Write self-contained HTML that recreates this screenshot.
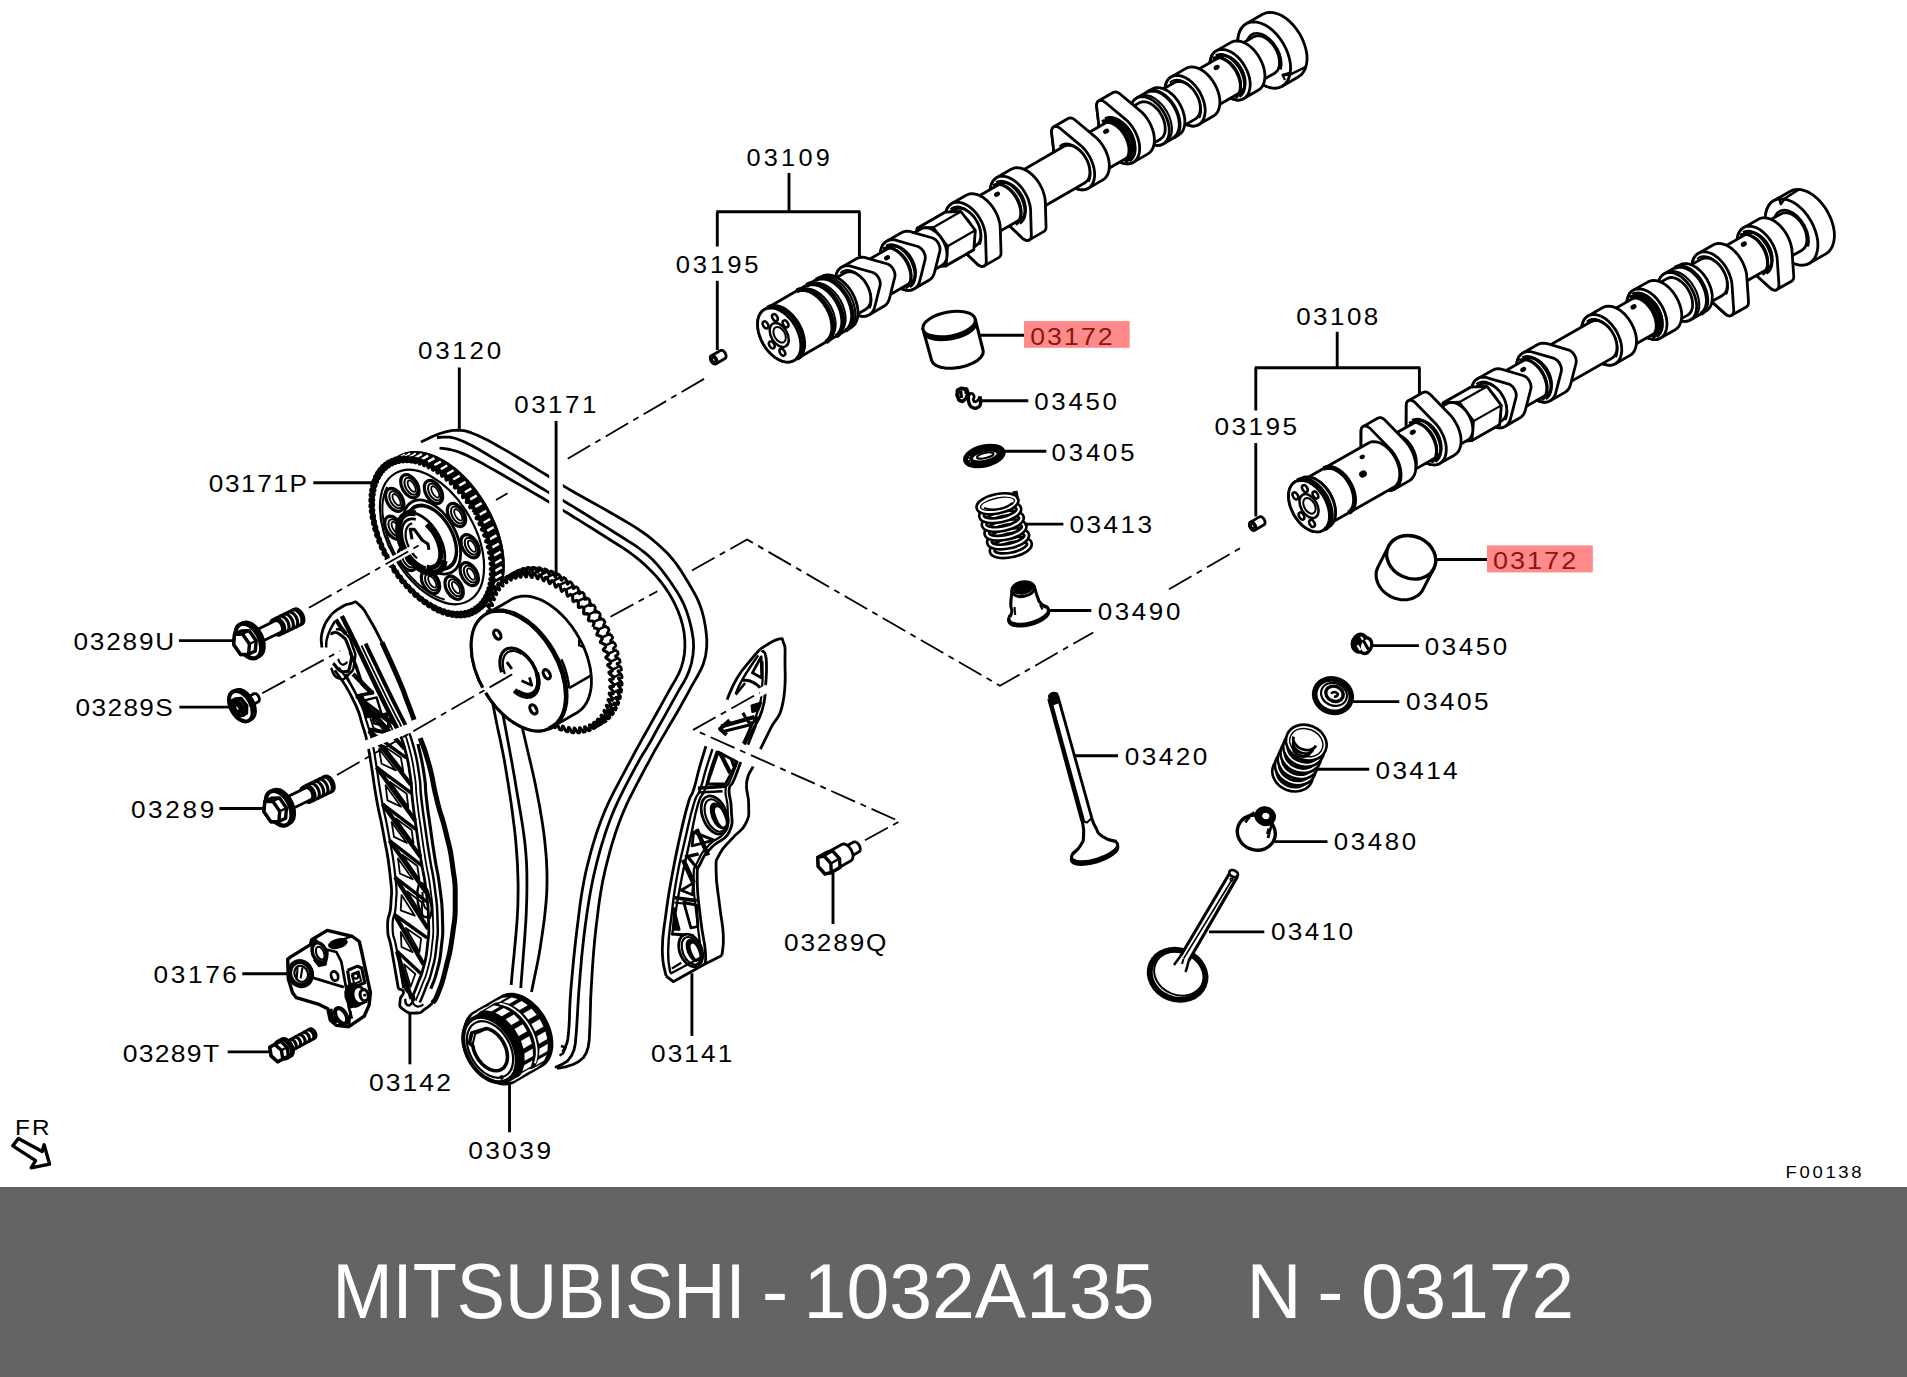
<!DOCTYPE html>
<html><head><meta charset="utf-8"><title>MITSUBISHI - 1032A135 N - 03172</title>
<style>
html,body{margin:0;padding:0;background:#fff;}
body{width:1907px;height:1377px;overflow:hidden;font-family:"Liberation Sans",Arial,sans-serif;}
svg{display:block;}
svg path,svg ellipse,svg circle{stroke-linejoin:round;stroke-linecap:butt;}
</style></head><body>
<svg width="1907" height="1377" viewBox="0 0 1907 1377">
<rect x="0" y="0" width="1907" height="1377" fill="#fff"/>
<rect x="0" y="1187" width="1907" height="190" fill="#646464"/>
<g font-family="'Liberation Sans', Arial, sans-serif" font-size="77.5" fill="#fff">
<text x="332.5" y="1318" textLength="413" lengthAdjust="spacingAndGlyphs">MITSUBISHI</text>
<text x="761.8" y="1318" textLength="26.5" lengthAdjust="spacingAndGlyphs">-</text>
<text x="803.6" y="1318" textLength="351" lengthAdjust="spacingAndGlyphs">1032A135</text>
<text x="1246.6" y="1318" textLength="55" lengthAdjust="spacingAndGlyphs">N</text>
<text x="1317.2" y="1318" textLength="26.2" lengthAdjust="spacingAndGlyphs">-</text>
<text x="1361" y="1318" textLength="213" lengthAdjust="spacingAndGlyphs">03172</text>
</g>
<g transform="translate(1309 506.1) rotate(-29.6)">
<path d="M532.7 0 L533 -5.6 L533.8 -11.1 L535.1 -16.3 L536.9 -21.2 L539.2 -25.5 L541.9 -29.1 L544.9 -32.1 L548.1 -34.2 L551.5 -35.6 L555 -36 L574 -36 L577.5 -35.6 L580.9 -34.2 L584.1 -32.1 L587.1 -29.1 L589.8 -25.5 L592.1 -21.2 L593.9 -16.3 L595.2 -11.1 L596 -5.6 L596.3 0 L596 5.6 L595.2 11.1 L593.9 16.3 L592.1 21.2 L589.8 25.5 L587.1 29.1 L584.1 32.1 L580.9 34.2 L577.5 35.6 L574 36 L555 36 L551.5 35.6 L548.1 34.2 L544.9 32.1 L541.9 29.1 L539.2 25.5 L536.9 21.2 L535.1 16.3 L533.8 11.1 L533 5.6Z" fill="#fff" stroke="#000" stroke-width="2.8" />
<path d="M577.3 0 L577 5.6 L576.2 11.1 L574.9 16.3 L573.1 21.2 L570.8 25.5 L568.1 29.1 L565.1 32.1 L561.9 34.2 L558.5 35.6 L555 36 L551.5 35.6 L548.1 34.2 L544.9 32.1 L541.9 29.1 L539.2 25.5 L536.9 21.2 L535.1 16.3 L533.8 11.1 L533 5.6 L532.7 0 L533 -5.6 L533.8 -11.1 L535.1 -16.3 L536.9 -21.2 L539.2 -25.5 L541.9 -29.1 L544.9 -32.1 L548.1 -34.2 L551.5 -35.6 L555 -36 L558.5 -35.6 L561.9 -34.2 L565.1 -32.1 L568.1 -29.1 L570.8 -25.5 L573.1 -21.2 L574.9 -16.3 L576.2 -11.1 L577 -5.6Z" fill="#fff" stroke="#000" stroke-width="2.8" />
<path d="M540.5 8.2 L539.7 2.3 L539.8 -3.7 L540.8 -9.5 L542.7 -14.7 L545.4 -19 L548.6 -22 L552.2 -23.7 L555.9 -23.9 L559.6 -22.6 L562.9 -19.8 L565.7 -15.8 L567.8 -10.8 L569 -5.1 L569.4 0.9 L568.8 6.9 L567.2 12.4 L564.9 17.1 L561.9 20.8" fill="none" stroke="#000" stroke-width="2.5" />
<path d="M560.8 -34.8 L559.5 -29.5 L566 -32.5 L582.4 -33.4" fill="none" stroke="#000" stroke-width="2.5" />
<path d="M559.5 -29.5 L561 -34" fill="none" stroke="#000" stroke-width="2.2" />
<path d="M519.5 0 L519.6 -3.3 L520.1 -6.5 L520.9 -9.5 L522 -12.3 L523.3 -14.8 L524.8 -17 L526.6 -18.7 L528.5 -20 L530.5 -20.7 L532.5 -21 L555 -21 L557 -20.7 L559 -20 L560.9 -18.7 L562.7 -17 L564.2 -14.8 L565.5 -12.3 L566.6 -9.5 L567.4 -6.5 L567.9 -3.3 L568 0 L567.9 3.3 L567.4 6.5 L566.6 9.5 L565.5 12.3 L564.2 14.8 L562.7 17 L560.9 18.7 L559 20 L557 20.7 L555 21 L532.5 21 L530.5 20.7 L528.5 20 L526.6 18.7 L524.8 17 L523.3 14.8 L522 12.3 L520.9 9.5 L520.1 6.5 L519.6 3.3Z" fill="#fff" stroke="#000" stroke-width="2.8" />
<path d="M545.5 0 L545.4 3.3 L544.9 6.5 L544.1 9.5 L543 12.3 L541.7 14.8 L540.2 17 L538.4 18.7 L536.5 20 L534.5 20.7 L532.5 21 L530.5 20.7 L528.5 20 L526.6 18.7 L524.8 17 L523.3 14.8 L522 12.3 L520.9 9.5 L520.1 6.5 L519.6 3.3 L519.5 0 L519.6 -3.3 L520.1 -6.5 L520.9 -9.5 L522 -12.3 L523.3 -14.8 L524.8 -17 L526.6 -18.7 L528.5 -20 L530.5 -20.7 L532.5 -21 L534.5 -20.7 L536.5 -20 L538.4 -18.7 L540.2 -17 L541.7 -14.8 L543 -12.3 L544.1 -9.5 L544.9 -6.5 L545.4 -3.3Z" fill="#fff" stroke="#000" stroke-width="2.8" />
<path d="M498.5 1.9 L498.5 -2.4 L499 -6.7 L499.8 -10.7 L501 -14.6 L502.6 -18 L504.5 -21.1 L506.7 -23.6 L509.1 -25.5 L511.7 -26.8 L514.3 -27.4 L531.3 -27.4 L534 -27.4 L536.6 -26.7 L539.2 -25.3 L541.5 -23.3 L543.7 -20.8 L545.6 -17.7 L547.1 -14.2 L548.3 -10.3 L549.1 -6.2 L549.5 -1.9 L549.5 2.4 L549 6.7 L548.2 10.7 L547 14.6 L545.4 18 L534.9 39.8 L534.2 40.8 L533.5 41.6 L532.8 42.2 L531.9 42.6 L531.1 42.8 L514.1 42.8 L513.2 42.8 L512.3 42.6 L511.5 42.2 L510.7 41.5 L510 40.7 L509.4 39.7 L508.9 38.5 L500.9 14.2 L499.7 10.3 L498.9 6.2Z" fill="#fff" stroke="#000" stroke-width="2.8" />
<path d="M517 -27.4 L519.6 -26.7 L522.2 -25.3 L524.5 -23.3 L526.7 -20.8 L528.6 -17.7 L530.1 -14.2 L531.3 -10.3 L532.1 -6.2 L532.5 -1.9 L532.5 2.4 L532 6.7 L531.2 10.7 L530 14.6 L528.4 18 L517.9 39.8 L517.2 40.8 L516.5 41.6 L515.8 42.2 L514.9 42.6 L514.1 42.8 L513.2 42.8 L512.3 42.6 L511.5 42.2 L510.7 41.5 L510 40.7 L509.4 39.7 L508.9 38.5 L500.9 14.2 L499.7 10.3 L498.9 6.2 L498.5 1.9 L498.5 -2.4 L499 -6.7 L499.8 -10.7 L501 -14.6 L502.6 -18 L504.5 -21.1 L506.7 -23.6 L509.1 -25.5 L511.7 -26.8 L514.3 -27.4Z" fill="#fff" stroke="#000" stroke-width="2.8" />
<path d="M467.8 0 L467.9 -3.2 L468.4 -6.3 L469.2 -9.3 L470.2 -12.1 L471.5 -14.5 L473 -16.6 L474.7 -18.3 L476.6 -19.5 L478.5 -20.2 L480.5 -20.5 L515.5 -20.5 L517.5 -20.2 L519.4 -19.5 L521.3 -18.3 L523 -16.6 L524.5 -14.5 L525.8 -12.1 L526.8 -9.3 L527.6 -6.3 L528.1 -3.2 L528.2 0 L528.1 3.2 L527.6 6.3 L526.8 9.3 L525.8 12.1 L524.5 14.5 L523 16.6 L521.3 18.3 L519.4 19.5 L517.5 20.2 L515.5 20.5 L480.5 20.5 L478.5 20.2 L476.6 19.5 L474.7 18.3 L473 16.6 L471.5 14.5 L470.2 12.1 L469.2 9.3 L468.4 6.3 L467.9 3.2Z" fill="#fff" stroke="#000" stroke-width="2.8" />
<path d="M493.2 0 L493.1 3.2 L492.6 6.3 L491.8 9.3 L490.8 12 L489.5 14.5 L488 16.6 L486.3 18.3 L484.4 19.5 L482.5 20.2 L480.5 20.5 L478.5 20.2 L476.6 19.5 L474.7 18.3 L473 16.6 L471.5 14.5 L470.2 12 L469.2 9.3 L468.4 6.3 L467.9 3.2 L467.8 0 L467.9 -3.2 L468.4 -6.3 L469.2 -9.3 L470.2 -12 L471.5 -14.5 L473 -16.6 L474.7 -18.3 L476.6 -19.5 L478.5 -20.2 L480.5 -20.5 L482.5 -20.2 L484.4 -19.5 L486.3 -18.3 L488 -16.6 L489.5 -14.5 L490.8 -12 L491.8 -9.3 L492.6 -6.3 L493.1 -3.2Z" fill="#fff" stroke="#000" stroke-width="2.8" />
<ellipse cx="507.5" cy="-13" rx="3.2" ry="2.4" fill="#000"/>
<path d="M482.5 -20.5 L484.3 -20.3 L486.1 -19.6 L487.9 -18.6 L489.5 -17.1 L490.9 -15.3 L492.2 -13.2 L493.3 -10.8 L494.2 -8.1 L494.8 -5.3 L495.1 -2.4 L495.2 0.6 L495 3.6 L494.6 6.4 L493.9 9.2 L492.9 11.8 L491.7 14.1 L490.4 16.1 L488.9 17.8" fill="none" stroke="#000" stroke-width="2.1" />
<path d="M508.5 -22.5 L510.9 -22.2 L513.3 -21.1 L515.5 -19.5 L517.5 -17.2 L519.2 -14.5 L520.6 -11.2 L521.6 -7.7 L522.2 -3.9 L522.5 0 L522.2 3.9 L521.6 7.7 L520.6 11.2 L519.2 14.5 L517.5 17.2 L515.5 19.5 L513.3 21.1 L510.9 22.2 L508.5 22.5" fill="none" stroke="#000" stroke-width="3.1" />
<path d="M512.5 -23.5 L515 -23.1 L517.5 -22.1 L519.8 -20.4 L521.9 -18 L523.7 -15.1 L525.1 -11.7 L526.2 -8 L526.8 -4.1 L527.1 0 L526.8 4.1 L526.2 8 L525.1 11.7 L523.7 15.1 L521.9 18 L519.8 20.4 L517.5 22.1 L515 23.1 L512.5 23.5" fill="none" stroke="#000" stroke-width="3.1" />
<path d="M517 -18.2 L518.5 -16.6 L519.8 -14.7 L520.9 -12.5 L521.9 -10.1 L522.6 -7.6 L523.2 -4.8 L523.5 -2 L523.5 0.8 L523.3 3.6 L522.9 6.4 L522.2 9.1 L521.4 11.5 L520.3 13.8 L519.1 15.8 L517.7 17.5 L516.1 18.9 L514.5 20 L512.8 20.7" fill="none" stroke="#000" stroke-width="1.8" />
<path d="M446.5 1.9 L446.5 -2.4 L447 -6.7 L447.8 -10.7 L449 -14.6 L450.6 -18 L452.5 -21.1 L454.7 -23.6 L457.1 -25.5 L459.7 -26.8 L462.3 -27.4 L479.3 -27.4 L482 -27.4 L484.6 -26.7 L487.2 -25.3 L489.5 -23.3 L491.7 -20.8 L493.6 -17.7 L495.1 -14.2 L496.3 -10.3 L497.1 -6.2 L497.5 -1.9 L497.5 2.4 L497 6.7 L496.2 10.7 L495 14.6 L493.4 18 L482.9 39.8 L482.2 40.8 L481.5 41.6 L480.8 42.2 L479.9 42.6 L479.1 42.8 L462.1 42.8 L461.2 42.8 L460.3 42.6 L459.5 42.2 L458.7 41.5 L458 40.7 L457.4 39.7 L456.9 38.5 L448.9 14.2 L447.7 10.3 L446.9 6.2Z" fill="#fff" stroke="#000" stroke-width="2.8" />
<path d="M465 -27.4 L467.6 -26.7 L470.2 -25.3 L472.5 -23.3 L474.7 -20.8 L476.6 -17.7 L478.1 -14.2 L479.3 -10.3 L480.1 -6.2 L480.5 -1.9 L480.5 2.4 L480 6.7 L479.2 10.7 L478 14.6 L476.4 18 L465.9 39.8 L465.2 40.8 L464.5 41.6 L463.8 42.2 L462.9 42.6 L462.1 42.8 L461.2 42.8 L460.3 42.6 L459.5 42.2 L458.7 41.5 L458 40.7 L457.4 39.7 L456.9 38.5 L448.9 14.2 L447.7 10.3 L446.9 6.2 L446.5 1.9 L446.5 -2.4 L447 -6.7 L447.8 -10.7 L449 -14.6 L450.6 -18 L452.5 -21.1 L454.7 -23.6 L457.1 -25.5 L459.7 -26.8 L462.3 -27.4Z" fill="#fff" stroke="#000" stroke-width="2.8" />
<path d="M459.5 -23.1 L461.9 -23.5 L464.3 -23.2 L466.6 -22.3 L468.8 -20.8 L470.8 -18.7 L472.6 -16.1 L474.1 -13.1 L475.3 -9.7 L476.1 -6.1 L476.5 -2.3 L476.5 1.6 L476.2 5.4 L475.4 9.1 L474.3 12.5 L472.9 15.6 L471.1 18.3 L469.2 20.5 L467 22.1" fill="none" stroke="#000" stroke-width="2.1" />
<path d="M428.6 0 L428.7 -3.3 L429.2 -6.5 L430 -9.5 L431.1 -12.3 L432.4 -14.8 L433.9 -17 L435.7 -18.7 L437.6 -20 L439.6 -20.7 L441.6 -21 L463.5 -21 L465.5 -20.7 L467.5 -20 L469.4 -18.7 L471.2 -17 L472.7 -14.8 L474 -12.3 L475.1 -9.5 L475.9 -6.5 L476.4 -3.3 L476.5 0 L476.4 3.3 L475.9 6.5 L475.1 9.5 L474 12.3 L472.7 14.8 L471.2 17 L469.4 18.7 L467.5 20 L465.5 20.7 L463.5 21 L441.6 21 L439.6 20.7 L437.6 20 L435.7 18.7 L433.9 17 L432.4 14.8 L431.1 12.3 L430 9.5 L429.2 6.5 L428.7 3.3Z" fill="#fff" stroke="#000" stroke-width="2.8" />
<path d="M454.6 0 L454.5 3.3 L454 6.5 L453.2 9.5 L452.1 12.3 L450.8 14.8 L449.3 17 L447.5 18.7 L445.6 20 L443.6 20.7 L441.6 21 L439.6 20.7 L437.6 20 L435.7 18.7 L433.9 17 L432.4 14.8 L431.1 12.3 L430 9.5 L429.2 6.5 L428.7 3.3 L428.6 0 L428.7 -3.3 L429.2 -6.5 L430 -9.5 L431.1 -12.3 L432.4 -14.8 L433.9 -17 L435.7 -18.7 L437.6 -20 L439.6 -20.7 L441.6 -21 L443.6 -20.7 L445.6 -20 L447.5 -18.7 L449.3 -17 L450.8 -14.8 L452.1 -12.3 L453.2 -9.5 L454 -6.5 L454.5 -3.3Z" fill="#fff" stroke="#000" stroke-width="2.8" />
<path d="M407.2 0 L407.4 -4.1 L408 -8.2 L409 -12 L410.3 -15.6 L412 -18.7 L413.9 -21.4 L416.1 -23.6 L418.5 -25.2 L421 -26.2 L423.6 -26.5 L441.6 -26.5 L444.2 -26.2 L446.7 -25.2 L449.1 -23.6 L451.3 -21.4 L453.2 -18.7 L454.9 -15.6 L456.2 -12 L457.2 -8.2 L457.8 -4.1 L458 0 L457.8 4.1 L457.2 8.2 L456.2 12 L454.9 15.6 L453.2 18.7 L451.3 21.4 L449.1 23.6 L446.7 25.2 L444.2 26.2 L441.6 26.5 L423.6 26.5 L421 26.2 L418.5 25.2 L416.1 23.6 L413.9 21.4 L412 18.7 L410.3 15.6 L409 12 L408 8.2 L407.4 4.1Z" fill="#fff" stroke="#000" stroke-width="2.8" />
<path d="M440 0 L439.8 4.1 L439.2 8.2 L438.2 12 L436.9 15.6 L435.2 18.7 L433.3 21.4 L431.1 23.6 L428.7 25.2 L426.2 26.2 L423.6 26.5 L421 26.2 L418.5 25.2 L416.1 23.6 L413.9 21.4 L412 18.7 L410.3 15.6 L409 12 L408 8.2 L407.4 4.1 L407.2 0 L407.4 -4.1 L408 -8.2 L409 -12 L410.3 -15.6 L412 -18.7 L413.9 -21.4 L416.1 -23.6 L418.5 -25.2 L421 -26.2 L423.6 -26.5 L426.2 -26.2 L428.7 -25.2 L431.1 -23.6 L433.3 -21.4 L435.2 -18.7 L436.9 -15.6 L438.2 -12 L439.2 -8.2 L439.8 -4.1Z" fill="#fff" stroke="#000" stroke-width="2.8" />
<path d="M426.6 -26.5 L429.5 -26.1 L432.2 -24.9 L434.8 -22.9 L437.2 -20.3 L439.2 -17 L440.8 -13.2 L442 -9.1 L442.8 -4.6 L443 0 L442.8 4.6 L442 9.1 L440.8 13.2 L439.2 17 L437.2 20.3 L434.8 22.9 L432.2 24.9 L429.5 26.1 L426.6 26.5" fill="none" stroke="#000" stroke-width="2.1" />
<path d="M435.6 -26.5 L438.5 -26.1 L441.2 -24.9 L443.8 -22.9 L446.2 -20.3 L448.2 -17 L449.8 -13.2 L451 -9.1 L451.8 -4.6 L452 0 L451.8 4.6 L451 9.1 L449.8 13.2 L448.2 17 L446.2 20.3 L443.8 22.9 L441.2 24.9 L438.5 26.1 L435.6 26.5" fill="none" stroke="#000" stroke-width="4.2" />
<path d="M392.6 0 L392.7 -3.3 L393.2 -6.5 L394 -9.5 L395.1 -12.3 L396.4 -14.8 L397.9 -17 L399.7 -18.7 L401.6 -20 L403.6 -20.7 L405.6 -21 L423.6 -21 L425.6 -20.7 L427.6 -20 L429.5 -18.7 L431.3 -17 L432.8 -14.8 L434.1 -12.3 L435.2 -9.5 L436 -6.5 L436.5 -3.3 L436.6 0 L436.5 3.3 L436 6.5 L435.2 9.5 L434.1 12.3 L432.8 14.8 L431.3 17 L429.5 18.7 L427.6 20 L425.6 20.7 L423.6 21 L405.6 21 L403.6 20.7 L401.6 20 L399.7 18.7 L397.9 17 L396.4 14.8 L395.1 12.3 L394 9.5 L393.2 6.5 L392.7 3.3Z" fill="#fff" stroke="#000" stroke-width="2.8" />
<path d="M418.6 0 L418.5 3.3 L418 6.5 L417.2 9.5 L416.1 12.3 L414.8 14.8 L413.3 17 L411.5 18.7 L409.6 20 L407.6 20.7 L405.6 21 L403.6 20.7 L401.6 20 L399.7 18.7 L397.9 17 L396.4 14.8 L395.1 12.3 L394 9.5 L393.2 6.5 L392.7 3.3 L392.6 0 L392.7 -3.3 L393.2 -6.5 L394 -9.5 L395.1 -12.3 L396.4 -14.8 L397.9 -17 L399.7 -18.7 L401.6 -20 L403.6 -20.7 L405.6 -21 L407.6 -20.7 L409.6 -20 L411.5 -18.7 L413.3 -17 L414.8 -14.8 L416.1 -12.3 L417.2 -9.5 L418 -6.5 L418.5 -3.3Z" fill="#fff" stroke="#000" stroke-width="2.8" />
<path d="M361.9 0 L362 -1.4 L362.2 -2.8 L362.5 -4.1 L363 -5.3 L363.6 -6.4 L364.2 -7.3 L378.6 -22.2 L380.9 -24.5 L383.3 -26.2 L385.9 -27.2 L388.6 -27.5 L405.6 -27.5 L408.3 -27.2 L410.9 -26.2 L413.3 -24.5 L415.6 -22.2 L417.7 -19.4 L419.4 -16.2 L420.8 -12.5 L421.8 -8.5 L422.4 -4.3 L422.6 -0 L422.4 4.3 L421.8 8.5 L420.8 12.5 L419.4 16.2 L417.7 19.4 L415.6 22.2 L413.3 24.5 L410.9 26.2 L408.3 27.2 L405.6 27.5 L388.6 27.5 L385.9 27.2 L383.3 26.2 L380.9 24.5 L378.6 22.2 L364.2 7.3 L363.6 6.4 L363 5.3 L362.5 4.1 L362.2 2.8 L362 1.4Z" fill="#fff" stroke="#000" stroke-width="2.8" />
<path d="M405.7 -0 L405.4 4.3 L404.8 8.5 L403.8 12.5 L402.4 16.2 L400.7 19.4 L398.6 22.2 L396.3 24.5 L393.9 26.2 L391.3 27.2 L388.6 27.5 L385.9 27.2 L383.3 26.2 L380.9 24.5 L378.6 22.2 L364.2 7.3 L363.6 6.4 L363 5.3 L362.5 4.1 L362.2 2.8 L362 1.4 L361.9 0 L362 -1.4 L362.2 -2.8 L362.5 -4.1 L363 -5.3 L363.6 -6.4 L364.2 -7.3 L378.6 -22.2 L380.9 -24.5 L383.3 -26.2 L385.9 -27.2 L388.6 -27.5 L391.3 -27.2 L393.9 -26.2 L396.3 -24.5 L398.6 -22.2 L400.7 -19.4 L402.4 -16.2 L403.8 -12.5 L404.8 -8.5 L405.4 -4.3Z" fill="#fff" stroke="#000" stroke-width="2.8" />
<path d="M340.9 0 L341 -3.2 L341.5 -6.3 L342.3 -9.3 L343.3 -12.1 L344.6 -14.5 L346.1 -16.6 L347.8 -18.3 L349.7 -19.5 L351.6 -20.2 L353.6 -20.5 L388.6 -20.5 L390.6 -20.2 L392.5 -19.5 L394.4 -18.3 L396.1 -16.6 L397.6 -14.5 L398.9 -12.1 L399.9 -9.3 L400.7 -6.3 L401.2 -3.2 L401.3 0 L401.2 3.2 L400.7 6.3 L399.9 9.3 L398.9 12.1 L397.6 14.5 L396.1 16.6 L394.4 18.3 L392.5 19.5 L390.6 20.2 L388.6 20.5 L353.6 20.5 L351.6 20.2 L349.7 19.5 L347.8 18.3 L346.1 16.6 L344.6 14.5 L343.3 12.1 L342.3 9.3 L341.5 6.3 L341 3.2Z" fill="#fff" stroke="#000" stroke-width="2.8" />
<path d="M366.3 0 L366.2 3.2 L365.7 6.3 L364.9 9.3 L363.9 12 L362.6 14.5 L361.1 16.6 L359.4 18.3 L357.5 19.5 L355.6 20.2 L353.6 20.5 L351.6 20.2 L349.7 19.5 L347.8 18.3 L346.1 16.6 L344.6 14.5 L343.3 12 L342.3 9.3 L341.5 6.3 L341 3.2 L340.9 0 L341 -3.2 L341.5 -6.3 L342.3 -9.3 L343.3 -12 L344.6 -14.5 L346.1 -16.6 L347.8 -18.3 L349.7 -19.5 L351.6 -20.2 L353.6 -20.5 L355.6 -20.2 L357.5 -19.5 L359.4 -18.3 L361.1 -16.6 L362.6 -14.5 L363.9 -12 L364.9 -9.3 L365.7 -6.3 L366.2 -3.2Z" fill="#fff" stroke="#000" stroke-width="2.8" />
<ellipse cx="380.6" cy="-13" rx="3.2" ry="2.4" fill="#000"/>
<path d="M355.6 -20.5 L357.4 -20.3 L359.2 -19.6 L361 -18.6 L362.6 -17.1 L364 -15.3 L365.3 -13.2 L366.4 -10.8 L367.3 -8.1 L367.9 -5.3 L368.2 -2.4 L368.3 0.6 L368.1 3.6 L367.7 6.4 L367 9.2 L366 11.8 L364.8 14.1 L363.5 16.1 L362 17.8" fill="none" stroke="#000" stroke-width="2.1" />
<path d="M381.6 -22.5 L384 -22.2 L386.4 -21.1 L388.6 -19.5 L390.6 -17.2 L392.3 -14.5 L393.7 -11.2 L394.7 -7.7 L395.3 -3.9 L395.6 0 L395.3 3.9 L394.7 7.7 L393.7 11.2 L392.3 14.5 L390.6 17.2 L388.6 19.5 L386.4 21.1 L384 22.2 L381.6 22.5" fill="none" stroke="#000" stroke-width="4.8" />
<path d="M385.6 -23.5 L388.1 -23.1 L390.6 -22.1 L392.9 -20.4 L395 -18 L396.8 -15.1 L398.2 -11.7 L399.3 -8 L399.9 -4.1 L400.2 0 L399.9 4.1 L399.3 8 L398.2 11.7 L396.8 15.1 L395 18 L392.9 20.4 L390.6 22.1 L388.1 23.1 L385.6 23.5" fill="none" stroke="#000" stroke-width="4.8" />
<path d="M390.1 -18.2 L391.6 -16.6 L392.9 -14.7 L394 -12.5 L395 -10.1 L395.7 -7.6 L396.3 -4.8 L396.6 -2 L396.6 0.8 L396.4 3.6 L396 6.4 L395.3 9.1 L394.5 11.5 L393.4 13.8 L392.2 15.8 L390.8 17.5 L389.2 18.9 L387.6 20 L385.9 20.7" fill="none" stroke="#000" stroke-width="1.8" />
<path d="M309.9 0 L310 -1.4 L310.2 -2.8 L310.5 -4.1 L311 -5.3 L311.6 -6.4 L312.2 -7.3 L326.6 -22.2 L328.9 -24.5 L331.3 -26.2 L333.9 -27.2 L336.6 -27.5 L353.6 -27.5 L356.3 -27.2 L358.9 -26.2 L361.3 -24.5 L363.6 -22.2 L365.7 -19.4 L367.4 -16.2 L368.8 -12.5 L369.8 -8.5 L370.4 -4.3 L370.6 -0 L370.4 4.3 L369.8 8.5 L368.8 12.5 L367.4 16.2 L365.7 19.4 L363.6 22.2 L361.3 24.5 L358.9 26.2 L356.3 27.2 L353.6 27.5 L336.6 27.5 L333.9 27.2 L331.3 26.2 L328.9 24.5 L326.6 22.2 L312.2 7.3 L311.6 6.4 L311 5.3 L310.5 4.1 L310.2 2.8 L310 1.4Z" fill="#fff" stroke="#000" stroke-width="2.8" />
<path d="M353.7 -0 L353.4 4.3 L352.8 8.5 L351.8 12.5 L350.4 16.2 L348.7 19.4 L346.6 22.2 L344.3 24.5 L341.9 26.2 L339.3 27.2 L336.6 27.5 L333.9 27.2 L331.3 26.2 L328.9 24.5 L326.6 22.2 L312.2 7.3 L311.6 6.4 L311 5.3 L310.5 4.1 L310.2 2.8 L310 1.4 L309.9 0 L310 -1.4 L310.2 -2.8 L310.5 -4.1 L311 -5.3 L311.6 -6.4 L312.2 -7.3 L326.6 -22.2 L328.9 -24.5 L331.3 -26.2 L333.9 -27.2 L336.6 -27.5 L339.3 -27.2 L341.9 -26.2 L344.3 -24.5 L346.6 -22.2 L348.7 -19.4 L350.4 -16.2 L351.8 -12.5 L352.8 -8.5 L353.4 -4.3Z" fill="#fff" stroke="#000" stroke-width="2.8" />
<path d="M332.6 -23.1 L335 -23.5 L337.4 -23.2 L339.7 -22.3 L341.9 -20.8 L343.9 -18.7 L345.7 -16.1 L347.2 -13.1 L348.4 -9.7 L349.2 -6.1 L349.6 -2.3 L349.6 1.6 L349.3 5.4 L348.5 9.1 L347.4 12.5 L346 15.6 L344.2 18.3 L342.3 20.5 L340.1 22.1" fill="none" stroke="#000" stroke-width="2.1" />
<path d="M265.7 0 L265.8 -3.3 L266.3 -6.5 L267.1 -9.5 L268.2 -12.3 L269.5 -14.8 L271 -17 L272.8 -18.7 L274.7 -20 L276.7 -20.7 L278.7 -21 L336.6 -21 L338.6 -20.7 L340.6 -20 L342.5 -18.7 L344.3 -17 L345.8 -14.8 L347.1 -12.3 L348.2 -9.5 L349 -6.5 L349.5 -3.3 L349.6 0 L349.5 3.3 L349 6.5 L348.2 9.5 L347.1 12.3 L345.8 14.8 L344.3 17 L342.5 18.7 L340.6 20 L338.6 20.7 L336.6 21 L278.7 21 L276.7 20.7 L274.7 20 L272.8 18.7 L271 17 L269.5 14.8 L268.2 12.3 L267.1 9.5 L266.3 6.5 L265.8 3.3Z" fill="#fff" stroke="#000" stroke-width="2.8" />
<path d="M291.7 0 L291.6 3.3 L291.1 6.5 L290.3 9.5 L289.2 12.3 L287.9 14.8 L286.4 17 L284.6 18.7 L282.7 20 L280.7 20.7 L278.7 21 L276.7 20.7 L274.7 20 L272.8 18.7 L271 17 L269.5 14.8 L268.2 12.3 L267.1 9.5 L266.3 6.5 L265.8 3.3 L265.7 0 L265.8 -3.3 L266.3 -6.5 L267.1 -9.5 L268.2 -12.3 L269.5 -14.8 L271 -17 L272.8 -18.7 L274.7 -20 L276.7 -20.7 L278.7 -21 L280.7 -20.7 L282.7 -20 L284.6 -18.7 L286.4 -17 L287.9 -14.8 L289.2 -12.3 L290.3 -9.5 L291.1 -6.5 L291.6 -3.3Z" fill="#fff" stroke="#000" stroke-width="2.8" />
<path d="M244.7 0 L244.9 -4.3 L245.5 -8.5 L246.5 -12.5 L247.9 -16.2 L249.6 -19.4 L251.7 -22.2 L254 -24.5 L256.4 -26.2 L259 -27.2 L261.7 -27.5 L278.7 -27.5 L281.4 -27.2 L284 -26.2 L286.4 -24.5 L288.7 -22.2 L303.1 -7.3 L303.7 -6.4 L304.3 -5.3 L304.8 -4.1 L305.1 -2.8 L305.3 -1.4 L305.4 0 L305.3 1.4 L305.1 2.8 L304.8 4.1 L304.3 5.3 L303.7 6.4 L303.1 7.3 L288.7 22.2 L286.4 24.5 L284 26.2 L281.4 27.2 L278.7 27.5 L261.7 27.5 L259 27.2 L256.4 26.2 L254 24.5 L251.7 22.2 L249.6 19.4 L247.9 16.2 L246.5 12.5 L245.5 8.5 L244.9 4.3Z" fill="#fff" stroke="#000" stroke-width="2.8" />
<path d="M244.6 0 L244.9 -4.3 L245.5 -8.5 L246.5 -12.5 L247.9 -16.2 L249.6 -19.4 L251.7 -22.2 L254 -24.5 L256.4 -26.2 L259 -27.2 L261.7 -27.5 L264.4 -27.2 L267 -26.2 L269.4 -24.5 L271.7 -22.2 L286.1 -7.3 L286.7 -6.4 L287.3 -5.3 L287.8 -4.1 L288.1 -2.8 L288.3 -1.4 L288.4 0 L288.3 1.4 L288.1 2.8 L287.8 4.1 L287.3 5.3 L286.7 6.4 L286.1 7.3 L271.7 22.2 L269.4 24.5 L267 26.2 L264.4 27.2 L261.7 27.5 L259 27.2 L256.4 26.2 L254 24.5 L251.7 22.2 L249.6 19.4 L247.9 16.2 L246.5 12.5 L245.5 8.5 L244.9 4.3Z" fill="#fff" stroke="#000" stroke-width="2.8" />
<path d="M214 0 L214.1 -3.2 L214.6 -6.3 L215.4 -9.3 L216.4 -12.1 L217.7 -14.5 L219.2 -16.6 L220.9 -18.3 L222.8 -19.5 L224.7 -20.2 L226.7 -20.5 L261.7 -20.5 L263.7 -20.2 L265.6 -19.5 L267.5 -18.3 L269.2 -16.6 L270.7 -14.5 L272 -12.1 L273 -9.3 L273.8 -6.3 L274.3 -3.2 L274.4 0 L274.3 3.2 L273.8 6.3 L273 9.3 L272 12.1 L270.7 14.5 L269.2 16.6 L267.5 18.3 L265.6 19.5 L263.7 20.2 L261.7 20.5 L226.7 20.5 L224.7 20.2 L222.8 19.5 L220.9 18.3 L219.2 16.6 L217.7 14.5 L216.4 12.1 L215.4 9.3 L214.6 6.3 L214.1 3.2Z" fill="#fff" stroke="#000" stroke-width="2.8" />
<path d="M239.4 0 L239.3 3.2 L238.8 6.3 L238 9.3 L237 12 L235.7 14.5 L234.2 16.6 L232.5 18.3 L230.6 19.5 L228.7 20.2 L226.7 20.5 L224.7 20.2 L222.8 19.5 L220.9 18.3 L219.2 16.6 L217.7 14.5 L216.4 12 L215.4 9.3 L214.6 6.3 L214.1 3.2 L214 0 L214.1 -3.2 L214.6 -6.3 L215.4 -9.3 L216.4 -12 L217.7 -14.5 L219.2 -16.6 L220.9 -18.3 L222.8 -19.5 L224.7 -20.2 L226.7 -20.5 L228.7 -20.2 L230.6 -19.5 L232.5 -18.3 L234.2 -16.6 L235.7 -14.5 L237 -12 L238 -9.3 L238.8 -6.3 L239.3 -3.2Z" fill="#fff" stroke="#000" stroke-width="2.8" />
<ellipse cx="253.7" cy="-13" rx="3.2" ry="2.4" fill="#000"/>
<path d="M228.7 -20.5 L230.5 -20.3 L232.3 -19.6 L234.1 -18.6 L235.7 -17.1 L237.1 -15.3 L238.4 -13.2 L239.5 -10.8 L240.4 -8.1 L241 -5.3 L241.3 -2.4 L241.4 0.6 L241.2 3.6 L240.8 6.4 L240.1 9.2 L239.1 11.8 L237.9 14.1 L236.6 16.1 L235.1 17.8" fill="none" stroke="#000" stroke-width="2.1" />
<path d="M254.7 -22.5 L257.1 -22.2 L259.5 -21.1 L261.7 -19.5 L263.7 -17.2 L265.4 -14.5 L266.8 -11.2 L267.8 -7.7 L268.4 -3.9 L268.6 0 L268.4 3.9 L267.8 7.7 L266.8 11.2 L265.4 14.5 L263.7 17.2 L261.7 19.5 L259.5 21.1 L257.1 22.2 L254.7 22.5" fill="none" stroke="#000" stroke-width="3.1" />
<path d="M258.7 -23.5 L261.2 -23.1 L263.7 -22.1 L266 -20.4 L268.1 -18 L269.9 -15.1 L271.3 -11.7 L272.4 -8 L273 -4.1 L273.3 0 L273 4.1 L272.4 8 L271.3 11.7 L269.9 15.1 L268.1 18 L266 20.4 L263.7 22.1 L261.2 23.1 L258.7 23.5" fill="none" stroke="#000" stroke-width="3.1" />
<path d="M263.2 -18.2 L264.7 -16.6 L266 -14.7 L267.1 -12.5 L268.1 -10.1 L268.8 -7.6 L269.4 -4.8 L269.7 -2 L269.7 0.8 L269.5 3.6 L269.1 6.4 L268.4 9.1 L267.6 11.5 L266.5 13.8 L265.3 15.8 L263.9 17.5 L262.3 18.9 L260.7 20 L259 20.7" fill="none" stroke="#000" stroke-width="1.8" />
<path d="M192.7 0 L192.9 -4.3 L193.5 -8.5 L194.5 -12.5 L195.9 -16.2 L197.6 -19.4 L199.7 -22.2 L202 -24.5 L204.4 -26.2 L207 -27.2 L209.7 -27.5 L226.7 -27.5 L229.4 -27.2 L232 -26.2 L234.4 -24.5 L236.7 -22.2 L251.1 -7.3 L251.7 -6.4 L252.3 -5.3 L252.8 -4.1 L253.1 -2.8 L253.3 -1.4 L253.4 0 L253.3 1.4 L253.1 2.8 L252.8 4.1 L252.3 5.3 L251.7 6.4 L251.1 7.3 L236.7 22.2 L234.4 24.5 L232 26.2 L229.4 27.2 L226.7 27.5 L209.7 27.5 L207 27.2 L204.4 26.2 L202 24.5 L199.7 22.2 L197.6 19.4 L195.9 16.2 L194.5 12.5 L193.5 8.5 L192.9 4.3Z" fill="#fff" stroke="#000" stroke-width="2.8" />
<path d="M192.6 0 L192.9 -4.3 L193.5 -8.5 L194.5 -12.5 L195.9 -16.2 L197.6 -19.4 L199.7 -22.2 L202 -24.5 L204.4 -26.2 L207 -27.2 L209.7 -27.5 L212.4 -27.2 L215 -26.2 L217.4 -24.5 L219.7 -22.2 L234.1 -7.3 L234.7 -6.4 L235.3 -5.3 L235.8 -4.1 L236.1 -2.8 L236.3 -1.4 L236.4 0 L236.3 1.4 L236.1 2.8 L235.8 4.1 L235.3 5.3 L234.7 6.4 L234.1 7.3 L219.7 22.2 L217.4 24.5 L215 26.2 L212.4 27.2 L209.7 27.5 L207 27.2 L204.4 26.2 L202 24.5 L199.7 22.2 L197.6 19.4 L195.9 16.2 L194.5 12.5 L193.5 8.5 L192.9 4.3Z" fill="#fff" stroke="#000" stroke-width="2.8" />
<path d="M205.7 -23.1 L208.1 -23.5 L210.5 -23.2 L212.8 -22.3 L215 -20.8 L217 -18.7 L218.8 -16.1 L220.3 -13.1 L221.5 -9.7 L222.3 -6.1 L222.7 -2.3 L222.7 1.6 L222.4 5.4 L221.6 9.1 L220.5 12.5 L219.1 15.6 L217.3 18.3 L215.4 20.5 L213.2 22.1" fill="none" stroke="#000" stroke-width="2.1" />
<path d="M189.8 0 L189.9 -3.3 L190.4 -6.5 L191.2 -9.5 L192.3 -12.3 L193.6 -14.8 L195.1 -17 L196.9 -18.7 L198.8 -20 L200.8 -20.7 L202.8 -21 L209.8 -21 L211.8 -20.7 L213.8 -20 L215.7 -18.7 L217.5 -17 L219 -14.8 L220.3 -12.3 L221.4 -9.5 L222.2 -6.5 L222.7 -3.3 L222.8 0 L222.7 3.3 L222.2 6.5 L221.4 9.5 L220.3 12.3 L219 14.8 L217.5 17 L215.7 18.7 L213.8 20 L211.8 20.7 L209.8 21 L202.8 21 L200.8 20.7 L198.8 20 L196.9 18.7 L195.1 17 L193.6 14.8 L192.3 12.3 L191.2 9.5 L190.4 6.5 L189.9 3.3Z" fill="#fff" stroke="#000" stroke-width="2.8" />
<path d="M215.8 0 L215.7 3.3 L215.2 6.5 L214.4 9.5 L213.3 12.3 L212 14.8 L210.5 17 L208.7 18.7 L206.8 20 L204.8 20.7 L202.8 21 L200.8 20.7 L198.8 20 L196.9 18.7 L195.1 17 L193.6 14.8 L192.3 12.3 L191.2 9.5 L190.4 6.5 L189.9 3.3 L189.8 0 L189.9 -3.3 L190.4 -6.5 L191.2 -9.5 L192.3 -12.3 L193.6 -14.8 L195.1 -17 L196.9 -18.7 L198.8 -20 L200.8 -20.7 L202.8 -21 L204.8 -20.7 L206.8 -20 L208.7 -18.7 L210.5 -17 L212 -14.8 L213.3 -12.3 L214.4 -9.5 L215.2 -6.5 L215.7 -3.3Z" fill="#fff" stroke="#000" stroke-width="2.8" />
<path d="M156.6 -7.4 L167.7 -23.5 L199.7 -23.5 L213.9 -16.1 L217 7.4 L205.9 23.5 L173.9 23.5 L159.7 16.1Z" fill="#fff" stroke="#000" stroke-width="2.8" />
<path d="M185 7.4L217 7.4" stroke="#000" stroke-width="2.2" fill="none" />
<path d="M173.9 23.5L205.9 23.5" stroke="#000" stroke-width="2.2" fill="none" />
<path d="M167.7 -23.5L199.7 -23.5" stroke="#000" stroke-width="2.2" fill="none" />
<path d="M181.9 -16.1L213.9 -16.1" stroke="#000" stroke-width="2.2" fill="none" />
<path d="M185 7.4 L173.9 23.5 L159.7 16.1 L156.6 -7.4 L167.7 -23.5 L181.9 -16.1Z" fill="#fff" stroke="#000" stroke-width="2.8" />
<path d="M138.8 0 L138.9 -3.3 L139.4 -6.5 L140.2 -9.5 L141.3 -12.3 L142.6 -14.8 L144.1 -17 L145.9 -18.7 L147.8 -20 L149.8 -20.7 L151.8 -21 L170.8 -21 L172.8 -20.7 L174.8 -20 L176.7 -18.7 L178.5 -17 L180 -14.8 L181.3 -12.3 L182.4 -9.5 L183.2 -6.5 L183.7 -3.3 L183.8 0 L183.7 3.3 L183.2 6.5 L182.4 9.5 L181.3 12.3 L180 14.8 L178.5 17 L176.7 18.7 L174.8 20 L172.8 20.7 L170.8 21 L151.8 21 L149.8 20.7 L147.8 20 L145.9 18.7 L144.1 17 L142.6 14.8 L141.3 12.3 L140.2 9.5 L139.4 6.5 L138.9 3.3Z" fill="#fff" stroke="#000" stroke-width="2.8" />
<path d="M164.8 0 L164.7 3.3 L164.2 6.5 L163.4 9.5 L162.3 12.3 L161 14.8 L159.5 17 L157.7 18.7 L155.8 20 L153.8 20.7 L151.8 21 L149.8 20.7 L147.8 20 L145.9 18.7 L144.1 17 L142.6 14.8 L141.3 12.3 L140.2 9.5 L139.4 6.5 L138.9 3.3 L138.8 0 L138.9 -3.3 L139.4 -6.5 L140.2 -9.5 L141.3 -12.3 L142.6 -14.8 L144.1 -17 L145.9 -18.7 L147.8 -20 L149.8 -20.7 L151.8 -21 L153.8 -20.7 L155.8 -20 L157.7 -18.7 L159.5 -17 L161 -14.8 L162.3 -12.3 L163.4 -9.5 L164.2 -6.5 L164.7 -3.3Z" fill="#fff" stroke="#000" stroke-width="2.8" />
<path d="M117.8 -0.5 L118 -4.8 L118.7 -9 L119.7 -12.9 L121.2 -16.6 L123 -19.8 L134.6 -40 L135.3 -40.9 L136 -41.6 L136.8 -42.1 L137.7 -42.4 L138.6 -42.5 L155.6 -42.5 L156.4 -42.3 L157.3 -42 L158.1 -41.4 L158.8 -40.7 L159.5 -39.7 L160 -38.6 L160.5 -37.4 L167.1 -12.1 L168.1 -8 L168.7 -3.8 L168.8 0.5 L168.6 4.8 L167.9 9 L166.9 12.9 L165.4 16.6 L163.6 19.8 L161.6 22.5 L159.3 24.7 L156.8 26.3 L154.2 27.2 L151.5 27.5 L134.5 27.5 L131.8 27.1 L129.2 26 L126.8 24.3 L124.5 22 L122.5 19.1 L120.8 15.8 L119.5 12.1 L118.5 8 L117.9 3.8Z" fill="#fff" stroke="#000" stroke-width="2.8" />
<path d="M131.8 27.1 L129.2 26 L126.8 24.3 L124.5 22 L122.5 19.1 L120.8 15.8 L119.5 12.1 L118.5 8 L117.9 3.8 L117.8 -0.5 L118 -4.8 L118.7 -9 L119.7 -12.9 L121.2 -16.6 L123 -19.8 L134.6 -40 L135.3 -40.9 L136 -41.6 L136.8 -42.1 L137.7 -42.4 L138.6 -42.5 L139.4 -42.3 L140.3 -42 L141.1 -41.4 L141.8 -40.7 L142.5 -39.7 L143 -38.6 L143.5 -37.4 L150.1 -12.1 L151.1 -8 L151.7 -3.8 L151.8 0.5 L151.6 4.8 L150.9 9 L149.9 12.9 L148.4 16.6 L146.6 19.8 L144.6 22.5 L142.3 24.7 L139.8 26.3 L137.2 27.2 L134.5 27.5Z" fill="#fff" stroke="#000" stroke-width="2.8" />
<path d="M87.1 0 L87.2 -3.2 L87.7 -6.3 L88.5 -9.3 L89.5 -12.1 L90.8 -14.5 L92.3 -16.6 L94 -18.3 L95.9 -19.5 L97.8 -20.2 L99.8 -20.5 L134.8 -20.5 L136.8 -20.2 L138.7 -19.5 L140.6 -18.3 L142.3 -16.6 L143.8 -14.5 L145.1 -12.1 L146.1 -9.3 L146.9 -6.3 L147.4 -3.2 L147.5 0 L147.4 3.2 L146.9 6.3 L146.1 9.3 L145.1 12.1 L143.8 14.5 L142.3 16.6 L140.6 18.3 L138.7 19.5 L136.8 20.2 L134.8 20.5 L99.8 20.5 L97.8 20.2 L95.9 19.5 L94 18.3 L92.3 16.6 L90.8 14.5 L89.5 12.1 L88.5 9.3 L87.7 6.3 L87.2 3.2Z" fill="#fff" stroke="#000" stroke-width="2.8" />
<path d="M112.5 0 L112.4 3.2 L111.9 6.3 L111.1 9.3 L110.1 12 L108.8 14.5 L107.3 16.6 L105.6 18.3 L103.7 19.5 L101.8 20.2 L99.8 20.5 L97.8 20.2 L95.9 19.5 L94 18.3 L92.3 16.6 L90.8 14.5 L89.5 12 L88.5 9.3 L87.7 6.3 L87.2 3.2 L87.1 0 L87.2 -3.2 L87.7 -6.3 L88.5 -9.3 L89.5 -12 L90.8 -14.5 L92.3 -16.6 L94 -18.3 L95.9 -19.5 L97.8 -20.2 L99.8 -20.5 L101.8 -20.2 L103.7 -19.5 L105.6 -18.3 L107.3 -16.6 L108.8 -14.5 L110.1 -12 L111.1 -9.3 L111.9 -6.3 L112.4 -3.2Z" fill="#fff" stroke="#000" stroke-width="2.8" />
<ellipse cx="126.8" cy="-13" rx="3.2" ry="2.4" fill="#000"/>
<path d="M101.8 -20.5 L103.6 -20.3 L105.4 -19.6 L107.2 -18.6 L108.8 -17.1 L110.2 -15.3 L111.5 -13.2 L112.6 -10.8 L113.5 -8.1 L114.1 -5.3 L114.4 -2.4 L114.5 0.6 L114.3 3.6 L113.9 6.4 L113.2 9.2 L112.2 11.8 L111 14.1 L109.7 16.1 L108.2 17.8" fill="none" stroke="#000" stroke-width="2.1" />
<path d="M127.8 -22.5 L130.2 -22.2 L132.6 -21.1 L134.8 -19.5 L136.8 -17.2 L138.5 -14.5 L139.9 -11.2 L140.9 -7.7 L141.5 -3.9 L141.8 0 L141.5 3.9 L140.9 7.7 L139.9 11.2 L138.5 14.5 L136.8 17.2 L134.8 19.5 L132.6 21.1 L130.2 22.2 L127.8 22.5" fill="none" stroke="#000" stroke-width="3.1" />
<path d="M131.8 -23.5 L134.3 -23.1 L136.8 -22.1 L139.1 -20.4 L141.2 -18 L143 -15.1 L144.4 -11.7 L145.5 -8 L146.1 -4.1 L146.4 0 L146.1 4.1 L145.5 8 L144.4 11.7 L143 15.1 L141.2 18 L139.1 20.4 L136.8 22.1 L134.3 23.1 L131.8 23.5" fill="none" stroke="#000" stroke-width="3.1" />
<path d="M136.3 -18.2 L137.8 -16.6 L139.1 -14.7 L140.2 -12.5 L141.2 -10.1 L141.9 -7.6 L142.5 -4.8 L142.8 -2 L142.8 0.8 L142.6 3.6 L142.2 6.4 L141.5 9.1 L140.7 11.5 L139.6 13.8 L138.4 15.8 L137 17.5 L135.4 18.9 L133.8 20 L132.1 20.7" fill="none" stroke="#000" stroke-width="1.8" />
<path d="M104.3 -21.5 L106.6 -21.2 L108.9 -20.2 L111 -18.6 L112.9 -16.5 L114.5 -13.8 L115.8 -10.7 L116.8 -7.4 L117.4 -3.7 L117.6 0 L117.4 3.7 L116.8 7.4 L115.8 10.7 L114.5 13.8 L112.9 16.5 L111 18.6 L108.9 20.2 L106.6 21.2 L104.3 21.5" fill="none" stroke="#000" stroke-width="4.8" />
<path d="M65.8 -0.5 L66 -4.8 L66.7 -9 L67.7 -12.9 L69.2 -16.6 L71 -19.8 L82.6 -40 L83.3 -40.9 L84 -41.6 L84.8 -42.1 L85.7 -42.4 L86.6 -42.5 L103.6 -42.5 L104.4 -42.3 L105.3 -42 L106.1 -41.4 L106.8 -40.7 L107.5 -39.7 L108 -38.6 L108.5 -37.4 L115.1 -12.1 L116.1 -8 L116.7 -3.8 L116.8 0.5 L116.6 4.8 L115.9 9 L114.9 12.9 L113.4 16.6 L111.6 19.8 L109.6 22.5 L107.3 24.7 L104.8 26.3 L102.2 27.2 L99.5 27.5 L82.5 27.5 L79.8 27.1 L77.2 26 L74.8 24.3 L72.5 22 L70.5 19.1 L68.8 15.8 L67.5 12.1 L66.5 8 L65.9 3.8Z" fill="#fff" stroke="#000" stroke-width="2.8" />
<path d="M79.8 27.1 L77.2 26 L74.8 24.3 L72.5 22 L70.5 19.1 L68.8 15.8 L67.5 12.1 L66.5 8 L65.9 3.8 L65.8 -0.5 L66 -4.8 L66.7 -9 L67.7 -12.9 L69.2 -16.6 L71 -19.8 L82.6 -40 L83.3 -40.9 L84 -41.6 L84.8 -42.1 L85.7 -42.4 L86.6 -42.5 L87.4 -42.3 L88.3 -42 L89.1 -41.4 L89.8 -40.7 L90.5 -39.7 L91 -38.6 L91.5 -37.4 L98.1 -12.1 L99.1 -8 L99.7 -3.8 L99.8 0.5 L99.6 4.8 L98.9 9 L97.9 12.9 L96.4 16.6 L94.6 19.8 L92.6 22.5 L90.3 24.7 L87.8 26.3 L85.2 27.2 L82.5 27.5Z" fill="#fff" stroke="#000" stroke-width="2.8" />
<path d="M-8.8 0 L-8.6 -4 L-8 -7.9 L-7.1 -11.6 L-5.8 -15 L-4.2 -18 L-2.3 -20.6 L-0.2 -22.7 L2.1 -24.3 L4.5 -25.2 L7 -25.5 L83 -25.5 L85.5 -25.2 L87.9 -24.3 L90.2 -22.7 L92.3 -20.6 L94.2 -18 L95.8 -15 L97.1 -11.6 L98 -7.9 L98.6 -4 L98.8 0 L98.6 4 L98 7.9 L97.1 11.6 L95.8 15 L94.2 18 L92.3 20.6 L90.2 22.7 L87.9 24.3 L85.5 25.2 L83 25.5 L7 25.5 L4.5 25.2 L2.1 24.3 L-0.2 22.7 L-2.3 20.6 L-4.2 18 L-5.8 15 L-7.1 11.6 L-8 7.9 L-8.6 4Z" fill="#fff" stroke="#000" stroke-width="2.8" />
<path d="M22.8 0 L22.6 4 L22 7.9 L21.1 11.6 L19.8 15 L18.2 18 L16.3 20.6 L14.2 22.7 L11.9 24.3 L9.5 25.2 L7 25.5 L4.5 25.2 L2.1 24.3 L-0.2 22.7 L-2.3 20.6 L-4.2 18 L-5.8 15 L-7.1 11.6 L-8 7.9 L-8.6 4 L-8.8 0 L-8.6 -4 L-8 -7.9 L-7.1 -11.6 L-5.8 -15 L-4.2 -18 L-2.3 -20.6 L-0.2 -22.7 L2.1 -24.3 L4.5 -25.2 L7 -25.5 L9.5 -25.2 L11.9 -24.3 L14.2 -22.7 L16.3 -20.6 L18.2 -18 L19.8 -15 L21.1 -11.6 L22 -7.9 L22.6 -4Z" fill="#fff" stroke="#000" stroke-width="2.8" />
<path d="M31 -25.5 L33.7 -25.1 L36.4 -24 L38.9 -22.1 L41.2 -19.5 L43.1 -16.4 L44.7 -12.7 L45.9 -8.7 L46.6 -4.4 L46.8 0 L46.6 4.4 L45.9 8.7 L44.7 12.7 L43.1 16.4 L41.2 19.5 L38.9 22.1 L36.4 24 L33.7 25.1 L31 25.5" fill="none" stroke="#000" stroke-width="4.8" />
<path d="M8.5 -26.5 L11.4 -26.1 L14.1 -24.9 L16.7 -22.9 L19.1 -20.3 L21.1 -17 L22.7 -13.2 L23.9 -9.1 L24.7 -4.6 L24.9 0 L24.7 4.6 L23.9 9.1 L22.7 13.2 L21.1 17 L19.1 20.3 L16.7 22.9 L14.1 24.9 L11.4 26.1 L8.5 26.5" fill="none" stroke="#000" stroke-width="2" />
<ellipse cx="70.6" cy="-16.5" rx="2.8" ry="2.2" fill="#000"/>
<ellipse cx="62.8" cy="-1.2" rx="4" ry="3.4" fill="#000"/>
<path d="M-17.4 0 L-17.1 -4.4 L-16.5 -8.7 L-15.5 -12.7 L-14 -16.5 L-12.3 -19.8 L-10.2 -22.7 L-7.9 -24.9 L-5.4 -26.6 L-2.7 -27.7 L-0 -28 L7 -28 L9.7 -27.7 L12.4 -26.6 L14.9 -24.9 L17.2 -22.7 L19.3 -19.8 L21 -16.5 L22.5 -12.7 L23.5 -8.7 L24.1 -4.4 L24.4 0 L24.1 4.4 L23.5 8.7 L22.5 12.7 L21 16.5 L19.3 19.8 L17.2 22.7 L14.9 24.9 L12.4 26.6 L9.7 27.7 L7 28 L0 28 L-2.7 27.7 L-5.4 26.6 L-7.9 24.9 L-10.2 22.7 L-12.3 19.8 L-14 16.5 L-15.5 12.7 L-16.5 8.7 L-17.1 4.4Z" fill="#fff" stroke="#000" stroke-width="2.8" />
<path d="M17.4 0 L17.1 4.4 L16.5 8.7 L15.5 12.7 L14 16.5 L12.3 19.8 L10.2 22.7 L7.9 24.9 L5.4 26.6 L2.7 27.7 L0 28 L-2.7 27.7 L-5.4 26.6 L-7.9 24.9 L-10.2 22.7 L-12.3 19.8 L-14 16.5 L-15.5 12.7 L-16.5 8.7 L-17.1 4.4 L-17.4 0 L-17.1 -4.4 L-16.5 -8.7 L-15.5 -12.7 L-14 -16.5 L-12.3 -19.8 L-10.2 -22.7 L-7.9 -24.9 L-5.4 -26.6 L-2.7 -27.7 L-0 -28 L2.7 -27.7 L5.4 -26.6 L7.9 -24.9 L10.2 -22.7 L12.3 -19.8 L14 -16.5 L15.5 -12.7 L16.5 -8.7 L17.1 -4.4Z" fill="#fff" stroke="#000" stroke-width="2.8" />
<path d="M2.5 -28 L5.5 -27.6 L8.4 -26.3 L11.2 -24.2 L13.7 -21.4 L15.8 -18 L17.5 -14 L18.8 -9.6 L19.6 -4.9 L19.9 0 L19.6 4.9 L18.8 9.6 L17.5 14 L15.8 18 L13.7 21.4 L11.2 24.2 L8.4 26.3 L5.5 27.6 L2.5 28" fill="none" stroke="#000" stroke-width="4.2" />
</g>
<g transform="translate(1309 506.1) rotate(-29.6)">
<ellipse cx="0" cy="0" rx="8.1" ry="13" fill="none" stroke="#000" stroke-width="2.5"/>
<ellipse cx="0.5" cy="0" rx="5.3" ry="8.5" fill="none" stroke="#000" stroke-width="2"/>
<ellipse cx="-6.8" cy="-15.6" rx="2.4" ry="3.8" fill="#fff" stroke="#000" stroke-width="2.5"/>
<ellipse cx="5" cy="-17.2" rx="2.4" ry="3.8" fill="#fff" stroke="#000" stroke-width="2.5"/>
<ellipse cx="11.1" cy="-6.5" rx="2.4" ry="3.8" fill="#fff" stroke="#000" stroke-width="2.5"/>
<ellipse cx="-5.9" cy="16.5" rx="2.4" ry="3.8" fill="#fff" stroke="#000" stroke-width="2.5"/>
<ellipse cx="-11.4" cy="4.9" rx="2.4" ry="3.8" fill="#fff" stroke="#000" stroke-width="2.5"/>
</g>
<g transform="translate(779.2 335) rotate(-30)">
<path d="M537.7 0 L538 -5.6 L538.8 -11.1 L540.1 -16.3 L541.9 -21.2 L544.2 -25.5 L546.9 -29.1 L549.9 -32.1 L553.1 -34.2 L556.5 -35.6 L560 -36 L579 -36 L582.5 -35.6 L585.9 -34.2 L589.1 -32.1 L592.1 -29.1 L594.8 -25.5 L597.1 -21.2 L598.9 -16.3 L600.2 -11.1 L601 -5.6 L601.3 0 L601 5.6 L600.2 11.1 L598.9 16.3 L597.1 21.2 L594.8 25.5 L592.1 29.1 L589.1 32.1 L585.9 34.2 L582.5 35.6 L579 36 L560 36 L556.5 35.6 L553.1 34.2 L549.9 32.1 L546.9 29.1 L544.2 25.5 L541.9 21.2 L540.1 16.3 L538.8 11.1 L538 5.6Z" fill="#fff" stroke="#000" stroke-width="2.8" />
<path d="M582.3 0 L582 5.6 L581.2 11.1 L579.9 16.3 L578.1 21.2 L575.8 25.5 L573.1 29.1 L570.1 32.1 L566.9 34.2 L563.5 35.6 L560 36 L556.5 35.6 L553.1 34.2 L549.9 32.1 L546.9 29.1 L544.2 25.5 L541.9 21.2 L540.1 16.3 L538.8 11.1 L538 5.6 L537.7 0 L538 -5.6 L538.8 -11.1 L540.1 -16.3 L541.9 -21.2 L544.2 -25.5 L546.9 -29.1 L549.9 -32.1 L553.1 -34.2 L556.5 -35.6 L560 -36 L563.5 -35.6 L566.9 -34.2 L570.1 -32.1 L573.1 -29.1 L575.8 -25.5 L578.1 -21.2 L579.9 -16.3 L581.2 -11.1 L582 -5.6Z" fill="#fff" stroke="#000" stroke-width="2.8" />
<path d="M545.5 8.2 L544.7 2.3 L544.8 -3.7 L545.8 -9.5 L547.7 -14.7 L550.4 -19 L553.6 -22 L557.2 -23.7 L560.9 -23.9 L564.6 -22.6 L567.9 -19.8 L570.7 -15.8 L572.8 -10.8 L574 -5.1 L574.4 0.9 L573.8 6.9 L572.2 12.4 L569.9 17.1 L566.9 20.8" fill="none" stroke="#000" stroke-width="2.5" />
<path d="M573.7 28.4 L566 26.5 L572 30 L590.2 31.2" fill="none" stroke="#000" stroke-width="2.5" />
<path d="M566 26.5 L565.5 32" fill="none" stroke="#000" stroke-width="2.2" />
<path d="M524.6 0 L524.7 -3.3 L525.2 -6.5 L526 -9.5 L527.1 -12.3 L528.4 -14.8 L529.9 -17 L531.7 -18.7 L533.6 -20 L535.6 -20.7 L537.6 -21 L560 -21 L562 -20.7 L564 -20 L565.9 -18.7 L567.7 -17 L569.2 -14.8 L570.5 -12.3 L571.6 -9.5 L572.4 -6.5 L572.9 -3.3 L573 0 L572.9 3.3 L572.4 6.5 L571.6 9.5 L570.5 12.3 L569.2 14.8 L567.7 17 L565.9 18.7 L564 20 L562 20.7 L560 21 L537.6 21 L535.6 20.7 L533.6 20 L531.7 18.7 L529.9 17 L528.4 14.8 L527.1 12.3 L526 9.5 L525.2 6.5 L524.7 3.3Z" fill="#fff" stroke="#000" stroke-width="2.8" />
<path d="M550.6 0 L550.5 3.3 L550 6.5 L549.2 9.5 L548.1 12.3 L546.8 14.8 L545.3 17 L543.5 18.7 L541.6 20 L539.6 20.7 L537.6 21 L535.6 20.7 L533.6 20 L531.7 18.7 L529.9 17 L528.4 14.8 L527.1 12.3 L526 9.5 L525.2 6.5 L524.7 3.3 L524.6 0 L524.7 -3.3 L525.2 -6.5 L526 -9.5 L527.1 -12.3 L528.4 -14.8 L529.9 -17 L531.7 -18.7 L533.6 -20 L535.6 -20.7 L537.6 -21 L539.6 -20.7 L541.6 -20 L543.5 -18.7 L545.3 -17 L546.8 -14.8 L548.1 -12.3 L549.2 -9.5 L550 -6.5 L550.5 -3.3Z" fill="#fff" stroke="#000" stroke-width="2.8" />
<path d="M493.9 0 L494 -1.4 L494.2 -2.8 L494.5 -4.1 L495 -5.3 L495.6 -6.4 L496.2 -7.3 L510.6 -22.2 L512.9 -24.5 L515.3 -26.2 L517.9 -27.2 L520.6 -27.5 L537.6 -27.5 L540.3 -27.2 L542.9 -26.2 L545.3 -24.5 L547.6 -22.2 L549.7 -19.4 L551.4 -16.2 L552.8 -12.5 L553.8 -8.5 L554.4 -4.3 L554.6 -0 L554.4 4.3 L553.8 8.5 L552.8 12.5 L551.4 16.2 L549.7 19.4 L547.6 22.2 L545.3 24.5 L542.9 26.2 L540.3 27.2 L537.6 27.5 L520.6 27.5 L517.9 27.2 L515.3 26.2 L512.9 24.5 L510.6 22.2 L496.2 7.3 L495.6 6.4 L495 5.3 L494.5 4.1 L494.2 2.8 L494 1.4Z" fill="#fff" stroke="#000" stroke-width="2.8" />
<path d="M537.6 -0 L537.4 4.3 L536.8 8.5 L535.8 12.5 L534.4 16.2 L532.7 19.4 L530.6 22.2 L528.3 24.5 L525.9 26.2 L523.3 27.2 L520.6 27.5 L517.9 27.2 L515.3 26.2 L512.9 24.5 L510.6 22.2 L496.2 7.3 L495.6 6.4 L495 5.3 L494.5 4.1 L494.2 2.8 L494 1.4 L493.9 0 L494 -1.4 L494.2 -2.8 L494.5 -4.1 L495 -5.3 L495.6 -6.4 L496.2 -7.3 L510.6 -22.2 L512.9 -24.5 L515.3 -26.2 L517.9 -27.2 L520.6 -27.5 L523.3 -27.2 L525.9 -26.2 L528.3 -24.5 L530.6 -22.2 L532.7 -19.4 L534.4 -16.2 L535.8 -12.5 L536.8 -8.5 L537.4 -4.3Z" fill="#fff" stroke="#000" stroke-width="2.8" />
<path d="M472.9 0 L473 -3.2 L473.5 -6.3 L474.3 -9.3 L475.3 -12.1 L476.6 -14.5 L478.1 -16.6 L479.8 -18.3 L481.7 -19.5 L483.6 -20.2 L485.6 -20.5 L520.6 -20.5 L522.6 -20.2 L524.5 -19.5 L526.4 -18.3 L528.1 -16.6 L529.6 -14.5 L530.9 -12.1 L531.9 -9.3 L532.7 -6.3 L533.2 -3.2 L533.3 0 L533.2 3.2 L532.7 6.3 L531.9 9.3 L530.9 12.1 L529.6 14.5 L528.1 16.6 L526.4 18.3 L524.5 19.5 L522.6 20.2 L520.6 20.5 L485.6 20.5 L483.6 20.2 L481.7 19.5 L479.8 18.3 L478.1 16.6 L476.6 14.5 L475.3 12.1 L474.3 9.3 L473.5 6.3 L473 3.2Z" fill="#fff" stroke="#000" stroke-width="2.8" />
<path d="M498.3 0 L498.2 3.2 L497.7 6.3 L496.9 9.3 L495.9 12 L494.6 14.5 L493.1 16.6 L491.4 18.3 L489.5 19.5 L487.6 20.2 L485.6 20.5 L483.6 20.2 L481.7 19.5 L479.8 18.3 L478.1 16.6 L476.6 14.5 L475.3 12 L474.3 9.3 L473.5 6.3 L473 3.2 L472.9 0 L473 -3.2 L473.5 -6.3 L474.3 -9.3 L475.3 -12 L476.6 -14.5 L478.1 -16.6 L479.8 -18.3 L481.7 -19.5 L483.6 -20.2 L485.6 -20.5 L487.6 -20.2 L489.5 -19.5 L491.4 -18.3 L493.1 -16.6 L494.6 -14.5 L495.9 -12 L496.9 -9.3 L497.7 -6.3 L498.2 -3.2Z" fill="#fff" stroke="#000" stroke-width="2.8" />
<ellipse cx="512.6" cy="-13" rx="3.2" ry="2.4" fill="#000"/>
<path d="M487.6 -20.5 L489.4 -20.3 L491.2 -19.6 L493 -18.6 L494.6 -17.1 L496 -15.3 L497.3 -13.2 L498.4 -10.8 L499.3 -8.1 L499.9 -5.3 L500.2 -2.4 L500.3 0.6 L500.1 3.6 L499.7 6.4 L499 9.2 L498 11.8 L496.8 14.1 L495.5 16.1 L494 17.8" fill="none" stroke="#000" stroke-width="2.1" />
<path d="M513.6 -22.5 L516 -22.2 L518.4 -21.1 L520.6 -19.5 L522.6 -17.2 L524.3 -14.5 L525.7 -11.2 L526.7 -7.7 L527.3 -3.9 L527.6 0 L527.3 3.9 L526.7 7.7 L525.7 11.2 L524.3 14.5 L522.6 17.2 L520.6 19.5 L518.4 21.1 L516 22.2 L513.6 22.5" fill="none" stroke="#000" stroke-width="3.1" />
<path d="M517.6 -23.5 L520.1 -23.1 L522.6 -22.1 L524.9 -20.4 L527 -18 L528.8 -15.1 L530.2 -11.7 L531.3 -8 L531.9 -4.1 L532.2 0 L531.9 4.1 L531.3 8 L530.2 11.7 L528.8 15.1 L527 18 L524.9 20.4 L522.6 22.1 L520.1 23.1 L517.6 23.5" fill="none" stroke="#000" stroke-width="3.1" />
<path d="M522.1 -18.2 L523.6 -16.6 L524.9 -14.7 L526 -12.5 L527 -10.1 L527.7 -7.6 L528.3 -4.8 L528.6 -2 L528.6 0.8 L528.4 3.6 L528 6.4 L527.3 9.1 L526.5 11.5 L525.4 13.8 L524.2 15.8 L522.8 17.5 L521.2 18.9 L519.6 20 L517.9 20.7" fill="none" stroke="#000" stroke-width="1.8" />
<path d="M441.9 0 L442 -1.4 L442.2 -2.8 L442.5 -4.1 L443 -5.3 L443.6 -6.4 L444.2 -7.3 L458.6 -22.2 L460.9 -24.5 L463.3 -26.2 L465.9 -27.2 L468.6 -27.5 L485.6 -27.5 L488.3 -27.2 L490.9 -26.2 L493.3 -24.5 L495.6 -22.2 L497.7 -19.4 L499.4 -16.2 L500.8 -12.5 L501.8 -8.5 L502.4 -4.3 L502.6 -0 L502.4 4.3 L501.8 8.5 L500.8 12.5 L499.4 16.2 L497.7 19.4 L495.6 22.2 L493.3 24.5 L490.9 26.2 L488.3 27.2 L485.6 27.5 L468.6 27.5 L465.9 27.2 L463.3 26.2 L460.9 24.5 L458.6 22.2 L444.2 7.3 L443.6 6.4 L443 5.3 L442.5 4.1 L442.2 2.8 L442 1.4Z" fill="#fff" stroke="#000" stroke-width="2.8" />
<path d="M485.7 -0 L485.4 4.3 L484.8 8.5 L483.8 12.5 L482.4 16.2 L480.7 19.4 L478.6 22.2 L476.3 24.5 L473.9 26.2 L471.3 27.2 L468.6 27.5 L465.9 27.2 L463.3 26.2 L460.9 24.5 L458.6 22.2 L444.2 7.3 L443.6 6.4 L443 5.3 L442.5 4.1 L442.2 2.8 L442 1.4 L441.9 0 L442 -1.4 L442.2 -2.8 L442.5 -4.1 L443 -5.3 L443.6 -6.4 L444.2 -7.3 L458.6 -22.2 L460.9 -24.5 L463.3 -26.2 L465.9 -27.2 L468.6 -27.5 L471.3 -27.2 L473.9 -26.2 L476.3 -24.5 L478.6 -22.2 L480.7 -19.4 L482.4 -16.2 L483.8 -12.5 L484.8 -8.5 L485.4 -4.3Z" fill="#fff" stroke="#000" stroke-width="2.8" />
<path d="M464.6 -23.1 L467 -23.5 L469.4 -23.2 L471.7 -22.3 L473.9 -20.8 L475.9 -18.7 L477.7 -16.1 L479.2 -13.1 L480.4 -9.7 L481.2 -6.1 L481.6 -2.3 L481.6 1.6 L481.3 5.4 L480.5 9.1 L479.4 12.5 L478 15.6 L476.2 18.3 L474.3 20.5 L472.1 22.1" fill="none" stroke="#000" stroke-width="2.1" />
<path d="M433 0 L433.1 -3.3 L433.6 -6.5 L434.4 -9.5 L435.5 -12.3 L436.8 -14.8 L438.3 -17 L440.1 -18.7 L442 -20 L444 -20.7 L446 -21 L468.6 -21 L470.6 -20.7 L472.6 -20 L474.5 -18.7 L476.3 -17 L477.8 -14.8 L479.1 -12.3 L480.2 -9.5 L481 -6.5 L481.5 -3.3 L481.6 0 L481.5 3.3 L481 6.5 L480.2 9.5 L479.1 12.3 L477.8 14.8 L476.3 17 L474.5 18.7 L472.6 20 L470.6 20.7 L468.6 21 L446 21 L444 20.7 L442 20 L440.1 18.7 L438.3 17 L436.8 14.8 L435.5 12.3 L434.4 9.5 L433.6 6.5 L433.1 3.3Z" fill="#fff" stroke="#000" stroke-width="2.8" />
<path d="M459 0 L458.9 3.3 L458.4 6.5 L457.6 9.5 L456.5 12.3 L455.2 14.8 L453.7 17 L451.9 18.7 L450 20 L448 20.7 L446 21 L444 20.7 L442 20 L440.1 18.7 L438.3 17 L436.8 14.8 L435.5 12.3 L434.4 9.5 L433.6 6.5 L433.1 3.3 L433 0 L433.1 -3.3 L433.6 -6.5 L434.4 -9.5 L435.5 -12.3 L436.8 -14.8 L438.3 -17 L440.1 -18.7 L442 -20 L444 -20.7 L446 -21 L448 -20.7 L450 -20 L451.9 -18.7 L453.7 -17 L455.2 -14.8 L456.5 -12.3 L457.6 -9.5 L458.4 -6.5 L458.9 -3.3Z" fill="#fff" stroke="#000" stroke-width="2.8" />
<path d="M411.6 0 L411.8 -4.1 L412.4 -8.2 L413.4 -12 L414.7 -15.6 L416.4 -18.7 L418.3 -21.4 L420.5 -23.6 L422.9 -25.2 L425.4 -26.2 L428 -26.5 L446 -26.5 L448.6 -26.2 L451.1 -25.2 L453.5 -23.6 L455.7 -21.4 L457.6 -18.7 L459.3 -15.6 L460.6 -12 L461.6 -8.2 L462.2 -4.1 L462.4 0 L462.2 4.1 L461.6 8.2 L460.6 12 L459.3 15.6 L457.6 18.7 L455.7 21.4 L453.5 23.6 L451.1 25.2 L448.6 26.2 L446 26.5 L428 26.5 L425.4 26.2 L422.9 25.2 L420.5 23.6 L418.3 21.4 L416.4 18.7 L414.7 15.6 L413.4 12 L412.4 8.2 L411.8 4.1Z" fill="#fff" stroke="#000" stroke-width="2.8" />
<path d="M444.4 0 L444.2 4.1 L443.6 8.2 L442.6 12 L441.3 15.6 L439.6 18.7 L437.7 21.4 L435.5 23.6 L433.1 25.2 L430.6 26.2 L428 26.5 L425.4 26.2 L422.9 25.2 L420.5 23.6 L418.3 21.4 L416.4 18.7 L414.7 15.6 L413.4 12 L412.4 8.2 L411.8 4.1 L411.6 0 L411.8 -4.1 L412.4 -8.2 L413.4 -12 L414.7 -15.6 L416.4 -18.7 L418.3 -21.4 L420.5 -23.6 L422.9 -25.2 L425.4 -26.2 L428 -26.5 L430.6 -26.2 L433.1 -25.2 L435.5 -23.6 L437.7 -21.4 L439.6 -18.7 L441.3 -15.6 L442.6 -12 L443.6 -8.2 L444.2 -4.1Z" fill="#fff" stroke="#000" stroke-width="2.8" />
<path d="M431 -26.5 L433.9 -26.1 L436.6 -24.9 L439.2 -22.9 L441.6 -20.3 L443.6 -17 L445.2 -13.2 L446.4 -9.1 L447.2 -4.6 L447.4 0 L447.2 4.6 L446.4 9.1 L445.2 13.2 L443.6 17 L441.6 20.3 L439.2 22.9 L436.6 24.9 L433.9 26.1 L431 26.5" fill="none" stroke="#000" stroke-width="2.1" />
<path d="M440 -26.5 L442.9 -26.1 L445.6 -24.9 L448.2 -22.9 L450.6 -20.3 L452.6 -17 L454.2 -13.2 L455.4 -9.1 L456.2 -4.6 L456.4 0 L456.2 4.6 L455.4 9.1 L454.2 13.2 L452.6 17 L450.6 20.3 L448.2 22.9 L445.6 24.9 L442.9 26.1 L440 26.5" fill="none" stroke="#000" stroke-width="3.6" />
<path d="M397 0 L397.1 -3.3 L397.6 -6.5 L398.4 -9.5 L399.5 -12.3 L400.8 -14.8 L402.3 -17 L404.1 -18.7 L406 -20 L408 -20.7 L410 -21 L428 -21 L430 -20.7 L432 -20 L433.9 -18.7 L435.7 -17 L437.2 -14.8 L438.5 -12.3 L439.6 -9.5 L440.4 -6.5 L440.9 -3.3 L441 0 L440.9 3.3 L440.4 6.5 L439.6 9.5 L438.5 12.3 L437.2 14.8 L435.7 17 L433.9 18.7 L432 20 L430 20.7 L428 21 L410 21 L408 20.7 L406 20 L404.1 18.7 L402.3 17 L400.8 14.8 L399.5 12.3 L398.4 9.5 L397.6 6.5 L397.1 3.3Z" fill="#fff" stroke="#000" stroke-width="2.8" />
<path d="M423 0 L422.9 3.3 L422.4 6.5 L421.6 9.5 L420.5 12.3 L419.2 14.8 L417.7 17 L415.9 18.7 L414 20 L412 20.7 L410 21 L408 20.7 L406 20 L404.1 18.7 L402.3 17 L400.8 14.8 L399.5 12.3 L398.4 9.5 L397.6 6.5 L397.1 3.3 L397 0 L397.1 -3.3 L397.6 -6.5 L398.4 -9.5 L399.5 -12.3 L400.8 -14.8 L402.3 -17 L404.1 -18.7 L406 -20 L408 -20.7 L410 -21 L412 -20.7 L414 -20 L415.9 -18.7 L417.7 -17 L419.2 -14.8 L420.5 -12.3 L421.6 -9.5 L422.4 -6.5 L422.9 -3.3Z" fill="#fff" stroke="#000" stroke-width="2.8" />
<path d="M376 -1 L376.3 -5.2 L377 -9.4 L378.1 -13.3 L379.6 -16.9 L389.3 -39.5 L389.9 -40.6 L390.6 -41.4 L391.4 -42.1 L392.2 -42.6 L393.1 -42.9 L393.9 -43 L410.9 -43 L411.8 -42.8 L412.6 -42.4 L413.4 -41.9 L414.2 -41.1 L414.8 -40.1 L415.4 -39 L424.1 -15.4 L425.5 -11.6 L426.4 -7.6 L426.9 -3.4 L427 1 L426.7 5.2 L426 9.4 L424.9 13.3 L423.4 16.9 L421.6 20.1 L419.5 22.8 L417.2 24.9 L414.7 26.4 L412.1 27.3 L409.4 27.5 L392.4 27.5 L389.7 27 L387.2 25.8 L384.7 24.1 L382.5 21.7 L380.5 18.8 L378.9 15.4 L377.5 11.6 L376.6 7.6 L376.1 3.4Z" fill="#fff" stroke="#000" stroke-width="2.8" />
<path d="M392.4 27.5 L389.7 27 L387.2 25.8 L384.7 24.1 L382.5 21.7 L380.5 18.8 L378.9 15.4 L377.5 11.6 L376.6 7.6 L376.1 3.4 L376 -1 L376.3 -5.2 L377 -9.4 L378.1 -13.3 L379.6 -16.9 L389.3 -39.5 L389.9 -40.6 L390.6 -41.4 L391.4 -42.1 L392.2 -42.6 L393.1 -42.9 L393.9 -43 L394.8 -42.8 L395.6 -42.4 L396.4 -41.9 L397.2 -41.1 L397.8 -40.1 L398.4 -39 L407.1 -15.4 L408.5 -11.6 L409.4 -7.6 L409.9 -3.4 L410 1 L409.7 5.2 L409 9.4 L407.9 13.3 L406.4 16.9 L404.6 20.1 L402.5 22.8 L400.2 24.9 L397.7 26.4 L395.1 27.3Z" fill="#fff" stroke="#000" stroke-width="2.8" />
<path d="M345.3 0 L345.4 -3.2 L345.9 -6.3 L346.7 -9.3 L347.7 -12.1 L349 -14.5 L350.5 -16.6 L352.2 -18.3 L354.1 -19.5 L356 -20.2 L358 -20.5 L393 -20.5 L395 -20.2 L396.9 -19.5 L398.8 -18.3 L400.5 -16.6 L402 -14.5 L403.3 -12.1 L404.3 -9.3 L405.1 -6.3 L405.6 -3.2 L405.7 0 L405.6 3.2 L405.1 6.3 L404.3 9.3 L403.3 12.1 L402 14.5 L400.5 16.6 L398.8 18.3 L396.9 19.5 L395 20.2 L393 20.5 L358 20.5 L356 20.2 L354.1 19.5 L352.2 18.3 L350.5 16.6 L349 14.5 L347.7 12.1 L346.7 9.3 L345.9 6.3 L345.4 3.2Z" fill="#fff" stroke="#000" stroke-width="2.8" />
<path d="M370.7 0 L370.6 3.2 L370.1 6.3 L369.3 9.3 L368.3 12 L367 14.5 L365.5 16.6 L363.8 18.3 L361.9 19.5 L360 20.2 L358 20.5 L356 20.2 L354.1 19.5 L352.2 18.3 L350.5 16.6 L349 14.5 L347.7 12 L346.7 9.3 L345.9 6.3 L345.4 3.2 L345.3 0 L345.4 -3.2 L345.9 -6.3 L346.7 -9.3 L347.7 -12 L349 -14.5 L350.5 -16.6 L352.2 -18.3 L354.1 -19.5 L356 -20.2 L358 -20.5 L360 -20.2 L361.9 -19.5 L363.8 -18.3 L365.5 -16.6 L367 -14.5 L368.3 -12 L369.3 -9.3 L370.1 -6.3 L370.6 -3.2Z" fill="#fff" stroke="#000" stroke-width="2.8" />
<ellipse cx="385" cy="-13" rx="3.2" ry="2.4" fill="#000"/>
<path d="M360 -20.5 L361.8 -20.3 L363.6 -19.6 L365.4 -18.6 L367 -17.1 L368.4 -15.3 L369.7 -13.2 L370.8 -10.8 L371.7 -8.1 L372.3 -5.3 L372.6 -2.4 L372.7 0.6 L372.5 3.6 L372.1 6.4 L371.4 9.2 L370.4 11.8 L369.2 14.1 L367.9 16.1 L366.4 17.8" fill="none" stroke="#000" stroke-width="2.1" />
<path d="M386 -22.5 L388.4 -22.2 L390.8 -21.1 L393 -19.5 L395 -17.2 L396.7 -14.5 L398.1 -11.2 L399.1 -7.7 L399.7 -3.9 L399.9 0 L399.7 3.9 L399.1 7.7 L398.1 11.2 L396.7 14.5 L395 17.2 L393 19.5 L390.8 21.1 L388.4 22.2 L386 22.5" fill="none" stroke="#000" stroke-width="4.8" />
<path d="M390 -23.5 L392.5 -23.1 L395 -22.1 L397.3 -20.4 L399.4 -18 L401.2 -15.1 L402.6 -11.7 L403.7 -8 L404.3 -4.1 L404.6 0 L404.3 4.1 L403.7 8 L402.6 11.7 L401.2 15.1 L399.4 18 L397.3 20.4 L395 22.1 L392.5 23.1 L390 23.5" fill="none" stroke="#000" stroke-width="4.8" />
<path d="M394.5 -18.2 L396 -16.6 L397.3 -14.7 L398.4 -12.5 L399.4 -10.1 L400.1 -7.6 L400.7 -4.8 L401 -2 L401 0.8 L400.8 3.6 L400.4 6.4 L399.7 9.1 L398.9 11.5 L397.8 13.8 L396.6 15.8 L395.2 17.5 L393.6 18.9 L392 20 L390.3 20.7" fill="none" stroke="#000" stroke-width="1.8" />
<path d="M324 -1 L324.3 -5.2 L325 -9.4 L326.1 -13.3 L327.6 -16.9 L337.3 -39.5 L337.9 -40.6 L338.6 -41.4 L339.4 -42.1 L340.2 -42.6 L341.1 -42.9 L341.9 -43 L358.9 -43 L359.8 -42.8 L360.6 -42.4 L361.4 -41.9 L362.2 -41.1 L362.8 -40.1 L363.4 -39 L372.1 -15.4 L373.5 -11.6 L374.4 -7.6 L374.9 -3.4 L375 1 L374.7 5.2 L374 9.4 L372.9 13.3 L371.4 16.9 L369.6 20.1 L367.5 22.8 L365.2 24.9 L362.7 26.4 L360.1 27.3 L357.4 27.5 L340.4 27.5 L337.7 27 L335.2 25.8 L332.7 24.1 L330.5 21.7 L328.5 18.8 L326.9 15.4 L325.5 11.6 L324.6 7.6 L324.1 3.4Z" fill="#fff" stroke="#000" stroke-width="2.8" />
<path d="M340.4 27.5 L337.7 27 L335.2 25.8 L332.7 24.1 L330.5 21.7 L328.5 18.8 L326.9 15.4 L325.5 11.6 L324.6 7.6 L324.1 3.4 L324 -1 L324.3 -5.2 L325 -9.4 L326.1 -13.3 L327.6 -16.9 L337.3 -39.5 L337.9 -40.6 L338.6 -41.4 L339.4 -42.1 L340.2 -42.6 L341.1 -42.9 L341.9 -43 L342.8 -42.8 L343.6 -42.4 L344.4 -41.9 L345.2 -41.1 L345.8 -40.1 L346.4 -39 L355.1 -15.4 L356.5 -11.6 L357.4 -7.6 L357.9 -3.4 L358 1 L357.7 5.2 L357 9.4 L355.9 13.3 L354.4 16.9 L352.6 20.1 L350.5 22.8 L348.2 24.9 L345.7 26.4 L343.1 27.3Z" fill="#fff" stroke="#000" stroke-width="2.8" />
<path d="M337 -23.1 L339.4 -23.5 L341.8 -23.2 L344.1 -22.3 L346.3 -20.8 L348.3 -18.7 L350.1 -16.1 L351.6 -13.1 L352.8 -9.7 L353.6 -6.1 L354 -2.3 L354 1.6 L353.7 5.4 L352.9 9.1 L351.8 12.5 L350.4 15.6 L348.6 18.3 L346.7 20.5 L344.5 22.1" fill="none" stroke="#000" stroke-width="2.1" />
<path d="M271 0 L271.1 -3.3 L271.6 -6.5 L272.4 -9.5 L273.5 -12.3 L274.8 -14.8 L276.3 -17 L278.1 -18.7 L280 -20 L282 -20.7 L284 -21 L341 -21 L343 -20.7 L345 -20 L346.9 -18.7 L348.7 -17 L350.2 -14.8 L351.5 -12.3 L352.6 -9.5 L353.4 -6.5 L353.9 -3.3 L354 0 L353.9 3.3 L353.4 6.5 L352.6 9.5 L351.5 12.3 L350.2 14.8 L348.7 17 L346.9 18.7 L345 20 L343 20.7 L341 21 L284 21 L282 20.7 L280 20 L278.1 18.7 L276.3 17 L274.8 14.8 L273.5 12.3 L272.4 9.5 L271.6 6.5 L271.1 3.3Z" fill="#fff" stroke="#000" stroke-width="2.8" />
<path d="M297 0 L296.9 3.3 L296.4 6.5 L295.6 9.5 L294.5 12.3 L293.2 14.8 L291.7 17 L289.9 18.7 L288 20 L286 20.7 L284 21 L282 20.7 L280 20 L278.1 18.7 L276.3 17 L274.8 14.8 L273.5 12.3 L272.4 9.5 L271.6 6.5 L271.1 3.3 L271 0 L271.1 -3.3 L271.6 -6.5 L272.4 -9.5 L273.5 -12.3 L274.8 -14.8 L276.3 -17 L278.1 -18.7 L280 -20 L282 -20.7 L284 -21 L286 -20.7 L288 -20 L289.9 -18.7 L291.7 -17 L293.2 -14.8 L294.5 -12.3 L295.6 -9.5 L296.4 -6.5 L296.9 -3.3Z" fill="#fff" stroke="#000" stroke-width="2.8" />
<path d="M250 0.5 L250.1 -3.8 L250.7 -8 L251.7 -12.1 L253 -15.8 L254.7 -19.1 L256.7 -22 L259 -24.3 L261.4 -26 L264 -27.1 L266.7 -27.5 L283.7 -27.5 L286.4 -27.2 L289 -26.3 L291.5 -24.7 L293.8 -22.5 L295.8 -19.8 L297.6 -16.6 L299.1 -12.9 L300.1 -9 L300.8 -4.8 L301 -0.5 L300.9 3.8 L300.3 8 L299.3 12.1 L298 15.8 L296.3 19.1 L285.1 39.9 L284.4 40.9 L283.7 41.6 L282.9 42.2 L282 42.5 L281.2 42.7 L264.2 42.7 L263.3 42.6 L262.4 42.3 L261.6 41.8 L260.9 41 L260.2 40.1 L259.6 39.1 L259.1 37.9 L251.9 12.9 L250.9 9 L250.2 4.8Z" fill="#fff" stroke="#000" stroke-width="2.8" />
<path d="M269.4 -27.2 L272 -26.3 L274.5 -24.7 L276.8 -22.5 L278.8 -19.8 L280.6 -16.5 L282.1 -12.9 L283.1 -9 L283.8 -4.8 L284 -0.5 L283.9 3.8 L283.3 8 L282.3 12.1 L281 15.8 L279.3 19.1 L268.1 39.9 L267.4 40.9 L266.7 41.6 L265.9 42.2 L265 42.5 L264.2 42.7 L263.3 42.6 L262.4 42.3 L261.6 41.8 L260.9 41 L260.2 40.1 L259.6 39.1 L259.1 37.9 L251.9 12.9 L250.9 9 L250.2 4.8 L250 0.5 L250.1 -3.8 L250.7 -8 L251.7 -12.1 L253 -15.8 L254.7 -19.1 L256.7 -22 L259 -24.3 L261.4 -26 L264 -27.1 L266.7 -27.5Z" fill="#fff" stroke="#000" stroke-width="2.8" />
<path d="M219.3 0 L219.4 -3.2 L219.9 -6.3 L220.7 -9.3 L221.7 -12.1 L223 -14.5 L224.5 -16.6 L226.2 -18.3 L228.1 -19.5 L230 -20.2 L232 -20.5 L267 -20.5 L269 -20.2 L270.9 -19.5 L272.8 -18.3 L274.5 -16.6 L276 -14.5 L277.3 -12.1 L278.3 -9.3 L279.1 -6.3 L279.6 -3.2 L279.7 0 L279.6 3.2 L279.1 6.3 L278.3 9.3 L277.3 12.1 L276 14.5 L274.5 16.6 L272.8 18.3 L270.9 19.5 L269 20.2 L267 20.5 L232 20.5 L230 20.2 L228.1 19.5 L226.2 18.3 L224.5 16.6 L223 14.5 L221.7 12.1 L220.7 9.3 L219.9 6.3 L219.4 3.2Z" fill="#fff" stroke="#000" stroke-width="2.8" />
<path d="M244.7 0 L244.6 3.2 L244.1 6.3 L243.3 9.3 L242.3 12 L241 14.5 L239.5 16.6 L237.8 18.3 L235.9 19.5 L234 20.2 L232 20.5 L230 20.2 L228.1 19.5 L226.2 18.3 L224.5 16.6 L223 14.5 L221.7 12 L220.7 9.3 L219.9 6.3 L219.4 3.2 L219.3 0 L219.4 -3.2 L219.9 -6.3 L220.7 -9.3 L221.7 -12 L223 -14.5 L224.5 -16.6 L226.2 -18.3 L228.1 -19.5 L230 -20.2 L232 -20.5 L234 -20.2 L235.9 -19.5 L237.8 -18.3 L239.5 -16.6 L241 -14.5 L242.3 -12 L243.3 -9.3 L244.1 -6.3 L244.6 -3.2Z" fill="#fff" stroke="#000" stroke-width="2.8" />
<ellipse cx="259" cy="-13" rx="3.2" ry="2.4" fill="#000"/>
<path d="M234 -20.5 L235.8 -20.3 L237.6 -19.6 L239.4 -18.6 L241 -17.1 L242.4 -15.3 L243.7 -13.2 L244.8 -10.8 L245.7 -8.1 L246.3 -5.3 L246.6 -2.4 L246.7 0.6 L246.5 3.6 L246.1 6.4 L245.4 9.2 L244.4 11.8 L243.2 14.1 L241.9 16.1 L240.4 17.8" fill="none" stroke="#000" stroke-width="2.1" />
<path d="M260 -22.5 L262.4 -22.2 L264.8 -21.1 L267 -19.5 L269 -17.2 L270.7 -14.5 L272.1 -11.2 L273.1 -7.7 L273.7 -3.9 L273.9 0 L273.7 3.9 L273.1 7.7 L272.1 11.2 L270.7 14.5 L269 17.2 L267 19.5 L264.8 21.1 L262.4 22.2 L260 22.5" fill="none" stroke="#000" stroke-width="3.1" />
<path d="M264 -23.5 L266.5 -23.1 L269 -22.1 L271.3 -20.4 L273.4 -18 L275.2 -15.1 L276.6 -11.7 L277.7 -8 L278.3 -4.1 L278.6 0 L278.3 4.1 L277.7 8 L276.6 11.7 L275.2 15.1 L273.4 18 L271.3 20.4 L269 22.1 L266.5 23.1 L264 23.5" fill="none" stroke="#000" stroke-width="3.1" />
<path d="M268.5 -18.2 L270 -16.6 L271.3 -14.7 L272.4 -12.5 L273.4 -10.1 L274.1 -7.6 L274.7 -4.8 L275 -2 L275 0.8 L274.8 3.6 L274.4 6.4 L273.7 9.1 L272.9 11.5 L271.8 13.8 L270.6 15.8 L269.2 17.5 L267.6 18.9 L266 20 L264.3 20.7" fill="none" stroke="#000" stroke-width="1.8" />
<path d="M198 0.5 L198.1 -3.8 L198.7 -8 L199.7 -12.1 L201 -15.8 L202.7 -19.1 L204.7 -22 L207 -24.3 L209.4 -26 L212 -27.1 L214.7 -27.5 L231.7 -27.5 L234.4 -27.2 L237 -26.3 L239.5 -24.7 L241.8 -22.5 L243.8 -19.8 L245.6 -16.6 L247.1 -12.9 L248.1 -9 L248.8 -4.8 L249 -0.5 L248.9 3.8 L248.3 8 L247.3 12.1 L246 15.8 L244.3 19.1 L233.1 39.9 L232.4 40.9 L231.7 41.6 L230.9 42.2 L230 42.5 L229.2 42.7 L212.2 42.7 L211.3 42.6 L210.4 42.3 L209.6 41.8 L208.9 41 L208.2 40.1 L207.6 39.1 L207.1 37.9 L199.9 12.9 L198.9 9 L198.2 4.8Z" fill="#fff" stroke="#000" stroke-width="2.8" />
<path d="M217.4 -27.2 L220 -26.3 L222.5 -24.7 L224.8 -22.5 L226.8 -19.8 L228.6 -16.5 L230.1 -12.9 L231.1 -9 L231.8 -4.8 L232 -0.5 L231.9 3.8 L231.3 8 L230.3 12.1 L229 15.8 L227.3 19.1 L216.1 39.9 L215.4 40.9 L214.7 41.6 L213.9 42.2 L213 42.5 L212.2 42.7 L211.3 42.6 L210.4 42.3 L209.6 41.8 L208.9 41 L208.2 40.1 L207.6 39.1 L207.1 37.9 L199.9 12.9 L198.9 9 L198.2 4.8 L198 0.5 L198.1 -3.8 L198.7 -8 L199.7 -12.1 L201 -15.8 L202.7 -19.1 L204.7 -22 L207 -24.3 L209.4 -26 L212 -27.1 L214.7 -27.5Z" fill="#fff" stroke="#000" stroke-width="2.8" />
<path d="M211 -23.1 L213.4 -23.5 L215.8 -23.2 L218.1 -22.3 L220.3 -20.8 L222.3 -18.7 L224.1 -16.1 L225.6 -13.1 L226.8 -9.7 L227.6 -6.1 L228 -2.3 L228 1.6 L227.7 5.4 L226.9 9.1 L225.8 12.5 L224.4 15.6 L222.6 18.3 L220.7 20.5 L218.5 22.1" fill="none" stroke="#000" stroke-width="2.1" />
<path d="M195 0 L195.1 -3.3 L195.6 -6.5 L196.4 -9.5 L197.5 -12.3 L198.8 -14.8 L200.3 -17 L202.1 -18.7 L204 -20 L206 -20.7 L208 -21 L215 -21 L217 -20.7 L219 -20 L220.9 -18.7 L222.7 -17 L224.2 -14.8 L225.5 -12.3 L226.6 -9.5 L227.4 -6.5 L227.9 -3.3 L228 0 L227.9 3.3 L227.4 6.5 L226.6 9.5 L225.5 12.3 L224.2 14.8 L222.7 17 L220.9 18.7 L219 20 L217 20.7 L215 21 L208 21 L206 20.7 L204 20 L202.1 18.7 L200.3 17 L198.8 14.8 L197.5 12.3 L196.4 9.5 L195.6 6.5 L195.1 3.3Z" fill="#fff" stroke="#000" stroke-width="2.8" />
<path d="M221 0 L220.9 3.3 L220.4 6.5 L219.6 9.5 L218.5 12.3 L217.2 14.8 L215.7 17 L213.9 18.7 L212 20 L210 20.7 L208 21 L206 20.7 L204 20 L202.1 18.7 L200.3 17 L198.8 14.8 L197.5 12.3 L196.4 9.5 L195.6 6.5 L195.1 3.3 L195 0 L195.1 -3.3 L195.6 -6.5 L196.4 -9.5 L197.5 -12.3 L198.8 -14.8 L200.3 -17 L202.1 -18.7 L204 -20 L206 -20.7 L208 -21 L210 -20.7 L212 -20 L213.9 -18.7 L215.7 -17 L217.2 -14.8 L218.5 -12.3 L219.6 -9.5 L220.4 -6.5 L220.9 -3.3Z" fill="#fff" stroke="#000" stroke-width="2.8" />
<path d="M161.8 -7.4 L172.9 -23.5 L204.9 -23.5 L219.1 -16.1 L222.2 7.4 L211.1 23.5 L179.1 23.5 L164.9 16.1Z" fill="#fff" stroke="#000" stroke-width="2.8" />
<path d="M190.2 7.4L222.2 7.4" stroke="#000" stroke-width="2.2" fill="none" />
<path d="M179.1 23.5L211.1 23.5" stroke="#000" stroke-width="2.2" fill="none" />
<path d="M172.9 -23.5L204.9 -23.5" stroke="#000" stroke-width="2.2" fill="none" />
<path d="M187.1 -16.1L219.1 -16.1" stroke="#000" stroke-width="2.2" fill="none" />
<path d="M190.2 7.4 L179.1 23.5 L164.9 16.1 L161.8 -7.4 L172.9 -23.5 L187.1 -16.1Z" fill="#fff" stroke="#000" stroke-width="2.8" />
<path d="M144 0 L144.1 -3.3 L144.6 -6.5 L145.4 -9.5 L146.5 -12.3 L147.8 -14.8 L149.3 -17 L151.1 -18.7 L153 -20 L155 -20.7 L157 -21 L176 -21 L178 -20.7 L180 -20 L181.9 -18.7 L183.7 -17 L185.2 -14.8 L186.5 -12.3 L187.6 -9.5 L188.4 -6.5 L188.9 -3.3 L189 0 L188.9 3.3 L188.4 6.5 L187.6 9.5 L186.5 12.3 L185.2 14.8 L183.7 17 L181.9 18.7 L180 20 L178 20.7 L176 21 L157 21 L155 20.7 L153 20 L151.1 18.7 L149.3 17 L147.8 14.8 L146.5 12.3 L145.4 9.5 L144.6 6.5 L144.1 3.3Z" fill="#fff" stroke="#000" stroke-width="2.8" />
<path d="M170 0 L169.9 3.3 L169.4 6.5 L168.6 9.5 L167.5 12.3 L166.2 14.8 L164.7 17 L162.9 18.7 L161 20 L159 20.7 L157 21 L155 20.7 L153 20 L151.1 18.7 L149.3 17 L147.8 14.8 L146.5 12.3 L145.4 9.5 L144.6 6.5 L144.1 3.3 L144 0 L144.1 -3.3 L144.6 -6.5 L145.4 -9.5 L146.5 -12.3 L147.8 -14.8 L149.3 -17 L151.1 -18.7 L153 -20 L155 -20.7 L157 -21 L159 -20.7 L161 -20 L162.9 -18.7 L164.7 -17 L166.2 -14.8 L167.5 -12.3 L168.6 -9.5 L169.4 -6.5 L169.9 -3.3Z" fill="#fff" stroke="#000" stroke-width="2.8" />
<path d="M123 0 L123.2 -4.3 L123.8 -8.5 L124.8 -12.5 L126.2 -16.2 L127.9 -19.4 L130 -22.2 L132.3 -24.5 L134.7 -26.2 L137.3 -27.2 L140 -27.5 L157 -27.5 L159.7 -27.2 L162.3 -26.2 L164.7 -24.5 L167 -22.2 L181.4 -7.3 L182 -6.4 L182.6 -5.3 L183.1 -4.1 L183.4 -2.8 L183.6 -1.4 L183.7 0 L183.6 1.4 L183.4 2.8 L183.1 4.1 L182.6 5.3 L182 6.4 L181.4 7.3 L167 22.2 L164.7 24.5 L162.3 26.2 L159.7 27.2 L157 27.5 L140 27.5 L137.3 27.2 L134.7 26.2 L132.3 24.5 L130 22.2 L127.9 19.4 L126.2 16.2 L124.8 12.5 L123.8 8.5 L123.2 4.3Z" fill="#fff" stroke="#000" stroke-width="2.8" />
<path d="M123 0 L123.2 -4.3 L123.8 -8.5 L124.8 -12.5 L126.2 -16.2 L127.9 -19.4 L130 -22.2 L132.3 -24.5 L134.7 -26.2 L137.3 -27.2 L140 -27.5 L142.7 -27.2 L145.3 -26.2 L147.7 -24.5 L150 -22.2 L164.4 -7.3 L165 -6.4 L165.6 -5.3 L166.1 -4.1 L166.4 -2.8 L166.6 -1.4 L166.7 0 L166.6 1.4 L166.4 2.8 L166.1 4.1 L165.6 5.3 L165 6.4 L164.4 7.3 L150 22.2 L147.7 24.5 L145.3 26.2 L142.7 27.2 L140 27.5 L137.3 27.2 L134.7 26.2 L132.3 24.5 L130 22.2 L127.9 19.4 L126.2 16.2 L124.8 12.5 L123.8 8.5 L123.2 4.3Z" fill="#fff" stroke="#000" stroke-width="2.8" />
<path d="M92.3 0 L92.4 -3.2 L92.9 -6.3 L93.7 -9.3 L94.7 -12.1 L96 -14.5 L97.5 -16.6 L99.2 -18.3 L101.1 -19.5 L103 -20.2 L105 -20.5 L140 -20.5 L142 -20.2 L143.9 -19.5 L145.8 -18.3 L147.5 -16.6 L149 -14.5 L150.3 -12.1 L151.3 -9.3 L152.1 -6.3 L152.6 -3.2 L152.7 0 L152.6 3.2 L152.1 6.3 L151.3 9.3 L150.3 12.1 L149 14.5 L147.5 16.6 L145.8 18.3 L143.9 19.5 L142 20.2 L140 20.5 L105 20.5 L103 20.2 L101.1 19.5 L99.2 18.3 L97.5 16.6 L96 14.5 L94.7 12.1 L93.7 9.3 L92.9 6.3 L92.4 3.2Z" fill="#fff" stroke="#000" stroke-width="2.8" />
<path d="M117.7 0 L117.6 3.2 L117.1 6.3 L116.3 9.3 L115.3 12 L114 14.5 L112.5 16.6 L110.8 18.3 L108.9 19.5 L107 20.2 L105 20.5 L103 20.2 L101.1 19.5 L99.2 18.3 L97.5 16.6 L96 14.5 L94.7 12 L93.7 9.3 L92.9 6.3 L92.4 3.2 L92.3 0 L92.4 -3.2 L92.9 -6.3 L93.7 -9.3 L94.7 -12 L96 -14.5 L97.5 -16.6 L99.2 -18.3 L101.1 -19.5 L103 -20.2 L105 -20.5 L107 -20.2 L108.9 -19.5 L110.8 -18.3 L112.5 -16.6 L114 -14.5 L115.3 -12 L116.3 -9.3 L117.1 -6.3 L117.6 -3.2Z" fill="#fff" stroke="#000" stroke-width="2.8" />
<ellipse cx="132" cy="-13" rx="3.2" ry="2.4" fill="#000"/>
<path d="M107 -20.5 L108.8 -20.3 L110.6 -19.6 L112.4 -18.6 L114 -17.1 L115.4 -15.3 L116.7 -13.2 L117.8 -10.8 L118.7 -8.1 L119.3 -5.3 L119.6 -2.4 L119.7 0.6 L119.5 3.6 L119.1 6.4 L118.4 9.2 L117.4 11.8 L116.2 14.1 L114.9 16.1 L113.4 17.8" fill="none" stroke="#000" stroke-width="2.1" />
<path d="M133 -22.5 L135.4 -22.2 L137.8 -21.1 L140 -19.5 L142 -17.2 L143.7 -14.5 L145.1 -11.2 L146.1 -7.7 L146.7 -3.9 L146.9 0 L146.7 3.9 L146.1 7.7 L145.1 11.2 L143.7 14.5 L142 17.2 L140 19.5 L137.8 21.1 L135.4 22.2 L133 22.5" fill="none" stroke="#000" stroke-width="3.1" />
<path d="M137 -23.5 L139.5 -23.1 L142 -22.1 L144.3 -20.4 L146.4 -18 L148.2 -15.1 L149.6 -11.7 L150.7 -8 L151.3 -4.1 L151.6 0 L151.3 4.1 L150.7 8 L149.6 11.7 L148.2 15.1 L146.4 18 L144.3 20.4 L142 22.1 L139.5 23.1 L137 23.5" fill="none" stroke="#000" stroke-width="3.1" />
<path d="M141.5 -18.2 L143 -16.6 L144.3 -14.7 L145.4 -12.5 L146.4 -10.1 L147.1 -7.6 L147.7 -4.8 L148 -2 L148 0.8 L147.8 3.6 L147.4 6.4 L146.7 9.1 L145.9 11.5 L144.8 13.8 L143.6 15.8 L142.2 17.5 L140.6 18.9 L139 20 L137.3 20.7" fill="none" stroke="#000" stroke-width="1.8" />
<path d="M71 0 L71.2 -4.3 L71.8 -8.5 L72.8 -12.5 L74.2 -16.2 L75.9 -19.4 L78 -22.2 L80.3 -24.5 L82.7 -26.2 L85.3 -27.2 L88 -27.5 L105 -27.5 L107.7 -27.2 L110.3 -26.2 L112.7 -24.5 L115 -22.2 L129.4 -7.3 L130 -6.4 L130.6 -5.3 L131.1 -4.1 L131.4 -2.8 L131.6 -1.4 L131.7 0 L131.6 1.4 L131.4 2.8 L131.1 4.1 L130.6 5.3 L130 6.4 L129.4 7.3 L115 22.2 L112.7 24.5 L110.3 26.2 L107.7 27.2 L105 27.5 L88 27.5 L85.3 27.2 L82.7 26.2 L80.3 24.5 L78 22.2 L75.9 19.4 L74.2 16.2 L72.8 12.5 L71.8 8.5 L71.2 4.3Z" fill="#fff" stroke="#000" stroke-width="2.8" />
<path d="M71 0 L71.2 -4.3 L71.8 -8.5 L72.8 -12.5 L74.2 -16.2 L75.9 -19.4 L78 -22.2 L80.3 -24.5 L82.7 -26.2 L85.3 -27.2 L88 -27.5 L90.7 -27.2 L93.3 -26.2 L95.7 -24.5 L98 -22.2 L112.4 -7.3 L113 -6.4 L113.6 -5.3 L114.1 -4.1 L114.4 -2.8 L114.6 -1.4 L114.7 0 L114.6 1.4 L114.4 2.8 L114.1 4.1 L113.6 5.3 L113 6.4 L112.4 7.3 L98 22.2 L95.7 24.5 L93.3 26.2 L90.7 27.2 L88 27.5 L85.3 27.2 L82.7 26.2 L80.3 24.5 L78 22.2 L75.9 19.4 L74.2 16.2 L72.8 12.5 L71.8 8.5 L71.2 4.3Z" fill="#fff" stroke="#000" stroke-width="2.8" />
<path d="M84 -23.1 L86.4 -23.5 L88.8 -23.2 L91.1 -22.3 L93.3 -20.8 L95.3 -18.7 L97.1 -16.1 L98.6 -13.1 L99.8 -9.7 L100.6 -6.1 L101 -2.3 L101 1.6 L100.7 5.4 L99.9 9.1 L98.8 12.5 L97.4 15.6 L95.6 18.3 L93.7 20.5 L91.5 22.1" fill="none" stroke="#000" stroke-width="2.1" />
<path d="M53 0 L53.1 -3.3 L53.6 -6.5 L54.4 -9.5 L55.5 -12.3 L56.8 -14.8 L58.3 -17 L60.1 -18.7 L62 -20 L64 -20.7 L66 -21 L88 -21 L90 -20.7 L92 -20 L93.9 -18.7 L95.7 -17 L97.2 -14.8 L98.5 -12.3 L99.6 -9.5 L100.4 -6.5 L100.9 -3.3 L101 0 L100.9 3.3 L100.4 6.5 L99.6 9.5 L98.5 12.3 L97.2 14.8 L95.7 17 L93.9 18.7 L92 20 L90 20.7 L88 21 L66 21 L64 20.7 L62 20 L60.1 18.7 L58.3 17 L56.8 14.8 L55.5 12.3 L54.4 9.5 L53.6 6.5 L53.1 3.3Z" fill="#fff" stroke="#000" stroke-width="2.8" />
<path d="M79 0 L78.9 3.3 L78.4 6.5 L77.6 9.5 L76.5 12.3 L75.2 14.8 L73.7 17 L71.9 18.7 L70 20 L68 20.7 L66 21 L64 20.7 L62 20 L60.1 18.7 L58.3 17 L56.8 14.8 L55.5 12.3 L54.4 9.5 L53.6 6.5 L53.1 3.3 L53 0 L53.1 -3.3 L53.6 -6.5 L54.4 -9.5 L55.5 -12.3 L56.8 -14.8 L58.3 -17 L60.1 -18.7 L62 -20 L64 -20.7 L66 -21 L68 -20.7 L70 -20 L71.9 -18.7 L73.7 -17 L75.2 -14.8 L76.5 -12.3 L77.6 -9.5 L78.4 -6.5 L78.9 -3.3Z" fill="#fff" stroke="#000" stroke-width="2.8" />
<path d="M-18.3 0 L-18.1 -4.6 L-17.4 -9.1 L-16.3 -13.4 L-14.8 -17.3 L-12.9 -20.9 L-10.8 -23.9 L-8.3 -26.3 L-5.7 -28.1 L-2.9 -29.1 L-0 -29.5 L66 -29.5 L68.9 -29.1 L71.7 -28.1 L74.3 -26.3 L76.8 -23.9 L78.9 -20.9 L80.8 -17.3 L82.3 -13.4 L83.4 -9.1 L84.1 -4.6 L84.3 0 L84.1 4.6 L83.4 9.1 L82.3 13.4 L80.8 17.3 L78.9 20.9 L76.8 23.9 L74.3 26.3 L71.7 28.1 L68.9 29.1 L66 29.5 L0 29.5 L-2.9 29.1 L-5.7 28.1 L-8.3 26.3 L-10.8 23.9 L-12.9 20.9 L-14.8 17.3 L-16.3 13.4 L-17.4 9.1 L-18.1 4.6Z" fill="#fff" stroke="#000" stroke-width="2.8" />
<path d="M18.3 0 L18.1 4.6 L17.4 9.1 L16.3 13.4 L14.8 17.3 L12.9 20.9 L10.8 23.9 L8.3 26.3 L5.7 28.1 L2.9 29.1 L0 29.5 L-2.9 29.1 L-5.7 28.1 L-8.3 26.3 L-10.8 23.9 L-12.9 20.9 L-14.8 17.3 L-16.3 13.4 L-17.4 9.1 L-18.1 4.6 L-18.3 0 L-18.1 -4.6 L-17.4 -9.1 L-16.3 -13.4 L-14.8 -17.3 L-12.9 -20.9 L-10.8 -23.9 L-8.3 -26.3 L-5.7 -28.1 L-2.9 -29.1 L-0 -29.5 L2.9 -29.1 L5.7 -28.1 L8.3 -26.3 L10.8 -23.9 L12.9 -20.9 L14.8 -17.3 L16.3 -13.4 L17.4 -9.1 L18.1 -4.6Z" fill="#fff" stroke="#000" stroke-width="2.8" />
<path d="M3.5 -29.5 L6.7 -29.1 L9.8 -27.7 L12.6 -25.5 L15.3 -22.6 L17.5 -19 L19.3 -14.7 L20.7 -10.1 L21.5 -5.1 L21.8 0 L21.5 5.1 L20.7 10.1 L19.3 14.7 L17.5 19 L15.3 22.6 L12.6 25.5 L9.8 27.7 L6.7 29.1 L3.5 29.5" fill="none" stroke="#000" stroke-width="4.5" />
<path d="M37 -29.5 L40.2 -29.1 L43.3 -27.7 L46.1 -25.5 L48.8 -22.6 L51 -19 L52.8 -14.7 L54.2 -10.1 L55 -5.1 L55.3 0 L55 5.1 L54.2 10.1 L52.8 14.7 L51 19 L48.8 22.6 L46.1 25.5 L43.3 27.7 L40.2 29.1 L37 29.5" fill="none" stroke="#000" stroke-width="4.8" />
<path d="M41.5 -28 L44.5 -27.6 L47.4 -26.3 L50.2 -24.2 L52.7 -21.4 L54.8 -18 L56.5 -14 L57.8 -9.6 L58.6 -4.9 L58.9 0 L58.6 4.9 L57.8 9.6 L56.5 14 L54.8 18 L52.7 21.4 L50.2 24.2 L47.4 26.3 L44.5 27.6 L41.5 28" fill="none" stroke="#000" stroke-width="2" />
<path d="M48.5 -29.5 L51.7 -29.1 L54.8 -27.7 L57.6 -25.5 L60.3 -22.6 L62.5 -19 L64.3 -14.7 L65.7 -10.1 L66.5 -5.1 L66.8 0 L66.5 5.1 L65.7 10.1 L64.3 14.7 L62.5 19 L60.3 22.6 L57.6 25.5 L54.8 27.7 L51.7 29.1 L48.5 29.5" fill="none" stroke="#000" stroke-width="4.8" />
<path d="M53 -28 L56 -27.6 L58.9 -26.3 L61.7 -24.2 L64.2 -21.4 L66.3 -18 L68 -14 L69.3 -9.6 L70.1 -4.9 L70.4 0 L70.1 4.9 L69.3 9.6 L68 14 L66.3 18 L64.2 21.4 L61.7 24.2 L58.9 26.3 L56 27.6 L53 28" fill="none" stroke="#000" stroke-width="2" />
<path d="M59.5 -29.5 L62.7 -29.1 L65.8 -27.7 L68.6 -25.5 L71.3 -22.6 L73.5 -19 L75.3 -14.7 L76.7 -10.1 L77.5 -5.1 L77.8 0 L77.5 5.1 L76.7 10.1 L75.3 14.7 L73.5 19 L71.3 22.6 L68.6 25.5 L65.8 27.7 L62.7 29.1 L59.5 29.5" fill="none" stroke="#000" stroke-width="4.2" />
<path d="M63 -29.5 L66.2 -29.1 L69.3 -27.7 L72.1 -25.5 L74.8 -22.6 L77 -19 L78.8 -14.7 L80.2 -10.1 L81 -5.1 L81.3 0 L81 5.1 L80.2 10.1 L78.8 14.7 L77 19 L74.8 22.6 L72.1 25.5 L69.3 27.7 L66.2 29.1 L63 29.5" fill="none" stroke="#000" stroke-width="2.2" />
</g>
<g transform="translate(779.2 335) rotate(-30)">
<ellipse cx="0" cy="0" rx="8.1" ry="13" fill="none" stroke="#000" stroke-width="2.5"/>
<ellipse cx="0.5" cy="0" rx="5.3" ry="8.5" fill="none" stroke="#000" stroke-width="2"/>
<ellipse cx="-6.8" cy="-15.6" rx="2.4" ry="3.8" fill="#fff" stroke="#000" stroke-width="2.5"/>
<ellipse cx="5" cy="-17.2" rx="2.4" ry="3.8" fill="#fff" stroke="#000" stroke-width="2.5"/>
<ellipse cx="11.1" cy="-6.5" rx="2.4" ry="3.8" fill="#fff" stroke="#000" stroke-width="2.5"/>
<ellipse cx="-5.9" cy="16.5" rx="2.4" ry="3.8" fill="#fff" stroke="#000" stroke-width="2.5"/>
<ellipse cx="-11.4" cy="4.9" rx="2.4" ry="3.8" fill="#fff" stroke="#000" stroke-width="2.5"/>
</g>
<path d="M421 442 L427.3 439 L433.6 436 L440 433.5 L446.4 431.7 L452.9 430.4 L459.3 430.1 L465.2 430.9 L471 432.7 L478 435.5 L482.1 437.4 L486.8 439.7 L492 442.5 L497.6 445.7 L503.6 449.1 L509.7 452.6 L515.8 456.3 L521.9 460 L527.7 463.5 L533.3 466.9 L538.4 470.1 L543 472.9 L546.9 475.3 L553.1 479.2 L558 482.5 L564.2 486.4 L568 488.6 L572.4 491.2 L577.3 494 L582.7 497 L588.4 500.2 L594.3 503.5 L600.4 506.9 L606.4 510.3 L612.4 513.7 L618.1 517 L623.6 520.2 L628.6 523.1 L633.1 525.9 L637 528.4 L643.1 532.5 L648.1 536.2 L652.5 539.7 L657 543.5 L662.7 548.7 L668.2 554.1 L673.3 560 L677.2 565.1 L680.9 570.6 L684.4 576.2 L687.8 581.8 L691 587.2 L694.1 592.6 L697 598.1 L699.4 603.6 L701.9 610.8 L703.8 618.1 L705.2 625.4 L706.2 632.7 L706.8 640 L706.7 647.1 L705.6 655.9 L703.1 664.6 L700.6 670.2 L697.5 676 L694.1 681.9 L690.7 687.8 L687.2 694.3 L683.6 700.9 L679.9 707.5 L676.2 714 L672.5 720.3 L668.8 726.5 L665.2 732.7 L661.7 738.6 L658.1 744.9 L654.6 750.9 L650.7 758.1 L648.3 762.6 L645.5 767.7 L642.6 773.2 L639.5 779 L636.3 785.1 L633.1 791.3 L629.9 797.6 L626.9 803.9 L624.1 810.2 L621.6 816.2 L619.4 821.9 L617.3 827.7 L615.3 833.5 L613.5 839.3 L611.7 845.1 L610 851 L608.5 856.8 L607 862.7 L605.5 868.5 L604.2 874.4 L602.8 880.8 L601.6 887.2 L600.5 893.7 L599.5 900.2 L598.6 906.6 L597.8 913.1 L597 919.6 L596.2 926 L595.5 932.5 L594.8 939 L594.2 945.6 L593.6 952.2 L593.1 958.8 L592.6 965.4 L592.2 971.9 L591.8 978.3 L591.4 984.6 L591.1 990.6 L590.7 998.1 L590.5 1005.7 L590.3 1013 L590.1 1020 L589.9 1026.4 L589.6 1032 L589.2 1040.2 L588.2 1047 L586.4 1052.6 L583.5 1057.5 L578.8 1061.5 L573 1064.5 L565.3 1066.8 L557 1068.5" fill="none" stroke="#000" stroke-width="2.8" />
<path d="M437 437.5 L443.6 437.1 L450 437.2 L455.8 438.5 L461.7 440.7 L466.6 442.9 L471.7 445.5 L478 449 L481.9 451.2 L486.5 454 L491.6 457.1 L497.2 460.5 L503.2 464.2 L509.3 468 L515.5 471.9 L521.6 475.8 L527.5 479.5 L533.1 483 L538.3 486.2 L543 489 L546.9 491.4 L553.1 495 L558.1 497.7 L564.2 501.2 L568.3 503.7 L573.2 506.6 L578.6 510 L584.3 513.5 L590.3 517.3 L596.4 521.1 L602.4 524.8 L608.1 528.4 L613.4 531.8 L618.2 534.8 L622.2 537.3 L628.3 541.1 L633.2 544.2 L638 547.5 L643.1 551.3 L648.1 555.4 L653 560 L657.5 564.9 L662 570.4 L666.3 576.1 L670.4 581.8 L674 587.2 L677.5 592.6 L680.7 598 L683.5 603.6 L686.4 610.8 L688.8 618.1 L690.7 625.4 L692.2 632.6 L693.3 639.8 L693.6 647.1 L693 654.8 L691.6 662.6 L689.3 670.4 L686.7 676.6 L683.4 682.8 L679.7 688.9 L676.2 695.1 L672.6 701.6 L669 708.1 L665.4 714.7 L661.7 721.2 L657.9 728 L654.1 735 L650.4 741.7 L647.1 747.4 L643.9 752.5 L640.5 758.1 L638.3 762 L635.8 766.7 L632.9 772 L629.8 777.9 L626.5 784.1 L623.2 790.6 L620 797.1 L616.9 803.7 L614 810.1 L611.5 816.2 L609.3 821.9 L607.2 827.7 L605.2 833.5 L603.4 839.3 L601.6 845.1 L599.9 851 L598.3 856.8 L596.8 862.7 L595.4 868.5 L594 874.4 L592.6 880.8 L591.3 887.3 L590.1 893.7 L589 900.2 L588 906.6 L587 913.1 L586.1 919.6 L585.2 926 L584.4 932.5 L583.6 939 L582.9 945.5 L582.2 952.1 L581.5 958.7 L581 965.3 L580.4 971.7 L579.9 978.2 L579.4 984.5 L578.9 990.6 L578.4 997.6 L578 1004.7 L577.6 1011.8 L577.2 1018.7 L576.8 1025.1 L576.4 1030.9 L576 1036 L575.3 1043.7 L574 1050 L571.4 1055.9 L567.5 1061 L561.6 1064.6 L555 1067.6" fill="none" stroke="#000" stroke-width="2.8" />
<path d="M439.5 448.1 L444.7 448.7 L450 449.5 L455.8 451 L461.7 453.1 L468.1 455.9 L476 460 L479.8 462.1 L484.5 464.6 L489.7 467.6 L495.5 470.8 L501.6 474.3 L507.9 478 L514.3 481.7 L520.7 485.4 L526.9 489 L532.7 492.4 L538.1 495.5 L542.9 498.3 L546.9 500.7 L553.2 504.4 L558.2 507.5 L564.2 511.1 L568.6 513.8 L573.7 517 L579.3 520.4 L585.2 524.1 L591.1 527.8 L597 531.5 L602.6 535 L607.6 538.2 L612 541 L618.4 545 L623.7 548.4 L629 552 L634.5 556.1 L639.8 560.4 L645 565 L650.5 570.3 L655.9 575.9 L661 582 L664.8 587.1 L668.4 592.5 L671.7 598 L674.7 603.6 L677.9 610.8 L680.6 618 L682.7 625.4 L684.1 632.6 L684.8 639.9 L684.9 647.1 L684.4 653.9 L683.2 660.6 L681.3 667.5 L678.6 673.9 L675.1 680.4 L671.2 687 L667.5 693.6 L663.9 700.2 L660.3 706.7 L656.6 713.3 L653 719.8 L649.2 726.6 L645.3 733.5 L641.6 740.1 L638.4 745.9 L635.2 751.7 L631.8 758.1 L629.7 762.1 L627.1 766.9 L624.2 772.3 L621.1 778.1 L617.8 784.3 L614.5 790.7 L611.2 797.2 L608.1 803.7 L605.2 810.1 L602.7 816.2 L600.5 821.9 L598.4 827.7 L596.4 833.5 L594.6 839.3 L592.8 845.1 L591.1 851 L589.6 856.8 L588.1 862.7 L586.6 868.5 L585.3 874.4 L584 880.8 L582.8 887.3 L581.7 893.7 L580.7 900.2 L579.8 906.6 L579 913.1 L578.2 919.6 L577.4 926 L576.6 932.5 L575.8 939 L575.1 945.5 L574.4 952 L573.7 958.5 L573.1 965 L572.5 971.4 L571.9 977.9 L571.3 984.3 L570.8 990.6 L570.3 997.6 L569.9 1004.9 L569.6 1012.3 L569.4 1019.7 L569 1026.6 L568.5 1033 L567.9 1038.5 L567 1042.9 L564.9 1048 L562.5 1052" fill="none" stroke="#000" stroke-width="2.8" />
<path d="M561 1046 L565.5 1047.5 L563 1053.5 L559.5 1055.5" fill="none" stroke="#000" stroke-width="2.5" />
<path d="M486 670 L487.2 676.1 L488.5 682.2 L489.7 688.4 L490.9 694.5 L492.1 700.6 L493.4 706.7 L494.6 712.8 L495.8 718.9 L497 724.8 L498.2 730.6 L499.5 736.4 L500.7 742.1 L501.9 748 L503.1 754 L504.3 760.2 L505.4 766.8 L506.3 772.2 L507.2 777.9 L508.2 783.8 L509.1 789.9 L510.1 796.1 L511 802.4 L511.9 808.7 L512.7 815.1 L513.5 821.4 L514.3 827.6 L515 833.7 L515.6 839.6 L516.1 845.3 L516.6 852.1 L517.1 858.6 L517.5 864.9 L517.7 871.2 L517.9 877.4 L518.1 883.6 L518.1 890 L518 896.6 L517.9 903.4 L517.7 909.2 L517.4 915.2 L517 921.3 L516.5 927.5 L516 933.8 L515.4 940.1 L514.8 946.6 L514.2 953 L513.6 959.4 L512.9 965.9 L512.3 972.3 L511.7 978.7 L511.2 985" fill="none" stroke="#000" stroke-width="2.8" />
<path d="M494 670 L495.3 676.4 L496.5 682.8 L497.8 689.2 L499.1 695.5 L500.4 701.9 L501.7 708.3 L502.9 714.7 L504.2 721.2 L505.4 727.6 L506.5 733.5 L507.6 739.4 L508.7 745.3 L509.8 751.3 L510.9 757.2 L512 763.1 L513 769.1 L514.1 775.1 L515.1 781.1 L516.1 787.2 L517.2 793.5 L518.3 799.9 L519.4 806.4 L520.5 812.9 L521.6 819.4 L522.6 825.9 L523.5 832.3 L524.4 838.7 L525.1 844.9 L525.7 851.1 L526.2 857.8 L526.6 864.2 L526.8 870.5 L526.9 876.8 L526.9 883.1 L526.9 889.6 L526.8 896.3 L526.6 903.4 L526.4 908.8 L526.2 914.4 L525.9 920.2 L525.5 926.1 L525.1 932.1 L524.7 938.2 L524.2 944.4 L523.7 950.7 L523.2 957 L522.7 963.2 L522.2 969.5 L521.7 975.7 L521.2 981.9 L520.8 988" fill="none" stroke="#000" stroke-width="2.8" />
<path d="M512 680 L513.4 686.3 L514.7 692.6 L516.1 698.9 L517.5 705.2 L518.8 711.5 L520.2 717.7 L521.6 724 L522.9 730.2 L524.3 736.3 L525.8 742.8 L527.3 749.2 L528.8 755.5 L530.3 761.9 L531.8 768.2 L533.2 774.5 L534.6 780.8 L535.9 787.2 L537.2 793.7 L538.4 800.2 L539.7 806.8 L540.8 813.4 L541.9 819.9 L542.9 826.5 L543.8 833 L544.6 839.5 L545.2 845.7 L545.8 851.8 L546.3 857.9 L546.6 864 L546.9 870.1 L547 876.3 L547 882.5 L546.9 888.9 L546.6 895.2 L546.1 901.7 L545.5 908.2 L544.8 914.8 L544 921.5 L543.1 928 L542.2 934.5 L541.2 940.9 L540.3 947 L539.2 953.7 L538 960.3 L536.7 966.7 L535.4 973 L534.1 979.3 L532.8 985.6 L531.5 992" fill="none" stroke="#000" stroke-width="2.8" />
<rect x="549.2" y="470" width="13.6" height="50" fill="#fff"/>
<g transform="translate(432 537) rotate(-30)">
<ellipse cx="12" cy="0" rx="49.9" ry="86" fill="#000" stroke="#000" stroke-width="2.8"/>
<path d="M-49.9 0 L-49.7 -7.5 L-49.1 -14.9 L-48.2 -22.3 L-46.9 -29.4 L-45.2 -36.3 L-43.2 -43 L-40.9 -49.3 L-38.2 -55.3 L-35.3 -60.8 L-32.1 -65.9 L-28.6 -70.4 L-24.9 -74.5 L-21.1 -77.9 L-17.1 -80.8 L-12.9 -83.1 L-8.7 -84.7 L-4.3 -85.7 L-0 -86 L12 -86 L16.3 -85.7 L20.7 -84.7 L24.9 -83.1 L29.1 -80.8 L33.1 -77.9 L36.9 -74.5 L40.6 -70.4 L44.1 -65.9 L47.3 -60.8 L50.2 -55.3 L52.9 -49.3 L55.2 -43 L57.2 -36.3 L58.9 -29.4 L60.2 -22.3 L61.1 -14.9 L61.7 -7.5 L61.9 0 L61.7 7.5 L61.1 14.9 L60.2 22.3 L58.9 29.4 L57.2 36.3 L55.2 43 L52.9 49.3 L50.2 55.3 L47.3 60.8 L44.1 65.9 L40.6 70.4 L36.9 74.5 L33.1 77.9 L29.1 80.8 L24.9 83.1 L20.7 84.7 L16.3 85.7 L12 86 L0 86 L-4.3 85.7 L-8.7 84.7 L-12.9 83.1 L-17.1 80.8 L-21.1 77.9 L-24.9 74.5 L-28.6 70.4 L-32.1 65.9 L-35.3 60.8 L-38.2 55.3 L-40.9 49.3 L-43.2 43 L-45.2 36.3 L-46.9 29.4 L-48.2 22.3 L-49.1 14.9 L-49.7 7.5Z" fill="#000" stroke="#000" stroke-width="2.8" />
<ellipse cx="0" cy="0" rx="49" ry="84.5" fill="#fff" stroke="#fff" stroke-width="0.1"/>
<path d="M52.5 4.5L60 4.5" stroke="#fff" stroke-width="2.4"/>
<path d="M51.9 13.5L59.4 13.5" stroke="#fff" stroke-width="2.4"/>
<path d="M50.8 22.3L58.3 22.3" stroke="#fff" stroke-width="2.4"/>
<path d="M49.2 30.9L56.7 30.9" stroke="#fff" stroke-width="2.4"/>
<path d="M47.1 39.2L54.6 39.2" stroke="#fff" stroke-width="2.4"/>
<path d="M44.5 47L52 47" stroke="#fff" stroke-width="2.4"/>
<path d="M41.4 54.3L48.9 54.3" stroke="#fff" stroke-width="2.4"/>
<path d="M37.9 61L45.4 61" stroke="#fff" stroke-width="2.4"/>
<path d="M34 67.1L41.5 67.1" stroke="#fff" stroke-width="2.4"/>
<path d="M29.8 72.4L37.3 72.4" stroke="#fff" stroke-width="2.4"/>
<path d="M25.2 76.9L32.7 76.9" stroke="#fff" stroke-width="2.4"/>
<path d="M20.4 80.6L27.9 80.6" stroke="#fff" stroke-width="1.7"/>
<path d="M15.5 83.4L23 83.4" stroke="#fff" stroke-width="1.7"/>
<path d="M10.3 85.2L17.8 85.2" stroke="#fff" stroke-width="1.7"/>
<path d="M10.3 -85.2L17.8 -85.2" stroke="#fff" stroke-width="1.7"/>
<path d="M15.5 -83.4L23 -83.4" stroke="#fff" stroke-width="1.7"/>
<path d="M20.4 -80.6L27.9 -80.6" stroke="#fff" stroke-width="1.7"/>
<path d="M25.2 -76.9L32.7 -76.9" stroke="#fff" stroke-width="2.4"/>
<path d="M29.8 -72.4L37.3 -72.4" stroke="#fff" stroke-width="2.4"/>
<path d="M34 -67.1L41.5 -67.1" stroke="#fff" stroke-width="2.4"/>
<path d="M37.9 -61L45.4 -61" stroke="#fff" stroke-width="2.4"/>
<path d="M41.4 -54.3L48.9 -54.3" stroke="#fff" stroke-width="2.4"/>
<path d="M44.5 -47L52 -47" stroke="#fff" stroke-width="2.4"/>
<path d="M47.1 -39.2L54.6 -39.2" stroke="#fff" stroke-width="2.4"/>
<path d="M49.2 -30.9L56.7 -30.9" stroke="#fff" stroke-width="2.4"/>
<path d="M50.8 -22.3L58.3 -22.3" stroke="#fff" stroke-width="2.4"/>
<path d="M51.9 -13.5L59.4 -13.5" stroke="#fff" stroke-width="2.4"/>
<path d="M52.5 -4.5L60 -4.5" stroke="#fff" stroke-width="2.4"/>
<path d="M47.9 0 L50.7 2 L50.6 4 L47.8 5.7 L47.8 6.3 L50.4 8.7 L50.3 10.7 L47.4 12 L47.3 12.6 L49.9 15.3 L49.7 17.3 L46.7 18.2 L46.6 18.8 L49.1 21.9 L48.8 23.8 L45.8 24.3 L45.7 24.9 L48 28.3 L47.6 30.2 L44.6 30.3 L44.4 30.9 L46.6 34.5 L46.1 36.4 L43.1 36.1 L42.9 36.7 L44.9 40.6 L44.3 42.3 L41.4 41.7 L41.2 42.2 L43 46.4 L42.3 48.1 L39.4 47 L39.2 47.5 L40.8 51.9 L40.1 53.5 L37.2 52.1 L37 52.6 L38.4 57.1 L37.6 58.6 L34.8 56.8 L34.5 57.3 L35.7 62 L34.9 63.4 L32.1 61.2 L31.9 61.7 L32.8 66.6 L32 67.9 L29.3 65.3 L29 65.7 L29.8 70.7 L28.8 71.9 L26.3 69 L26 69.3 L26.6 74.4 L25.6 75.5 L23.2 72.3 L22.9 72.6 L23.2 77.7 L22.1 78.6 L19.9 75.1 L19.6 75.4 L19.7 80.6 L18.6 81.3 L16.5 77.5 L16.2 77.7 L16 82.9 L14.9 83.5 L13 79.5 L12.7 79.6 L12.3 84.8 L11.2 85.3 L9.5 81 L9.1 81.1 L8.5 86.2 L7.4 86.5 L5.9 82 L5.5 82.1 L4.7 87 L3.5 87.2 L2.2 82.5 L1.8 82.5 L0.8 87.4 L-0.4 87.4 L-1.5 82.6 L-1.8 82.5 L-3.1 87.2 L-4.3 87.1 L-5.1 82.1 L-5.5 82.1 L-7 86.6 L-8.1 86.3 L-8.8 81.2 L-9.1 81.1 L-10.8 85.4 L-11.9 84.9 L-12.3 79.8 L-12.7 79.6 L-14.6 83.7 L-15.7 83.1 L-15.8 77.9 L-16.2 77.7 L-18.2 81.6 L-19.3 80.8 L-19.3 75.6 L-19.6 75.4 L-21.8 78.9 L-22.8 78 L-22.6 72.9 L-22.9 72.6 L-25.2 75.8 L-26.2 74.8 L-25.7 69.7 L-26 69.3 L-28.5 72.2 L-29.5 71.1 L-28.8 66.1 L-29 65.7 L-31.6 68.3 L-32.6 67 L-31.6 62.1 L-31.9 61.7 L-34.6 63.9 L-35.4 62.5 L-34.3 57.7 L-34.5 57.3 L-37.3 59.1 L-38.1 57.6 L-36.7 53 L-37 52.6 L-39.8 54 L-40.5 52.4 L-39 48 L-39.2 47.5 L-42.1 48.6 L-42.8 46.9 L-41 42.8 L-41.2 42.2 L-44.2 42.9 L-44.7 41.2 L-42.8 37.2 L-42.9 36.7 L-45.9 37 L-46.4 35.1 L-44.3 31.5 L-44.4 30.9 L-47.4 30.8 L-47.8 28.9 L-45.6 25.5 L-45.7 24.9 L-48.7 24.4 L-49 22.5 L-46.6 19.4 L-46.6 18.8 L-49.6 18 L-49.8 16 L-47.3 13.2 L-47.3 12.6 L-50.3 11.4 L-50.4 9.4 L-47.7 7 L-47.8 6.3 L-50.6 4.7 L-50.7 2.7 L-47.9 0.6 L-47.9 0 L-50.7 -2 L-50.6 -4 L-47.8 -5.7 L-47.8 -6.3 L-50.4 -8.7 L-50.3 -10.7 L-47.4 -12 L-47.3 -12.6 L-49.9 -15.3 L-49.7 -17.3 L-46.7 -18.2 L-46.6 -18.8 L-49.1 -21.9 L-48.8 -23.8 L-45.8 -24.3 L-45.7 -24.9 L-48 -28.3 L-47.6 -30.2 L-44.6 -30.3 L-44.4 -30.9 L-46.6 -34.5 L-46.1 -36.4 L-43.1 -36.1 L-42.9 -36.7 L-44.9 -40.6 L-44.3 -42.3 L-41.4 -41.7 L-41.2 -42.2 L-43 -46.4 L-42.3 -48.1 L-39.4 -47 L-39.2 -47.5 L-40.8 -51.9 L-40.1 -53.5 L-37.2 -52.1 L-37 -52.6 L-38.4 -57.1 L-37.6 -58.6 L-34.8 -56.8 L-34.5 -57.3 L-35.7 -62 L-34.9 -63.4 L-32.1 -61.2 L-31.9 -61.7 L-32.8 -66.6 L-32 -67.9 L-29.3 -65.3 L-29 -65.7 L-29.8 -70.7 L-28.8 -71.9 L-26.3 -69 L-26 -69.3 L-26.6 -74.4 L-25.6 -75.5 L-23.2 -72.3 L-22.9 -72.6 L-23.2 -77.7 L-22.1 -78.6 L-19.9 -75.1 L-19.6 -75.4 L-19.7 -80.6 L-18.6 -81.3 L-16.5 -77.5 L-16.2 -77.7 L-16 -82.9 L-14.9 -83.5 L-13 -79.5 L-12.7 -79.6 L-12.3 -84.8 L-11.2 -85.3 L-9.5 -81 L-9.1 -81.1 L-8.5 -86.2 L-7.4 -86.5 L-5.9 -82 L-5.5 -82.1 L-4.7 -87 L-3.5 -87.2 L-2.2 -82.5 L-1.8 -82.5 L-0.8 -87.4 L0.4 -87.4 L1.5 -82.6 L1.8 -82.5 L3.1 -87.2 L4.3 -87.1 L5.1 -82.1 L5.5 -82.1 L7 -86.6 L8.1 -86.3 L8.8 -81.2 L9.1 -81.1 L10.8 -85.4 L11.9 -84.9 L12.3 -79.8 L12.7 -79.6 L14.6 -83.7 L15.7 -83.1 L15.8 -77.9 L16.2 -77.7 L18.2 -81.6 L19.3 -80.8 L19.3 -75.6 L19.6 -75.4 L21.8 -78.9 L22.8 -78 L22.6 -72.9 L22.9 -72.6 L25.2 -75.8 L26.2 -74.8 L25.7 -69.7 L26 -69.3 L28.5 -72.2 L29.5 -71.1 L28.8 -66.1 L29 -65.7 L31.6 -68.3 L32.6 -67 L31.6 -62.1 L31.9 -61.7 L34.6 -63.9 L35.4 -62.5 L34.3 -57.7 L34.5 -57.3 L37.3 -59.1 L38.1 -57.6 L36.7 -53 L37 -52.6 L39.8 -54 L40.5 -52.4 L39 -48 L39.2 -47.5 L42.1 -48.6 L42.8 -46.9 L41 -42.8 L41.2 -42.2 L44.2 -42.9 L44.7 -41.2 L42.8 -37.2 L42.9 -36.7 L45.9 -37 L46.4 -35.1 L44.3 -31.5 L44.4 -30.9 L47.4 -30.8 L47.8 -28.9 L45.6 -25.5 L45.7 -24.9 L48.7 -24.4 L49 -22.5 L46.6 -19.4 L46.6 -18.8 L49.6 -18 L49.8 -16 L47.3 -13.2 L47.3 -12.6 L50.3 -11.4 L50.4 -9.4 L47.7 -7 L47.8 -6.3 L50.6 -4.7 L50.7 -2.7 L47.9 -0.6" fill="none" stroke="#000" stroke-width="3.4" />
<path d="M24.1 71.9 L16.5 78 L8.4 81.7 L0 83 L-8.4 81.7 L-16.5 78 L-24.1 71.9 L-30.9 63.6 L-36.9 53.4 L-41.7 41.5 L-45.2 28.4 L-47.4 14.4 L-48.1 0 L-47.4 -14.4 L-45.2 -28.4 L-41.7 -41.5 L-36.9 -53.4 L-30.9 -63.6 L-24.1 -71.9 L-16.5 -78 L-8.4 -81.7 L-0 -83 L8.4 -81.7 L16.5 -78 L24.1 -71.9" fill="none" stroke="#000" stroke-width="2.5" />
<ellipse cx="0" cy="0" rx="42.6" ry="73.5" fill="none" stroke="#000" stroke-width="2.2"/>
<path d="M-20.3 60.6 L-23.5 57 L-26.5 53 L-29.3 48.4 L-31.8 43.4 L-34.1 38 L-36 32.3 L-37.6 26.3 L-38.9 20.1 L-39.8 13.7 L-40.4 7.1 L-40.6 0.5 L-40.4 -6.1 L-39.9 -12.7 L-39.1 -19.1 L-37.8 -25.4 L-36.3 -31.4 L-34.4 -37.2 L-32.2 -42.6 L-29.7 -47.7 L-27 -52.3 L-24 -56.5 L-20.8 -60.1 L-17.4 -63.2 L-13.9 -65.8" fill="none" stroke="#000" stroke-width="2" />
<g transform="translate(-13.7 -50.8)">
<ellipse cx="0" cy="0" rx="7.8" ry="12.5" fill="#fff" stroke="#000" stroke-width="3.2"/>
<ellipse cx="1.0" cy="0.5" rx="5.4" ry="9.3" fill="none" stroke="#000" stroke-width="2"/>
<ellipse cx="1.6" cy="0.8" rx="2.9" ry="6.4" fill="none" stroke="#000" stroke-width="1.8"/>
</g>
<g transform="translate(6.2 -55)">
<ellipse cx="0" cy="0" rx="7.8" ry="12.5" fill="#fff" stroke="#000" stroke-width="3.2"/>
<ellipse cx="1.0" cy="0.5" rx="5.4" ry="9.3" fill="none" stroke="#000" stroke-width="2"/>
<ellipse cx="1.6" cy="0.8" rx="2.9" ry="6.4" fill="none" stroke="#000" stroke-width="1.8"/>
</g>
<g transform="translate(23.8 -38.2)">
<ellipse cx="0" cy="0" rx="7.8" ry="12.5" fill="#fff" stroke="#000" stroke-width="3.2"/>
<ellipse cx="1.0" cy="0.5" rx="5.4" ry="9.3" fill="none" stroke="#000" stroke-width="2"/>
<ellipse cx="1.6" cy="0.8" rx="2.9" ry="6.4" fill="none" stroke="#000" stroke-width="1.8"/>
</g>
<g transform="translate(32.2 -6.8)">
<ellipse cx="0" cy="0" rx="7.8" ry="12.5" fill="#fff" stroke="#000" stroke-width="3.2"/>
<ellipse cx="1.0" cy="0.5" rx="5.4" ry="9.3" fill="none" stroke="#000" stroke-width="2"/>
<ellipse cx="1.6" cy="0.8" rx="2.9" ry="6.4" fill="none" stroke="#000" stroke-width="1.8"/>
</g>
<g transform="translate(28.4 27.1)">
<ellipse cx="0" cy="0" rx="7.8" ry="12.5" fill="#fff" stroke="#000" stroke-width="3.2"/>
<ellipse cx="1.0" cy="0.5" rx="5.4" ry="9.3" fill="none" stroke="#000" stroke-width="2"/>
<ellipse cx="1.6" cy="0.8" rx="2.9" ry="6.4" fill="none" stroke="#000" stroke-width="1.8"/>
</g>
<g transform="translate(13.7 50.8)">
<ellipse cx="0" cy="0" rx="7.8" ry="12.5" fill="#fff" stroke="#000" stroke-width="3.2"/>
<ellipse cx="1.0" cy="0.5" rx="5.4" ry="9.3" fill="none" stroke="#000" stroke-width="2"/>
<ellipse cx="1.6" cy="0.8" rx="2.9" ry="6.4" fill="none" stroke="#000" stroke-width="1.8"/>
</g>
<g transform="translate(-6.2 55)">
<ellipse cx="0" cy="0" rx="7.8" ry="12.5" fill="#fff" stroke="#000" stroke-width="3.2"/>
<ellipse cx="1.0" cy="0.5" rx="5.4" ry="9.3" fill="none" stroke="#000" stroke-width="2"/>
<ellipse cx="1.6" cy="0.8" rx="2.9" ry="6.4" fill="none" stroke="#000" stroke-width="1.8"/>
</g>
<g transform="translate(-23.8 38.2)">
<ellipse cx="0" cy="0" rx="7.8" ry="12.5" fill="#fff" stroke="#000" stroke-width="3.2"/>
<ellipse cx="1.0" cy="0.5" rx="5.4" ry="9.3" fill="none" stroke="#000" stroke-width="2"/>
<ellipse cx="1.6" cy="0.8" rx="2.9" ry="6.4" fill="none" stroke="#000" stroke-width="1.8"/>
</g>
<g transform="translate(-32.2 6.8)">
<ellipse cx="0" cy="0" rx="7.8" ry="12.5" fill="#fff" stroke="#000" stroke-width="3.2"/>
<ellipse cx="1.0" cy="0.5" rx="5.4" ry="9.3" fill="none" stroke="#000" stroke-width="2"/>
<ellipse cx="1.6" cy="0.8" rx="2.9" ry="6.4" fill="none" stroke="#000" stroke-width="1.8"/>
</g>
<g transform="translate(-28.4 -27.1)">
<ellipse cx="0" cy="0" rx="7.8" ry="12.5" fill="#fff" stroke="#000" stroke-width="3.2"/>
<ellipse cx="1.0" cy="0.5" rx="5.4" ry="9.3" fill="none" stroke="#000" stroke-width="2"/>
<ellipse cx="1.6" cy="0.8" rx="2.9" ry="6.4" fill="none" stroke="#000" stroke-width="1.8"/>
</g>
<ellipse cx="0" cy="0" rx="23.5" ry="40.5" fill="#fff" stroke="#000" stroke-width="2.8"/>
<ellipse cx="0" cy="0" rx="20.6" ry="35.5" fill="none" stroke="#000" stroke-width="2.1"/>
<path d="M-32.7 0 L-32.6 -3.6 L-32.3 -7.1 L-31.8 -10.5 L-31 -13.8 L-30.1 -17 L-29 -20 L-27.7 -22.8 L-26.2 -25.3 L-24.6 -27.5 L-22.9 -29.4 L-21 -31.1 L-19.1 -32.3 L-17.1 -33.3 L-15.1 -33.8 L-13 -34 L-0 -34 L2.1 -33.8 L4.1 -33.3 L6.1 -32.3 L8 -31.1 L9.9 -29.4 L11.6 -27.5 L13.2 -25.3 L14.7 -22.8 L16 -20 L17.1 -17 L18 -13.8 L18.8 -10.5 L19.3 -7.1 L19.6 -3.6 L19.7 0 L19.6 3.6 L19.3 7.1 L18.8 10.5 L18 13.8 L17.1 17 L16 20 L14.7 22.8 L13.2 25.3 L11.6 27.5 L9.9 29.4 L8 31.1 L6.1 32.3 L4.1 33.3 L2.1 33.8 L0 34 L-13 34 L-15.1 33.8 L-17.1 33.3 L-19.1 32.3 L-21 31.1 L-22.9 29.4 L-24.6 27.5 L-26.2 25.3 L-27.7 22.8 L-29 20 L-30.1 17 L-31 13.8 L-31.8 10.5 L-32.3 7.1 L-32.6 3.6Z" fill="#fff" stroke="#000" stroke-width="2.8" />
<path d="M-16.4 -33.5 L-13.6 -34 L-10.7 -33.8 L-7.9 -32.8 L-5.2 -31.2 L-2.6 -28.9 L-0.3 -26 L1.7 -22.6 L3.5 -18.7 L4.9 -14.4 L5.9 -9.8 L6.5 -4.9 L6.7 0 L6.5 4.9 L5.9 9.8 L4.9 14.4 L3.5 18.7 L1.7 22.6 L-0.3 26 L-2.6 28.9 L-5.2 31.2 L-7.9 32.8 L-10.7 33.8 L-13.6 34 L-16.4 33.5" fill="none" stroke="#000" stroke-width="2.8" />
<path d="M-0.8 27 L-3.8 30 L-7 31.9 L-10.3 32.9 L-13.7 32.8 L-17.1 31.7 L-20.3 29.6 L-23.2 26.5 L-25.7 22.6 L-27.8 18 L-29.4 12.8 L-30.5 7.3 L-30.9 1.4 L-30.8 -4.4 L-30 -10.2 L-28.7 -15.6 L-26.8 -20.5 L-24.5 -24.7 L-21.7 -28.2 L-18.7 -30.8 L-15.4 -32.4 L-12 -33 L-8.6 -32.5 L-5.3 -31.1 L-2.2 -28.6" fill="none" stroke="#000" stroke-width="5.9" />
<path d="M1.6 -13.5 L2.3 -10.9 L2.9 -8.1 L3.4 -5.3 L3.6 -2.4 L3.7 0.6 L3.5 3.5 L3.2 6.4 L2.7 9.2 L2 11.9 L1.2 14.5 L0.2 16.9 L-0.9 19.1 L-2.2 21.1 L-3.6 22.8 L-5.1 24.2 L-6.6 25.4 L-8.3 26.2 L-10 26.8 L-11.7 27 L-13.4 26.9 L-15.1 26.5 L-16.7 25.8 L-18.3 24.7 L-19.8 23.4" fill="none" stroke="#000" stroke-width="5" />
<path d="M-20.8 23.4 L-22.5 21.4 L-24.1 19.1 L-25.4 16.4 L-26.6 13.5 L-27.5 10.3 L-28.1 7 L-28.5 3.5 L-28.7 0 L-28.5 -3.5 L-28.1 -7 L-27.5 -10.3 L-26.6 -13.5 L-25.4 -16.4 L-24.1 -19.1 L-22.5 -21.4 L-20.8 -23.4 L-19 -24.9 L-17.1 -26.1 L-15 -26.8 L-13 -27 L-11 -26.8 L-8.9 -26.1 L-7 -24.9 L-5.2 -23.4" fill="none" stroke="#000" stroke-width="2.8" />
<path d="M-23.6 11 L-24.1 9.2 L-24.6 7.2 L-24.9 5.2 L-25.1 3.2 L-25.2 1.1 L-25.2 -1 L-25.1 -3 L-24.9 -5.1 L-24.6 -7.1 L-24.1 -9 L-23.6 -10.9 L-23 -12.6 L-22.2 -14.3 L-21.4 -15.8 L-20.5 -17.2 L-19.5 -18.4 L-18.5 -19.4 L-17.4 -20.3 L-16.2 -21 L-15.1 -21.5 L-13.9 -21.9 L-12.7 -22 L-11.5 -21.9 L-10.3 -21.7" fill="none" stroke="#000" stroke-width="2.2" />
<path d="M-18.5 -8 L-15 -17.5 L-11.5 -15.5 L-10 -2 L-7 4 L-9 9.5" fill="none" stroke="#000" stroke-width="3.1" />
</g>
<g transform="translate(518.3 671) rotate(-30)">
<path d="M-15.5 0 L-15.4 -6.1 L-15 -12.2 L-14.4 -18.2 L-13.5 -24.1 L-12.3 -29.9 L-11 -35.6 L-9.4 -41.1 L-7.5 -46.4 L-5.5 -51.4 L-3.2 -56.2 L-0.8 -60.8 L1.9 -65 L4.7 -69 L7.6 -72.5 L10.8 -75.8 L14 -78.6 L17.3 -81.1 L20.8 -83.2 L24.3 -84.9 L27.9 -86.2 L31.5 -87 L35.2 -87.4 L48.8 -87.4 L52.5 -87 L56.1 -86.2 L59.7 -84.9 L63.2 -83.2 L66.7 -81.1 L70 -78.6 L73.2 -75.8 L76.4 -72.5 L79.3 -69 L82.1 -65 L84.8 -60.8 L87.2 -56.2 L89.5 -51.4 L91.5 -46.4 L93.4 -41.1 L95 -35.6 L96.3 -29.9 L97.5 -24.1 L98.4 -18.2 L99 -12.2 L99.4 -6.1 L99.5 0 L99.4 6.1 L99 12.2 L98.4 18.2 L97.5 24.1 L96.3 29.9 L95 35.6 L93.4 41.1 L91.5 46.4 L89.5 51.4 L87.2 56.2 L84.8 60.8 L82.1 65 L79.3 69 L76.4 72.5 L73.2 75.8 L70 78.6 L66.7 81.1 L63.2 83.2 L59.7 84.9 L56.1 86.2 L52.5 87 L48.8 87.4 L35.2 87.4 L31.5 87 L27.9 86.2 L24.3 84.9 L20.8 83.2 L17.3 81.1 L14 78.6 L10.8 75.8 L7.6 72.5 L4.7 69 L1.9 65 L-0.8 60.8 L-3.2 56.2 L-5.5 51.4 L-7.5 46.4 L-9.4 41.1 L-11 35.6 L-12.3 29.9 L-13.5 24.1 L-14.4 18.2 L-15 12.2 L-15.4 6.1Z" fill="#fff" stroke="#fff" stroke-width="0.1" />
<path d="M42 -82.1 L43.3 -87.3 L44.9 -87.4 L46.5 -82.5 L47 -82.5 L48.6 -87.5 L50.2 -87.3 L51.5 -82.2 L52 -82.1 L53.9 -86.7 L55.5 -86.4 L56.5 -81 L57 -80.8 L59.1 -85.1 L60.7 -84.5 L61.3 -79 L61.8 -78.7 L64.2 -82.7 L65.7 -81.7 L66.1 -76.1 L66.5 -75.8 L69.2 -79.3 L70.6 -78.2 L70.6 -72.5 L71 -72.1 L73.9 -75.2 L75.2 -73.8 L74.9 -68.2 L75.3 -67.7 L78.3 -70.3 L79.6 -68.6 L78.9 -63.1 L79.2 -62.6 L82.4 -64.6 L83.6 -62.8 L82.5 -57.4 L82.9 -56.8 L86.1 -58.3 L87.2 -56.3 L85.8 -51.2 L86.1 -50.5 L89.5 -51.4 L90.4 -49.3 L88.7 -44.3 L89 -43.6 L92.4 -44 L93.2 -41.7 L91.2 -37.1 L91.4 -36.3 L94.8 -36.1 L95.5 -33.7 L93.2 -29.4 L93.4 -28.7 L96.8 -27.9 L97.2 -25.3 L94.8 -21.5 L94.9 -20.7 L98.2 -19.3 L98.5 -16.7 L95.9 -13.3 L95.9 -12.5 L99.1 -10.6 L99.3 -8 L96.4 -5 L96.4 -4.2 L99.5 -1.8 L99.5 0.9 L96.5 3.3 L96.4 4.2 L99.3 7.1 L99.2 9.7 L96 11.7 L95.9 12.5 L98.6 15.9 L98.3 18.5 L95 19.9 L94.9 20.7 L97.4 24.5 L96.9 27 L93.6 27.9 L93.4 28.7 L95.7 32.9 L95 35.3 L91.7 35.6 L91.4 36.3 L93.4 40.9 L92.6 43.2 L89.3 42.9 L89 43.6 L90.7 48.5 L89.8 50.7 L86.4 49.8 L86.1 50.5 L87.5 55.6 L86.5 57.7 L83.2 56.2 L82.9 56.8 L83.9 62.2 L82.8 64 L79.6 62 L79.2 62.6 L80 68.1 L78.7 69.7 L75.7 67.2 L75.3 67.7 L75.7 73.3 L74.3 74.7 L71.5 71.7 L71 72.1 L71.1 77.8 L69.6 78.9 L67 75.5 L66.5 75.8 L66.2 81.4 L64.7 82.4 L62.3 78.5 L61.8 78.7 L61.2 84.2 L59.6 84.9 L57.5 80.6 L57 80.8 L56 86.2 L54.4 86.6 L52.5 82 L52 82.1 L50.7 87.3 L49.1 87.4 L47.5 82.5 L47 82.5 L45.4 87.5 L43.8 87.3 L42.5 82.2 L42 82.1 L40.1 86.7 L38.5 86.4 L37.5 81" fill="none" stroke="#000" stroke-width="2.8" />
<path d="M89.4 4L99.4 4.9" stroke="#000" stroke-width="2.5" fill="none" />
<path d="M88.9 12.8L98.9 13.7" stroke="#000" stroke-width="2.5" fill="none" />
<path d="M87.9 21.5L97.8 22.3" stroke="#000" stroke-width="2.5" fill="none" />
<path d="M86.3 30L96.1 30.8" stroke="#000" stroke-width="2.5" fill="none" />
<path d="M84.3 38.1L94 38.9" stroke="#000" stroke-width="2.5" fill="none" />
<path d="M81.7 45.9L91.4 46.7" stroke="#000" stroke-width="2.5" fill="none" />
<path d="M78.7 53.2L88.4 53.9" stroke="#000" stroke-width="2.5" fill="none" />
<path d="M75.2 60L84.9 60.6" stroke="#000" stroke-width="2.5" fill="none" />
<path d="M71.4 66.1L81 66.7" stroke="#000" stroke-width="2.5" fill="none" />
<path d="M67.2 71.6L76.8 72.1" stroke="#000" stroke-width="2.5" fill="none" />
<path d="M62.7 76.3L72.3 76.7" stroke="#000" stroke-width="2.5" fill="none" />
<path d="M57.9 80.2L67.5 80.6" stroke="#000" stroke-width="2.5" fill="none" />
<path d="M53 83.4L62.5 83.6" stroke="#000" stroke-width="2.5" fill="none" />
<path d="M47.8 85.6L57.3 85.8" stroke="#000" stroke-width="2.5" fill="none" />
<path d="M42.6 87L52.1 87.1" stroke="#000" stroke-width="2.5" fill="none" />
<path d="M37.3 87.5L46.7 87.5" stroke="#000" stroke-width="2.5" fill="none" />
<path d="M36.7 -87.5L47.3 -87.5" stroke="#000" stroke-width="2.5" fill="none" />
<path d="M42 -87.1L52.6 -87" stroke="#000" stroke-width="2.5" fill="none" />
<path d="M47.3 -85.8L57.8 -85.6" stroke="#000" stroke-width="2.5" fill="none" />
<path d="M52.5 -83.6L63 -83.4" stroke="#000" stroke-width="2.5" fill="none" />
<path d="M57.5 -80.6L67.9 -80.2" stroke="#000" stroke-width="2.5" fill="none" />
<path d="M62.2 -76.7L72.7 -76.3" stroke="#000" stroke-width="2.5" fill="none" />
<path d="M66.8 -72.1L77.2 -71.6" stroke="#000" stroke-width="2.5" fill="none" />
<path d="M71 -66.7L81.4 -66.1" stroke="#000" stroke-width="2.5" fill="none" />
<path d="M74.9 -60.6L85.2 -60" stroke="#000" stroke-width="2.5" fill="none" />
<path d="M78.4 -53.9L88.7 -53.2" stroke="#000" stroke-width="2.5" fill="none" />
<path d="M81.4 -46.7L91.7 -45.9" stroke="#000" stroke-width="2.5" fill="none" />
<path d="M84 -38.9L94.2 -38.1" stroke="#000" stroke-width="2.5" fill="none" />
<path d="M86.1 -30.8L96.3 -30" stroke="#000" stroke-width="2.5" fill="none" />
<path d="M87.8 -22.4L97.9 -21.5" stroke="#000" stroke-width="2.5" fill="none" />
<path d="M88.9 -13.7L98.9 -12.8" stroke="#000" stroke-width="2.5" fill="none" />
<path d="M89.4 -4.9L99.4 -4" stroke="#000" stroke-width="2.5" fill="none" />
<ellipse cx="37" cy="0" rx="49.2" ry="82" fill="#fff" stroke="#fff" stroke-width="0.1"/>
<path d="M86.5 0 L89.5 2.7 L89.4 5.3 L86.3 7.5 L86.2 8.3 L89 11.5 L88.8 14.1 L85.6 15.8 L85.5 16.6 L88.1 20.2 L87.7 22.8 L84.4 23.9 L84.2 24.7 L86.6 28.7 L86 31.2 L82.7 31.8 L82.5 32.5 L84.6 36.9 L83.9 39.3 L80.5 39.3 L80.3 40 L82.1 44.8 L81.3 47 L77.9 46.4 L77.6 47.1 L79.2 52.1 L78.2 54.3 L74.9 53.1 L74.6 53.7 L75.8 59 L74.7 60.9 L71.5 59.2 L71.1 59.8 L72 65.2 L70.8 67 L67.7 64.7 L67.3 65.2 L67.9 70.8 L66.6 72.3 L63.6 69.6 L63.2 70 L63.4 75.6 L62 76.9 L59.2 73.7 L58.8 74.1 L58.7 79.7 L57.2 80.8 L54.7 77.1 L54.2 77.4 L53.7 82.9 L52.2 83.7 L49.9 79.7 L49.4 79.9 L48.6 85.3 L47 85.9 L45 81.4 L44.5 81.5 L43.4 86.9 L41.8 87.1 L40 82.3 L39.5 82.4 L38.1 87.5 L36.5 87.5 L35 82.4 L34.5 82.4 L32.7 87.2 L31.2 87 L30 81.7 L29.5 81.5 L27.5 86 L25.9 85.5 L25.1 80.1 L24.6 79.9 L22.3 84 L20.8 83.2 L20.3 77.7 L19.8 77.4 L17.3 81.1 L15.8 80.1 L15.7 74.4 L15.2 74.1 L12.5 77.4 L11.1 76.1 L11.2 70.5 L10.8 70 L7.9 72.8 L6.6 71.3 L7.1 65.7 L6.7 65.2 L3.6 67.5 L2.4 65.8 L3.3 60.4 L2.9 59.8 L-0.3 61.6 L-1.4 59.6 L-0.2 54.4 L-0.6 53.7 L-3.9 55 L-4.8 52.9 L-3.3 47.8 L-3.6 47.1 L-7 47.8 L-7.8 45.5 L-6 40.8 L-6.3 40 L-9.7 40.1 L-10.4 37.7 L-8.3 33.3 L-8.5 32.5 L-11.9 32 L-12.4 29.6 L-10.1 25.5 L-10.2 24.7 L-13.5 23.6 L-14 21.1 L-11.4 17.4 L-11.5 16.6 L-14.7 15 L-15 12.4 L-12.2 9.2 L-12.2 8.3 L-15.4 6.2 L-15.5 3.5 L-12.5 0.8 L-12.5 0 L-15.5 -2.7 L-15.4 -5.3 L-12.3 -7.5 L-12.2 -8.3 L-15 -11.5 L-14.8 -14.1 L-11.6 -15.8 L-11.5 -16.6 L-14.1 -20.2 L-13.7 -22.8 L-10.4 -23.9 L-10.2 -24.7 L-12.6 -28.7 L-12 -31.2 L-8.7 -31.8 L-8.5 -32.5 L-10.6 -36.9 L-9.9 -39.3 L-6.5 -39.3 L-6.3 -40 L-8.1 -44.8 L-7.3 -47 L-3.9 -46.4 L-3.6 -47.1 L-5.2 -52.1 L-4.2 -54.3 L-0.9 -53.1 L-0.6 -53.7 L-1.8 -59 L-0.7 -60.9 L2.5 -59.2 L2.9 -59.8 L2 -65.2 L3.2 -67 L6.3 -64.7 L6.7 -65.2 L6.1 -70.8 L7.4 -72.3 L10.4 -69.6 L10.8 -70 L10.6 -75.6 L12 -76.9 L14.8 -73.7 L15.2 -74.1 L15.3 -79.7 L16.8 -80.8 L19.3 -77.1 L19.8 -77.4 L20.3 -82.9 L21.8 -83.7 L24.1 -79.7 L24.6 -79.9 L25.4 -85.3 L27 -85.9 L29 -81.4 L29.5 -81.5 L30.6 -86.9 L32.2 -87.1 L34 -82.3 L34.5 -82.4 L35.9 -87.5 L37.5 -87.5 L39 -82.4 L39.5 -82.4 L41.3 -87.2 L42.8 -87 L44 -81.7 L44.5 -81.5 L46.5 -86 L48.1 -85.5 L48.9 -80.1 L49.4 -79.9 L51.7 -84 L53.2 -83.2 L53.7 -77.7 L54.2 -77.4 L56.7 -81.1 L58.2 -80.1 L58.3 -74.4 L58.8 -74.1 L61.5 -77.4 L62.9 -76.1 L62.8 -70.5 L63.2 -70 L66.1 -72.8 L67.4 -71.3 L66.9 -65.7 L67.3 -65.2 L70.4 -67.5 L71.6 -65.8 L70.7 -60.4 L71.1 -59.8 L74.3 -61.6 L75.4 -59.6 L74.2 -54.4 L74.6 -53.7 L77.9 -55 L78.8 -52.9 L77.3 -47.8 L77.6 -47.1 L81 -47.8 L81.8 -45.5 L80 -40.8 L80.3 -40 L83.7 -40.1 L84.4 -37.7 L82.3 -33.3 L82.5 -32.5 L85.9 -32 L86.4 -29.6 L84.1 -25.5 L84.2 -24.7 L87.5 -23.6 L88 -21.1 L85.4 -17.4 L85.5 -16.6 L88.7 -15 L89 -12.4 L86.2 -9.2 L86.2 -8.3 L89.4 -6.2 L89.5 -3.5 L86.5 -0.8" fill="none" stroke="#000" stroke-width="3.1" />
<path d="M-39.2 0 L-39.1 -4.6 L-38.9 -9.1 L-38.4 -13.6 L-37.7 -18 L-36.9 -22.4 L-35.8 -26.6 L-34.6 -30.7 L-33.3 -34.7 L-31.7 -38.4 L-30.1 -42 L-28.2 -45.4 L-26.3 -48.6 L-24.2 -51.5 L-21.9 -54.2 L-19.6 -56.6 L-17.2 -58.8 L-14.7 -60.6 L-12.1 -62.2 L-9.5 -63.5 L-6.8 -64.4 L-4.1 -65 L-1.4 -65.4 L31.4 -65.4 L34.1 -65 L36.8 -64.4 L39.5 -63.5 L42.1 -62.2 L44.7 -60.6 L47.2 -58.8 L49.6 -56.6 L51.9 -54.2 L54.2 -51.5 L56.3 -48.6 L58.2 -45.4 L60.1 -42 L61.7 -38.4 L63.3 -34.7 L64.6 -30.7 L65.8 -26.6 L66.9 -22.4 L67.7 -18 L68.4 -13.6 L68.9 -9.1 L69.1 -4.6 L69.2 0 L69.1 4.6 L68.9 9.1 L68.4 13.6 L67.7 18 L66.9 22.4 L65.8 26.6 L64.6 30.7 L63.3 34.7 L61.7 38.4 L60.1 42 L58.2 45.4 L56.3 48.6 L54.2 51.5 L51.9 54.2 L49.6 56.6 L47.2 58.8 L44.7 60.6 L42.1 62.2 L39.5 63.5 L36.8 64.4 L34.1 65 L31.4 65.4 L-1.4 65.4 L-4.1 65 L-6.8 64.4 L-9.5 63.5 L-12.1 62.2 L-14.7 60.6 L-17.2 58.8 L-19.6 56.6 L-21.9 54.2 L-24.2 51.5 L-26.3 48.6 L-28.2 45.4 L-30.1 42 L-31.7 38.4 L-33.3 34.7 L-34.6 30.7 L-35.8 26.6 L-36.9 22.4 L-37.7 18 L-38.4 13.6 L-38.9 9.1 L-39.1 4.6Z" fill="#fff" stroke="#000" stroke-width="2.8" />
<path d="M60.9 40.3L35.4 40.3" stroke="#000" stroke-width="2.5" fill="none" />
<path d="M35.4 40.3 L35.9 39.2 L36.4 38.1 L36.8 37 L37.3 35.9 L37.7 34.8 L38.1 33.7 L38.5 32.5 L38.9 31.4 L39.3 30.2 L39.7 29 L40 27.8 L40.3 26.6 L40.7 25.4 L41 24.1 L41.3 22.9 L41.5 21.7 L41.8 20.4 L42 19.1 L42.3 17.8 L42.5 16.6 L42.7 15.3 L42.8 14 L43 12.7 L43.1 11.4" fill="none" stroke="#000" stroke-width="2.5" />
<path d="M68.4 3.1 L65.4 8.1 L69.4 13.1" fill="none" stroke="#000" stroke-width="2.2" />
<ellipse cx="0" cy="0" rx="39.2" ry="65.4" fill="#fff" stroke="#000" stroke-width="3.1"/>
<path d="M8 -64.4 L12.9 -62.4 L17.5 -59.5 L21.9 -55.5 L26 -50.7 L29.6 -45.1 L32.8 -38.7 L35.5 -31.7 L37.7 -24.1 L39.2 -16.2 L40.1 -8.1 L40.4 0.2 L40.1 8.5 L39.1 16.7 L37.6 24.6 L35.4 32.1 L32.7 39.1 L29.4 45.4 L25.8 51 L21.7 55.8 L17.3 59.7 L12.6 62.6 L7.7 64.5 L2.8 65.3 L-2.2 65.2" fill="none" stroke="#000" stroke-width="4.2" />
<ellipse cx="0" cy="-42" rx="3.0" ry="5.0" fill="#fff" stroke="#000" stroke-width="3.2"/>
<ellipse cx="23" cy="17.1" rx="3.0" ry="5.0" fill="#fff" stroke="#000" stroke-width="3.2"/>
<ellipse cx="-6.1" cy="40.8" rx="3.0" ry="5.0" fill="#fff" stroke="#000" stroke-width="3.2"/>
<path d="M-15.2 -7.2 L-13.6 -12.7 L-11.3 -17.4 L-8.4 -21.1 L-5.1 -23.6 L-1.5 -24.9 L2.1 -24.8 L5.7 -23.3 L8.9 -20.6 L11.7 -16.7 L13.9 -11.8 L15.4 -6.3 L16.1 -0.4 L16 5.7 L15.1 11.6 L13.5 17 L11.1 21.6 L8.2 25.3 L4.9 27.8 L1.3 28.9 L-2.3 28.7 L-5.9 27.2 L-9.1 24.3 L-11.9 20.4 L-14 15.5" fill="none" stroke="#000" stroke-width="3.1" />
<path d="M-13.1 -4.1 L-12.7 -6.1 L-12.2 -8.1 L-11.6 -10 L-10.9 -11.8 L-10.1 -13.4 L-9.3 -15 L-8.3 -16.4 L-7.2 -17.6 L-6.1 -18.7 L-5 -19.6 L-3.8 -20.4 L-2.6 -20.9 L-1.3 -21.3 L-0 -21.5 L1.3 -21.5 L2.5 -21.3 L3.8 -20.8 L5 -20.3 L6.2 -19.5 L7.4 -18.5 L8.5 -17.4 L9.5 -16.1 L10.4 -14.7 L11.3 -13.1" fill="none" stroke="#000" stroke-width="2.2" />
<path d="M12.2 -13.4 L13.3 -10.9 L14.3 -8.1 L14.9 -5.2 L15.4 -2.2 L15.6 1 L15.5 4.1 L15.3 7.2 L14.7 10.2 L14 13.1 L13 15.8 L11.8 18.2 L10.5 20.4 L8.9 22.2 L7.3 23.8 L5.5 24.9 L3.7 25.6 L1.8 26 L-0.1 25.9 L-1.9 25.4 L-3.7 24.6 L-5.4 23.3 L-7.1 21.7 L-8.5 19.7 L-9.8 17.4" fill="none" stroke="#000" stroke-width="2.8" />
<path d="M15.2 10.7 L14.6 12.9 L13.9 15.1 L13.1 17.1 L12.2 19 L11.2 20.7 L10.1 22.2 L8.9 23.6 L7.7 24.8 L6.3 25.8 L5 26.5 L3.6 27.1 L2.1 27.4 L0.7 27.5 L-0.8 27.4 L-2.2 27 L-3.6 26.4 L-5 25.6 L-6.3 24.6 L-7.5 23.4 L-8.7 22 L-9.8 20.4 L-10.8 18.7 L-11.7 16.8 L-12.5 14.7" fill="none" stroke="#000" stroke-width="4.5" />
<path d="M-5.5 -13.5 L-4.5 -5" fill="none" stroke="#000" stroke-width="2.8" />
<path d="M-2 10 L4.5 19 L6.5 11" fill="none" stroke="#000" stroke-width="2.8" />
</g>
<g transform="translate(490 1049.5) rotate(-30)">
<path d="M-21.4 0 L-21.3 -3.5 L-21 -6.9 L-20.5 -10.4 L-19.8 -13.7 L-18.9 -16.9 L-17.9 -20 L-16.6 -22.9 L-15.2 -25.7 L-13.7 -28.3 L-12 -30.6 L-10.1 -32.8 L-8.2 -34.6 L-6.2 -36.3 L-4 -37.6 L-1.8 -38.6 L0.4 -39.4 L2.7 -39.8 L5 -40 L36.5 -40 L38.8 -39.8 L41.1 -39.4 L43.3 -38.6 L45.5 -37.6 L47.7 -36.3 L49.7 -34.6 L51.6 -32.8 L53.5 -30.6 L55.2 -28.3 L56.7 -25.7 L58.1 -22.9 L59.4 -20 L60.4 -16.9 L61.3 -13.7 L62 -10.4 L62.5 -6.9 L62.8 -3.5 L62.9 0 L62.8 3.5 L62.5 6.9 L62 10.4 L61.3 13.7 L60.4 16.9 L59.4 20 L58.1 22.9 L56.7 25.7 L55.2 28.3 L53.5 30.6 L51.6 32.8 L49.7 34.6 L47.7 36.3 L45.5 37.6 L43.3 38.6 L41.1 39.4 L38.8 39.8 L36.5 40 L5 40 L2.7 39.8 L0.4 39.4 L-1.8 38.6 L-4 37.6 L-6.2 36.3 L-8.2 34.6 L-10.1 32.8 L-12 30.6 L-13.7 28.3 L-15.2 25.7 L-16.6 22.9 L-17.9 20 L-18.9 16.9 L-19.8 13.7 L-20.5 10.4 L-21 6.9 L-21.3 3.5Z" fill="#000" stroke="#000" stroke-width="2.8" />
<path d="M-23.8 0 L-23.7 -3.1 L-23.4 -6.3 L-22.9 -9.3 L-22.3 -12.3 L-21.5 -15.2 L-20.6 -18 L-19.5 -20.6 L-18.2 -23.1 L-16.8 -25.5 L-15.3 -27.6 L-13.6 -29.5 L-11.9 -31.2 L-10 -32.6 L-8.1 -33.8 L-6.2 -34.8 L-0.5 -36.7 L1.6 -37.4 L3.8 -37.9 L6 -38 L8.2 -37.9 L10.4 -37.4 L12.5 -36.7 L14.6 -35.7 L16.6 -34.4 L18.5 -32.9 L20.4 -31.1 L22.1 -29.1 L23.7 -26.9 L25.2 -24.4 L26.5 -21.8 L27.7 -19 L28.7 -16.1 L29.6 -13 L30.2 -9.8 L30.7 -6.6 L31 -3.3 L31.1 0 L31 3.3 L30.7 6.6 L30.2 9.8 L29.6 13 L28.7 16.1 L27.7 19 L26.5 21.8 L25.2 24.4 L23.7 26.9 L22.1 29.1 L20.4 31.1 L18.5 32.9 L16.6 34.4 L14.6 35.7 L12.5 36.7 L10.4 37.4 L8.2 37.9 L6 38 L3.8 37.9 L1.6 37.4 L-0.5 36.7 L-6.2 34.8 L-8.1 33.8 L-10 32.6 L-11.9 31.2 L-13.6 29.5 L-15.3 27.6 L-16.8 25.5 L-18.2 23.1 L-19.5 20.6 L-20.6 18 L-21.5 15.2 L-22.3 12.3 L-22.9 9.3 L-23.4 6.3 L-23.7 3.1Z" fill="#000" stroke="#000" stroke-width="2.8" />
<path d="M-2 -37.1 L7.5 -37.1 L12.8 -38.8 L3.3 -38.8Z" fill="#fff" stroke="#fff" stroke-width="0.1" />
<path d="M6.9 -39 L16.4 -39 L21.7 -37.8 L12.2 -37.8Z" fill="#fff" stroke="#fff" stroke-width="0.1" />
<path d="M15.6 -36.2 L25.1 -36.2 L29.9 -32.3 L20.4 -32.3Z" fill="#fff" stroke="#fff" stroke-width="0.1" />
<path d="M23.2 -29 L32.7 -29 L36.3 -22.9 L26.8 -22.9Z" fill="#fff" stroke="#fff" stroke-width="0.1" />
<path d="M28.7 -18.3 L38.2 -18.3 L40.2 -10.7 L30.7 -10.7Z" fill="#fff" stroke="#fff" stroke-width="0.1" />
<path d="M31.5 -5.4 L41 -5.4 L41.2 2.7 L31.7 2.7Z" fill="#fff" stroke="#fff" stroke-width="0.1" />
<path d="M31.2 8.1 L40.7 8.1 L39 15.9 L29.5 15.9Z" fill="#fff" stroke="#fff" stroke-width="0.1" />
<path d="M27.8 20.7 L37.3 20.7 L34 27.1 L24.5 27.1Z" fill="#fff" stroke="#fff" stroke-width="0.1" />
<path d="M21.8 30.7 L31.3 30.7 L26.8 35.1 L17.3 35.1Z" fill="#fff" stroke="#fff" stroke-width="0.1" />
<path d="M14 37.1 L23.5 37.1 L18.2 38.8 L8.7 38.8Z" fill="#fff" stroke="#fff" stroke-width="0.1" />
<path d="M5.1 39 L14.6 39 L9.3 37.8 L-0.2 37.8Z" fill="#fff" stroke="#fff" stroke-width="0.1" />
<path d="M17.6 -38.1 L27.1 -38.1 L32.5 -39 L23 -39Z" fill="#fff" stroke="#fff" stroke-width="0.1" />
<path d="M26.6 -38.6 L36.1 -38.6 L41.3 -36.6 L31.8 -36.6Z" fill="#fff" stroke="#fff" stroke-width="0.1" />
<path d="M35.1 -34.4 L44.6 -34.4 L49 -29.9 L39.5 -29.9Z" fill="#fff" stroke="#fff" stroke-width="0.1" />
<path d="M42.1 -26.1 L51.6 -26.1 L54.8 -19.5 L45.3 -19.5Z" fill="#fff" stroke="#fff" stroke-width="0.1" />
<path d="M46.9 -14.6 L56.4 -14.6 L57.8 -6.8 L48.3 -6.8Z" fill="#fff" stroke="#fff" stroke-width="0.1" />
<path d="M48.7 -1.4 L58.2 -1.4 L57.8 6.8 L48.3 6.8Z" fill="#fff" stroke="#fff" stroke-width="0.1" />
<path d="M47.5 12.1 L57 12.1 L54.8 19.5 L45.3 19.5Z" fill="#fff" stroke="#fff" stroke-width="0.1" />
<path d="M43.3 24 L52.8 24 L49 29.9 L39.5 29.9Z" fill="#fff" stroke="#fff" stroke-width="0.1" />
<path d="M36.6 33.1 L46.1 33.1 L41.3 36.6 L31.8 36.6Z" fill="#fff" stroke="#fff" stroke-width="0.1" />
<path d="M28.4 38.1 L37.9 38.1 L32.5 39 L23 39Z" fill="#fff" stroke="#fff" stroke-width="0.1" />
<path d="M19.4 38.6 L28.9 38.6 L23.7 36.6 L14.2 36.6Z" fill="#fff" stroke="#fff" stroke-width="0.1" />
<path d="M31.1 -35.1 L33.4 -33.1 L35.6 -30.7 L37.7 -28.1 L39.5 -25.1 L41.1 -21.8 L42.5 -18.3 L43.7 -14.6 L44.5 -10.7 L45.1 -6.8 L45.5 -2.7 L45.5 1.4 L45.3 5.4 L44.8 9.4 L44 13.3 L42.9 17.1 L41.6 20.7 L40.1 24 L38.3 27.1 L36.3 29.9 L34.2 32.3 L31.9 34.4" stroke="#fff" stroke-width="1.7" fill="none"/>
<ellipse cx="0" cy="0" rx="23.1" ry="35" fill="#fff" stroke="#000" stroke-width="3.6"/>
<ellipse cx="0" cy="0" rx="20.1" ry="30.5" fill="none" stroke="#000" stroke-width="2.2"/>
<path d="M7.6 -19.9 L9.8 -17.6 L11.6 -14.8 L13.1 -11.5 L14.3 -7.9 L14.9 -4 L15.2 0 L14.9 4 L14.3 7.9 L13.1 11.5 L11.6 14.8 L9.8 17.6 L7.6 19.9 L5.2 21.6 L2.6 22.7 L0 23 L-2.6 22.7 L-5.2 21.6 L-7.6 19.9 L-9.8 17.6 L-11.6 14.8 L-13.1 11.5 L-14.3 7.9 L-14.9 4 L-15.2 0 L-14.9 -4 L-14.3 -7.9 L-13.1 -11.5 L-14.5 -16 L-7.5 -23.5Z" fill="#fff" stroke="#000" stroke-width="3.6" />
<path d="M-12.5 -13 L-5 -21 L3 -20" fill="none" stroke="#000" stroke-width="2.1" />
<ellipse cx="-4" cy="30" rx="2.0" ry="2.4" fill="#000"/>
</g>
<path d="M331.4 614.4 L340 608 L350.5 603.6 L359.2 604.8 L369.7 619.6 L381.9 642.3 L381.9 642.3 L397.6 677.1 L408 703.3 L414.1 719.8 L420.2 738.1 L428.9 764.2 L436.9 800 L446.1 833.4 L452.7 866.8 L455.2 900.2 L452.7 933.6 L446.1 967.1 L438.5 992.1 L432.7 1003 L416.8 1013 L403.5 1009.7 L400.1 1000.5 L398.4 988.8 L391.8 950.4 L387.6 927 L390.9 903.6 L390.1 875.2 L383.4 833.4 L376.7 800 L371.4 766 L368 746.8 L362.7 725.9 L352.3 698 L334.8 670.2 L322 648 L322.7 630.1Z" fill="#fff" stroke="#fff" stroke-width="0.1" />
<path d="M331.4 614.4 C334.3 612.3 333.6 611.6 340 608 C346.4 604.4 344.1 604.7 350.5 603.6 C356.9 602.5 352.8 599.5 359.2 604.8 C365.6 610.1 362.1 607.1 369.7 619.6 C377.3 632.1 377.8 634.7 381.9 642.3" fill="none" stroke="#000" stroke-width="2.8" />
<path d="M381.9 642.3 C387.1 653.9 388.9 656.8 397.6 677.1 C406.3 697.4 402.5 689.1 408 703.3 C413.5 717.5 412.1 714.3 414.1 719.8" fill="none" stroke="#000" stroke-width="5" />
<path d="M420.2 738.1 C423.1 746.8 423.3 743.6 428.9 764.2 C434.5 784.8 431.2 776.9 436.9 800 C442.6 823.1 440.8 811.1 446.1 833.4 C451.4 855.7 449.7 844.5 452.7 866.8 C455.7 889.1 455.2 877.9 455.2 900.2 C455.2 922.5 455.7 911.3 452.7 933.6 C449.7 955.9 450.8 947.6 446.1 967.1 C441.4 986.6 443 980.1 438.5 992.1 C434 1004.1 434.6 999.4 432.7 1003" fill="none" stroke="#000" stroke-width="5" />
<path d="M341.8 616.1 C347 626.6 345.9 623.7 357.5 647.5 C369.1 671.3 365.7 664.9 376.7 687.6 C387.7 710.3 383.6 701.6 390.6 715.5 C397.6 729.4 395.3 724.8 397.6 729.4" fill="none" stroke="#000" stroke-width="4.5" />
<path d="M397.6 729.4 C399.9 735.5 400.3 732.5 404.5 747.7 C408.7 762.9 407.4 757.6 410.1 775 C412.8 792.4 410.4 781.7 412.5 800 C414.6 818.3 413.7 810 416.5 830 C419.3 850 417.8 840 421 860 C424.2 880 423.5 870 426 890 C428.5 910 428 901.7 428.5 920 C429 938.3 429.2 929.3 427.5 945 C425.8 960.7 426.8 954.2 423.5 967.1 C420.2 980 421.7 973.2 417.7 983.8 C413.7 994.4 413.6 993.9 411.5 999" fill="none" stroke="#000" stroke-width="2.8" />
<path d="M361.5 645.5 C367.9 658.9 369.7 663 380.7 685.6 C391.8 708.3 387.6 699.5 394.6 713.5 C401.6 727.5 397 716.6 401.7 727.6 C406.5 738.6 404.6 730.9 408.8 746.5 C413.1 762.1 411.8 756.7 414.5 774.3 C417.3 792 414.8 781.1 417 799.5 C419.1 817.8 418.1 809.4 421 829.4 C423.8 849.3 422.3 839.3 425.4 859.3 C428.6 879.3 427.9 869.2 430.5 889.4 C433 909.6 432.5 901.2 433 919.9 C433.5 938.6 433.7 929.4 432 945.5 C430.3 961.6 431.2 954.9 427.9 968.2 C424.5 981.5 426 974.6 421.9 985.4 C417.8 996.2 417.7 995.6 415.7 1000.7" fill="none" stroke="#000" stroke-width="1.8" />
<path d="M365.6 643.6 C372 656.9 373.8 661 384.8 683.7 C395.8 706.3 391.6 697.4 398.6 711.5 C405.7 725.5 403.5 721 405.9 725.8" fill="none" stroke="#000" stroke-width="3.9" />
<path d="M405.9 725.8 C408.3 732.3 408.8 729.4 413.2 745.3 C417.6 761.3 416.2 755.8 419 773.6 C421.7 791.5 419.3 780.6 421.4 799 C423.6 817.3 422.6 808.9 425.4 828.7 C428.2 848.6 426.7 838.5 429.9 858.6 C433.1 878.6 432.4 868.5 434.9 888.9 C437.5 909.3 437 900.7 437.5 919.8 C438 938.8 438.2 929.4 436.4 946 C434.7 962.5 435.7 955.6 432.2 969.3 C428.8 983 430.3 975.9 426.1 987 C422 998 421.9 997.3 419.8 1002.4" fill="none" stroke="#000" stroke-width="2.5" />
<path d="M418 744 C420 753.6 421.1 754.8 423.9 772.9 C426.7 791 424.3 780 426.4 798.4 C428.5 816.8 427.6 808.2 430.4 828 C433.2 847.8 431.7 837.7 434.8 857.8 C438 877.9 437.3 867.7 439.9 888.3 C442.4 908.9 442 900.2 442.5 919.6 C443 939 443.2 929.5 441.4 946.5 C439.6 963.4 440.6 956.4 437.1 970.5 C433.5 984.6 432.9 982.7 430.8 988.7" fill="none" stroke="#000" stroke-width="3.1" />
<path d="M334.8 670.2 C340.6 679.5 343 679.4 352.3 698 C361.6 716.6 357.5 709.6 362.7 725.9 C367.9 742.2 365.1 733.4 368 746.8 C370.9 760.2 368.5 748.3 371.4 766 C374.3 783.7 372.7 777.5 376.7 800 C380.7 822.5 378.9 808.3 383.4 833.4 C387.9 858.5 387.6 851.8 390.1 875.2 C392.6 898.6 391.7 886.3 390.9 903.6 C390.1 920.9 387.3 911.4 387.6 927 C387.9 942.6 388.2 929.8 391.8 950.4 C395.4 971 396.2 976 398.4 988.8" fill="none" stroke="#000" stroke-width="2.8" />
<path d="M339 667.5 C344.9 676.9 347.3 676.8 356.8 695.8 C366.2 714.7 362.1 707.7 367.5 724.4 C372.8 741 369.9 732.1 372.9 745.7 C375.8 759.3 373.4 747.4 376.3 765.2 C379.2 783 377.6 776.7 381.6 799.1 C385.6 821.6 383.8 807.3 388.3 832.5 C392.8 857.7 392.5 850.9 395.1 874.7 C397.6 898.4 396.7 886.4 395.9 903.8 C395.1 921.3 392.3 911.7 392.6 926.9 C392.9 942.1 393.1 929.2 396.7 949.5 C400.3 969.9 401.1 975.1 403.3 988" fill="none" stroke="#000" stroke-width="2.2" />
<path d="M398.4 988.8 C400.1 989.9 402.9 988.2 403.5 992.1 C404.1 996 400.1 994.6 400.1 1000.5 C400.1 1006.4 397.9 1005.5 403.5 1009.7 C409.1 1013.9 409.6 1013.2 416.8 1013 C424 1012.8 419.7 1012.3 425 1009 C430.3 1005.7 430.1 1005 432.7 1003" fill="none" stroke="#000" stroke-width="2.8" />
<path d="M403.5 985.4 C404.9 987.6 404.3 988.7 407.6 992.1 C410.9 995.5 412.1 991.9 413.5 995.5 C414.9 999.1 414 1000 411.8 1003 C409.6 1006 409 1006 406.8 1004.6 C404.6 1003.2 405.7 1000.7 405.1 998.8" fill="none" stroke="#000" stroke-width="2.5" />
<path d="M411.5 999 C413 1001.3 412 1004.1 416 1006 C420 1007.9 421 1005.1 423.5 1004.6" fill="none" stroke="#000" stroke-width="2.2" />
<path d="M356.8 695.8L394.1 723.9" stroke="#000" stroke-width="3.4" fill="none" />
<path d="M356.8 695.8L404.7 748.9" stroke="#000" stroke-width="4.2" fill="none" />
<path d="M372.4 710.7 L389.7 723.3 L395 735.9Z" fill="none" stroke="#000" stroke-width="1.8" />
<path d="M368.8 713.4 L373.4 727.7 L388 734.7Z" fill="none" stroke="#000" stroke-width="1.8" />
<path d="M369.1 730.9L406.3 757.8" stroke="#000" stroke-width="3.4" fill="none" />
<path d="M369.1 730.9L411 784.7" stroke="#000" stroke-width="4.2" fill="none" />
<path d="M383.6 745.7 L400.9 757.8 L403.3 771.2Z" fill="none" stroke="#000" stroke-width="1.8" />
<path d="M379 748.9 L381.6 763.8 L395.8 770.4Z" fill="none" stroke="#000" stroke-width="1.8" />
<path d="M376.7 767.3L412.1 793.7" stroke="#000" stroke-width="3.4" fill="none" />
<path d="M376.7 767.3L415.3 820.8" stroke="#000" stroke-width="4.2" fill="none" />
<path d="M390.2 781.9 L406.7 793.8 L408.3 807.3Z" fill="none" stroke="#000" stroke-width="1.8" />
<path d="M385.6 785.3 L387.5 800.4 L401 806.7Z" fill="none" stroke="#000" stroke-width="1.8" />
<path d="M382.6 804.1L416.6 829.8" stroke="#000" stroke-width="3.4" fill="none" />
<path d="M382.6 804.1L420.5 856.7" stroke="#000" stroke-width="4.2" fill="none" />
<path d="M395.8 818.4 L411.6 830 L413.5 843.5Z" fill="none" stroke="#000" stroke-width="1.8" />
<path d="M391.6 821.9 L394 836.9 L406.8 843Z" fill="none" stroke="#000" stroke-width="1.8" />
<path d="M389.6 840.6L421.9 865.7" stroke="#000" stroke-width="3.4" fill="none" />
<path d="M389.6 840.6L426.2 892.6" stroke="#000" stroke-width="4.2" fill="none" />
<path d="M402.3 854.8 L417.3 866 L419.4 879.5Z" fill="none" stroke="#000" stroke-width="1.8" />
<path d="M398 858.4 L399.8 873.5 L412.7 879.2Z" fill="none" stroke="#000" stroke-width="1.8" />
<path d="M395.1 877.4L426.7 901.7" stroke="#000" stroke-width="3.4" fill="none" />
<path d="M395.1 877.4L428.1 928.9" stroke="#000" stroke-width="4.2" fill="none" />
<path d="M407 891.3 L421.7 902.2 L422.4 915.8Z" fill="none" stroke="#000" stroke-width="1.8" />
<path d="M401.6 895.1 L400.7 910.4 L414.8 915.7Z" fill="none" stroke="#000" stroke-width="1.8" />
<path d="M394.4 914.5L427.1 937.9" stroke="#000" stroke-width="3.4" fill="none" />
<path d="M394.4 914.5L423.9 964.9" stroke="#000" stroke-width="4.2" fill="none" />
<path d="M405.8 928 L421.1 938.5 L419.5 952Z" fill="none" stroke="#000" stroke-width="1.8" />
<path d="M400.8 932 L401.5 947 L412.6 952.1Z" fill="none" stroke="#000" stroke-width="1.8" />
<path d="M397 951.3L420.8 973.4" stroke="#000" stroke-width="3.4" fill="none" />
<path d="M397 951.3L411.5 999" stroke="#000" stroke-width="4.2" fill="none" />
<path d="M404 964.1 L415.3 974 L410.6 986.8Z" fill="none" stroke="#000" stroke-width="1.8" />
<path d="M401.2 968.1 L403.7 983.3 L407 987.2Z" fill="none" stroke="#000" stroke-width="1.8" />
<path d="M419 884 C418.5 888 417 887 417.5 896 C418 905 417.7 904 420.5 911 C423.3 918 422.5 916 426 917 C429.5 918 429.7 919.7 431 914 C432.3 908.3 432.2 909.3 430 900 C427.8 890.7 428.2 891.3 424.5 886 C420.8 880.7 420.8 884.7 419 884" fill="none" stroke="#000" stroke-width="2.5" />
<path d="M422.5 892 C422.8 896 421.8 898 423.5 904 C425.2 910 426.2 908 427.5 910" fill="none" stroke="#000" stroke-width="2.1" />
<path d="M331.4 614.4 C328.5 619.6 325.9 619.1 322.7 630.1 C319.5 641.1 322.1 641.7 321.8 647.5" fill="none" stroke="#000" stroke-width="2.8" />
<path d="M334.8 621.4 C332.5 626 330.8 626.6 327.9 635.3 C325 644 326.7 643.4 326.1 647.5" fill="none" stroke="#000" stroke-width="2.5" />
<path d="M330.5 633.6 C333.7 633.9 333.9 629.9 340 634.5 C346.1 639.1 345.3 637.9 348.8 647.5 C352.3 657.1 352.2 655.1 350.5 663.2 C348.8 671.3 349.4 671.9 343.6 671.9 C337.8 671.9 336.6 666.1 333.1 663.2" fill="none" stroke="#000" stroke-width="3.1" />
<path d="M336 629 C339 630.3 339.5 627.3 345 633 C350.5 638.7 349.3 636.3 352.5 646 C355.7 655.7 356 652.3 354.5 662 C353 671.7 353.5 669.7 348 675 C342.5 680.3 343.7 680.3 338 678 C332.3 675.7 333.3 671.3 331 668" fill="none" stroke="#000" stroke-width="2.5" />
<path d="M338 659 C339.3 660.8 338.8 663.5 342 664.5 C345.2 665.5 345.7 662.8 347.5 662" fill="none" stroke="#000" stroke-width="2.2" />
<path d="M336 619.5 L340.5 627 L346 634" fill="none" stroke="#000" stroke-width="4.2" />
<path d="M350 652 L356 666 L362 684 L372 694" fill="none" stroke="#000" stroke-width="3.4" />
<path d="M345.5 674 L354 690 L361 704" fill="none" stroke="#000" stroke-width="2.2" />
<path d="M353.1 674L372.8 693.7" stroke="#000" stroke-width="4.5" fill="none" />
<path d="M355.6 696.2L374.1 692.5" stroke="#000" stroke-width="3.4" fill="none" />
<path d="M360.5 693.7L369.1 715.9" stroke="#000" stroke-width="4.2" fill="none" />
<path d="M361.7 701.1 L376.5 697.4 L381.5 713.5 L366.7 717.2Z" fill="none" stroke="#000" stroke-width="2.4" />
<path d="M372.8 718.4 L386.4 713.5 L388.9 727 L374.1 723.3Z" fill="none" stroke="#000" stroke-width="2.4" />
<path d="M369.1 729.5L391.4 733.2" stroke="#000" stroke-width="4.2" fill="none" />
<path d="M760.4 648.9 L777.8 639.4 L783.6 643.1 L785 659 L782.9 702.6 L770.5 728.7 L760.4 749.1 L753.1 766.5 L745.8 783.9 L748.7 804.5 L745.8 823.4 L732.8 837.9 L719.7 853.9 L716.1 871.3 L719.7 906.2 L723.3 935.2 L721.9 955.5 L704.5 964.2 L673.2 981.7 L666 975.9 L662.3 949.7 L666 913.4 L671.8 877.1 L679 840.8 L687.8 804.5 L705.9 746.2 L727 699.7 L737.1 677.9 L751.6 659Z" fill="#fff" stroke="#fff" stroke-width="0.1" />
<path d="M760.4 648.9 C765 646.4 771.6 641 777.8 639.4 C784 637.9 781.6 637.8 783.6 643.1 C785.5 648.3 785.2 643.2 785 659 C784.8 674.9 786.7 684 782.9 702.6 C779 721.2 776.5 716.3 770.5 728.7 C764.5 741.1 763.1 743.6 760.4 749.1" fill="none" stroke="#000" stroke-width="2.8" />
<path d="M753.1 766.5 C751.4 770.7 747.7 772.3 746.6 782.5 C745.4 792.6 748.9 793.6 748.7 804.5 C748.5 815.4 750.1 814.5 745.8 823.4 C741.6 832.3 739.7 829.8 732.8 837.9 C725.8 846 724.1 845 719.7 853.9 C715.2 862.8 716.1 857.4 716.1 871.3 C716.1 885.3 717.8 889.1 719.7 906.2 C721.6 923.2 722.7 922 723.3 935.2 C723.9 948.4 722.3 950.1 721.9 955.5" fill="none" stroke="#000" stroke-width="2.8" />
<path d="M721.9 955.5 L704.5 964.2 L673.2 981.7 L666 975.9" fill="none" stroke="#000" stroke-width="2.8" />
<path d="M760.4 648.9 C758 651.6 757.8 651.3 751.6 659 C745.4 666.8 743.7 667.1 737.1 677.9 C730.5 688.8 729.7 693.9 727 699.7" fill="none" stroke="#000" stroke-width="2.8" />
<path d="M758.2 655.4 C754.1 661.6 748.9 668.4 742.9 678.6 C736.9 688.9 737.6 689.8 735.7 693.9" fill="none" stroke="#000" stroke-width="2.4" />
<path d="M761.8 650.3 C763 652.7 765.2 649 766.2 659 C767.1 669.1 766.6 674.1 765.4 688.1 C764.3 702 765.5 699.7 761.8 711.3 C758.1 722.9 756.3 722.7 751.6 731.6 C747 740.5 746.3 741.2 744.4 744.7" fill="none" stroke="#000" stroke-width="2.8" />
<path d="M762.5 661.2 C762.4 668.4 763.1 675.5 762.1 688.1 C761 700.7 761.8 697.6 758.6 708.4 C755.4 719.3 754.4 719.4 750.2 728.7 C746 738 744.9 739.4 742.9 743.3" fill="none" stroke="#000" stroke-width="2.2" />
<path d="M761.1 656.9 L752.4 672.8 L761.8 677.9Z" fill="none" stroke="#000" stroke-width="2.8" />
<path d="M742.9 680.1 C746.3 680.8 746.8 679.1 753.1 682.3 C759.4 685.4 758.9 687.1 761.8 689.5" fill="none" stroke="#000" stroke-width="3.1" />
<path d="M745.1 683 L735.7 694.6" fill="none" stroke="#000" stroke-width="2.5" />
<path d="M751.6 705.5 L761.1 702.6 L758.2 710.6 L752.4 712Z" fill="#000" stroke="#000" stroke-width="2.1" />
<path d="M721.1 726.6 L754.5 717.1" fill="none" stroke="#000" stroke-width="4.2" />
<path d="M729.6 720.3 L720 729 L726.7 734.8" fill="none" stroke="#000" stroke-width="3.9" />
<path d="M723.3 731.6 L750.2 724.7" fill="none" stroke="#000" stroke-width="3.1" />
<path d="M742.9 712.8 C744.1 714.8 743.7 715.5 746.6 718.9 C749.5 722.3 747.8 723.5 751.6 722.9 C755.5 722.3 756 719.1 758.2 717.1" fill="none" stroke="#000" stroke-width="3.1" />
<path d="M751.6 724.4 L743.7 743.3" fill="none" stroke="#000" stroke-width="2.5" />
<path d="M755.7 725.8 L748 744.7" fill="none" stroke="#000" stroke-width="2.5" />
<path d="M705.9 746.2 C704.2 752 702.7 756.3 699.4 767.9 C696.1 779.6 696.7 780 693.6 789.7 C690.5 799.5 691.6 790.9 687.8 804.5 C683.9 818.1 683.3 821.5 679 840.8 C674.8 860.2 675.3 857.8 671.8 877.1 C668.3 896.5 668.5 894.1 666 913.4 C663.5 932.8 662.3 933.1 662.3 949.7 C662.3 966.4 665 968.9 666 975.9" fill="none" stroke="#000" stroke-width="2.8" />
<path d="M712.4 749.1 C710.7 754.5 709.2 758.6 705.9 769.4 C702.6 780.2 703.4 780.4 700.1 789.7 C696.8 799.1 697.6 790.9 693.6 804.5 C689.5 818.1 689.3 821.5 684.8 840.8 C680.4 860.2 680.3 857.8 676.9 877.1 C673.4 896.5 674.1 894.1 671.8 913.4 C669.5 932.8 668.5 933.8 668.2 949.7 C667.8 965.6 669.7 966.8 670.3 973" fill="none" stroke="#000" stroke-width="2.4" />
<path d="M717.1 750.8 C715.3 756.2 713.5 760.5 710.3 770.8 C707 781.2 708.2 780.7 704.9 789.7 C701.6 798.7 701.9 790.9 697.9 804.5 C693.9 818.1 694.2 821.5 689.9 840.8 C685.7 860.2 685.8 857.8 681.9 877.1 C678.1 896.5 678 897.9 675.4 913.4 C672.8 928.9 673 929.4 672.1 935.2" fill="none" stroke="#000" stroke-width="2.4" />
<path d="M718.2 752 L737.1 762.1 L725.5 783.9 L707.4 783.9Z" fill="none" stroke="#000" stroke-width="2.8" />
<path d="M720 752.7 L730.2 773" fill="none" stroke="#000" stroke-width="4.2" />
<path d="M731.3 759.2 L733.5 765.8 L737.1 761.4" fill="none" stroke="#000" stroke-width="2.8" />
<path d="M697.9 788.3 L725.5 786.1" fill="none" stroke="#000" stroke-width="3.6" />
<path d="M698.6 792.6 L722.6 791.2" fill="none" stroke="#000" stroke-width="2.5" />
<path d="M740.8 762.1 C738.8 767.2 736.6 773.6 733.5 781 C730.4 788.4 729.7 782.6 729.1 790 C728.6 797.4 731.3 797.6 731.3 808.9 C731.3 820.1 734.2 822 729.1 832.1 C724.1 842.2 720 838.5 712.4 846.6 C704.9 854.8 704.9 853.7 700.8 862.6 C696.8 871.5 697.2 864.5 697.2 880 C697.2 895.5 698.7 902.1 700.8 920.7 C703 939.3 704 938.1 705.2 949.7 C706.3 961.3 705.2 960.4 705.2 964.2" fill="none" stroke="#000" stroke-width="2.8" />
<path d="M737.1 762.9 C735.2 767.7 733 773.8 729.9 781 C726.8 788.2 726.1 782.6 725.5 790 C724.9 797.4 727.7 798 727.7 808.9 C727.7 819.7 730.3 821.2 725.5 830.7 C720.7 840.1 716.9 836.3 709.5 844.5 C702.2 852.6 702.2 851.7 697.9 861.1 C693.7 870.6 693.8 864.1 693.6 880 C693.4 895.9 695.3 902.1 697.2 920.7 C699.1 939.3 699.7 938.5 700.8 949.7 C702 961 701.4 959.3 701.5 962.8" fill="none" stroke="#000" stroke-width="2.2" />
<ellipse cx="714.6" cy="815" rx="12" ry="20" transform="rotate(-22 714.6 815)" fill="#fff" stroke="#000" stroke-width="2.8"/>
<ellipse cx="715.4" cy="815.5" rx="9.4" ry="17" transform="rotate(-22 715.4 815.5)" fill="none" stroke="#000" stroke-width="2.1"/>
<ellipse cx="718.2" cy="815.8" rx="6.4" ry="13.4" transform="rotate(-22 718.2 815.8)" fill="#000" stroke="#000" stroke-width="1.4"/>
<ellipse cx="720.4" cy="816.8" rx="3" ry="9.5" transform="rotate(-22 720.4 816.8)" fill="#fff" stroke="#fff" stroke-width="1.4"/>
<path d="M693.6 832.1 L713.9 840.1 L692.1 845.9Z" fill="none" stroke="#000" stroke-width="2.8" />
<path d="M696.5 829.2 L708.1 855.3" fill="none" stroke="#000" stroke-width="4.5" />
<path d="M684.8 857.1 L698.6 853.9" fill="none" stroke="#000" stroke-width="3.4" />
<path d="M683.1 859.7 L693.6 882.9" fill="none" stroke="#000" stroke-width="4.8" />
<path d="M686.6 855.6 L697.9 869.1" fill="none" stroke="#000" stroke-width="3.1" />
<path d="M681.2 890.2 L693.6 882.9 L692.4 894.8Z" fill="none" stroke="#000" stroke-width="2.8" />
<path d="M674.7 897.7 L696.8 900.6" fill="none" stroke="#000" stroke-width="3.6" />
<path d="M674.4 902.5 L695.7 905" fill="none" stroke="#000" stroke-width="2.2" />
<path d="M674 908.3 L679.5 929.7 L673.2 929.7Z" fill="#000" stroke="#000" stroke-width="2.2" />
<path d="M683.7 902.1 L696.5 905 L697.9 926.5 L690.9 927.9Z" fill="none" stroke="#000" stroke-width="2.8" />
<path d="M671.8 934 L693.6 935.5" fill="none" stroke="#000" stroke-width="3.1" />
<ellipse cx="690.7" cy="950.4" rx="11" ry="17" transform="rotate(-22 690.7 950.4)" fill="#fff" stroke="#000" stroke-width="2.8"/>
<ellipse cx="691.3" cy="950.8" rx="8.6" ry="14.4" transform="rotate(-22 691.3 950.8)" fill="none" stroke="#000" stroke-width="2.1"/>
<ellipse cx="693" cy="950.4" rx="5.6" ry="11.4" transform="rotate(-22 693 950.4)" fill="#000" stroke="#000" stroke-width="1.4"/>
<ellipse cx="695" cy="951.4" rx="2.4" ry="7.6" transform="rotate(-22 695 951.4)" fill="#fff" stroke="#fff" stroke-width="1.4"/>
<path d="M670.3 973.7 L704.5 955.5" fill="none" stroke="#000" stroke-width="2.2" />
<path d="M671.8 968.6 L681.2 962.8" fill="none" stroke="#000" stroke-width="2.2" />
<path d="M922.9 328.9 L931.6 360.4 L933.1 363.3 L936.2 365.6 L940.7 367.3 L946.4 368.2 L952.8 368.2 L959.6 367.4 L966.2 365.8 L972.2 363.4 L977.2 360.6 L980.8 357.4 L982.9 354 L983.2 350.8 L975.3 319.3Z" fill="#fff" stroke="#000" stroke-width="3.1" />
<ellipse cx="949.1" cy="324.1" rx="26.6" ry="12" transform="rotate(-10.5 949.1 324.1)" fill="#fff" stroke="#000" stroke-width="3.1"/>
<path d="M924.6 333.9 L926.9 336.1 L930.4 337.8 L934.9 338.9 L940.2 339.4 L945.9 339.3 L951.9 338.5 L957.7 337.1 L963.1 335.2 L967.9 332.8 L971.7 330.1 L974.3 327.3 L975.7 324.4" fill="none" stroke="#000" stroke-width="3.6" />
<path d="M1376.1 575.4 L1376.2 572.6 L1376.8 569.9 L1377.8 567.4 L1388.4 546.6 L1389.7 544.3 L1391.4 542.1 L1393.5 540.2 L1395.9 538.6 L1398.5 537.3 L1401.3 536.3 L1404.3 535.7 L1407.5 535.5 L1410.7 535.6 L1413.9 536.2 L1417 537 L1420.1 538.3 L1423 539.8 L1425.7 541.7 L1428.1 543.8 L1430.3 546.1 L1432.1 548.7 L1433.6 551.4 L1434.7 554.2 L1435.4 557 L1435.7 559.9 L1435.6 562.7 L1435 565.4 L1434 568 L1423.4 588.6 L1422.1 591 L1420.4 593.2 L1418.3 595.1 L1415.9 596.7 L1413.3 598 L1410.5 599 L1407.5 599.6 L1404.3 599.8 L1401.1 599.7 L1397.9 599.1 L1394.8 598.3 L1391.7 597 L1388.8 595.5 L1386.1 593.6 L1383.7 591.5 L1381.5 589.2 L1379.7 586.6 L1378.2 583.9 L1377.1 581.1 L1376.4 578.3Z" fill="#fff" stroke="#000" stroke-width="3.1" />
<ellipse cx="1411.2" cy="557.3" rx="25.2" ry="21" transform="rotate(25 1411.2 557.3)" fill="#fff" stroke="#000" stroke-width="3.4"/>
<path d="M957.5 390 L961 388.3 L966.5 389 L968 393 L966 398.5 L962.5 401.5 L959 400 L957 395Z" fill="#fff" stroke="#000" stroke-width="3.6" />
<path d="M960.5 390.5 L961.5 398" fill="none" stroke="#000" stroke-width="3.4" />
<path d="M963.5 389.5 L965.8 390.5 L966 394" fill="none" stroke="#000" stroke-width="2.8" />
<path d="M968.5 396 C968.7 398.3 967.7 399.2 969 403 C970.3 406.8 969.7 406 972.5 407.5 C975.3 409 974.8 408.8 977.5 407.5 C980.2 406.2 979.7 407.2 980.5 403.5 C981.3 399.8 980.2 398.8 980 396.5" fill="none" stroke="#000" stroke-width="3.4" />
<path d="M968.5 396 C969.3 395.2 969.2 393.5 971 393.5 C972.8 393.5 973.2 393.7 974 396 C974.8 398.3 972.5 398.8 973.5 400.5 C974.5 402.2 974.8 402.3 977 401 C979.2 399.7 979 398 980 396.5" fill="none" stroke="#000" stroke-width="2.8" />
<ellipse cx="984.3" cy="456" rx="19.2" ry="9" transform="rotate(-13 984.3 456)" fill="#fff" stroke="#000" stroke-width="5"/>
<ellipse cx="984.8" cy="456" rx="14" ry="5.6" transform="rotate(-13 984.8 456)" fill="none" stroke="#000" stroke-width="3.6"/>
<ellipse cx="984.3" cy="456" rx="16.6" ry="7.2" transform="rotate(-13 984.3 456)" fill="none" stroke="#000" stroke-width="2.8" stroke-dasharray="2 1.6"/>
<ellipse cx="985.3" cy="455.5" rx="8.5" ry="2.6" transform="rotate(-13 985.3 455.5)" fill="none" stroke="#000" stroke-width="2.1"/>
<path d="M998 447.5 L1003.5 451 L999 458" fill="none" stroke="#000" stroke-width="3.1" />
<ellipse cx="1010.8" cy="547.5" rx="19" ry="7.4" transform="rotate(-12 1010.8 547.5)" fill="none" stroke="#000" stroke-width="7.3"/>
<ellipse cx="1010.8" cy="547.5" rx="19" ry="7.4" transform="rotate(-12 1010.8 547.5)" fill="none" stroke="#fff" stroke-width="2"/>
<ellipse cx="1008.1" cy="538.8" rx="19" ry="7.4" transform="rotate(-12 1008.1 538.8)" fill="none" stroke="#000" stroke-width="7.3"/>
<ellipse cx="1008.1" cy="538.8" rx="19" ry="7.4" transform="rotate(-12 1008.1 538.8)" fill="none" stroke="#fff" stroke-width="2"/>
<ellipse cx="1005.5" cy="530" rx="19" ry="7.4" transform="rotate(-12 1005.5 530)" fill="none" stroke="#000" stroke-width="7.3"/>
<ellipse cx="1005.5" cy="530" rx="19" ry="7.4" transform="rotate(-12 1005.5 530)" fill="none" stroke="#fff" stroke-width="2"/>
<ellipse cx="1002.8" cy="521.3" rx="19" ry="7.4" transform="rotate(-12 1002.8 521.3)" fill="none" stroke="#000" stroke-width="7.3"/>
<ellipse cx="1002.8" cy="521.3" rx="19" ry="7.4" transform="rotate(-12 1002.8 521.3)" fill="none" stroke="#fff" stroke-width="2"/>
<ellipse cx="1000.2" cy="512.5" rx="19" ry="7.4" transform="rotate(-12 1000.2 512.5)" fill="none" stroke="#000" stroke-width="7.3"/>
<ellipse cx="1000.2" cy="512.5" rx="19" ry="7.4" transform="rotate(-12 1000.2 512.5)" fill="none" stroke="#fff" stroke-width="2"/>
<ellipse cx="997.5" cy="503.8" rx="19" ry="7.4" transform="rotate(-12 997.5 503.8)" fill="none" stroke="#000" stroke-width="7.3"/>
<ellipse cx="997.5" cy="503.8" rx="19" ry="7.4" transform="rotate(-12 997.5 503.8)" fill="none" stroke="#fff" stroke-width="2"/>
<ellipse cx="997.5" cy="503.8" rx="16.6" ry="5" transform="rotate(-12 997.5 503.8)" fill="#fff" stroke="#fff" stroke-width="0.1"/>
<path d="M984 508 Q999 513 1013 503" fill="none" stroke="#000" stroke-width="2.2"/>
<path d="M1012.5 492.8 L1016.5 492.2 L1017.5 499" fill="none" stroke="#000" stroke-width="2.8" />
<ellipse cx="1028.7" cy="616.2" rx="20.4" ry="8.4" transform="rotate(-15 1028.7 616.2)" fill="#fff" stroke="#000" stroke-width="3.4"/>
<ellipse cx="1028.7" cy="614.6" rx="20.4" ry="8.4" transform="rotate(-15 1028.7 614.6)" fill="#fff" stroke="#000" stroke-width="3.1"/>
<path d="M1012 591.5 L1010.8 604 L1011.5 612 L1009.5 617.5 L1014 616.5 L1030 613.5 L1043.5 606.5 L1041 603.5 L1037.5 597 L1034.2 586.2Z" fill="#fff" stroke="#fff" stroke-width="0.1" />
<path d="M1012 591.5 C1011.6 595.7 1010.9 597.3 1010.8 604 C1010.7 610.7 1012.1 607.2 1011.8 611.5 C1011.5 615.8 1010.5 615.2 1009.8 617" fill="none" stroke="#000" stroke-width="3.1" />
<path d="M1034.2 586 C1035.3 589.7 1035.2 591.2 1037.5 597 C1039.8 602.8 1038 600 1041 603.5 C1044 607 1044.7 606.2 1046.5 607.5" fill="none" stroke="#000" stroke-width="3.1" />
<path d="M1014.5 607 L1015.2 615" fill="none" stroke="#000" stroke-width="2.1" />
<path d="M1040 604.5 L1042.5 609.5" fill="none" stroke="#000" stroke-width="2.1" />
<ellipse cx="1023" cy="589.2" rx="11.4" ry="7.2" transform="rotate(-10 1023 589.2)" fill="#fff" stroke="#000" stroke-width="3.1"/>
<ellipse cx="1023" cy="588.4" rx="9.6" ry="5.4" transform="rotate(-10 1023 588.4)" fill="#000" stroke="#000" stroke-width="1.4"/>
<ellipse cx="1094.6" cy="853.4" rx="24" ry="8.6" transform="rotate(-17 1094.6 853.4)" fill="#fff" stroke="#000" stroke-width="3.4"/>
<ellipse cx="1094.6" cy="851" rx="24" ry="8.6" transform="rotate(-17 1094.6 851)" fill="#fff" stroke="#000" stroke-width="3.1"/>
<path d="M1082.2 821 L1083.2 836 L1079.5 846 L1073 852.5 L1095 848 L1112 840.5 L1102 836.5 L1095.5 826 L1091.8 818Z" fill="#fff" stroke="#fff" stroke-width="0.1" />
<path d="M1082.2 820.5 C1082.7 825.3 1084.2 826.7 1083.6 835 C1083 843.3 1084.2 839.2 1080.5 845.5 C1076.8 851.8 1075.2 851.2 1072.5 854" fill="none" stroke="#000" stroke-width="3.1" />
<path d="M1091.8 818 C1093 821 1091.9 820.8 1095.5 827 C1099.1 833.2 1095.5 831.7 1102.5 836.5 C1109.5 841.3 1111.8 839.8 1116.5 841.5" fill="none" stroke="#000" stroke-width="3.1" />
<path d="M1049 698.5 L1082.2 821 L1091.8 818 L1057.8 696Z" fill="#fff" stroke="#fff" stroke-width="0.1" />
<path d="M1049 698.5L1082.2 821" stroke="#000" stroke-width="3.6" fill="none" />
<path d="M1057.8 696L1091.8 818" stroke="#000" stroke-width="2.8" fill="none" />
<path d="M1052.2 704L1084.5 822" stroke="#000" stroke-width="1.8" fill="none" />
<path d="M1082.2 821 L1087 822.5 L1091.8 818" fill="none" stroke="#000" stroke-width="2.2" />
<ellipse cx="1053.4" cy="695.9" rx="4.8" ry="3.4" transform="rotate(-15 1053.4 695.9)" fill="#000" stroke="#000" stroke-width="1.4"/>
<path d="M1048.6 699.5 L1050 705.5 L1058.8 702.5 L1057.6 697Z" fill="#000" stroke="#000" stroke-width="1.4" />
<ellipse cx="1360" cy="643.2" rx="8.6" ry="10" transform="rotate(20 1360 643.2)" fill="#000" stroke="#000" stroke-width="1.4"/>
<ellipse cx="1365.5" cy="645.7" rx="6" ry="8" transform="rotate(20 1365.5 645.7)" fill="#fff" stroke="#000" stroke-width="3.4"/>
<path d="M1363.5 640.7 L1368.5 649.7" fill="none" stroke="#000" stroke-width="3.1" />
<path d="M1357.5 645.2 L1360.5 650.2" fill="none" stroke="#fff" stroke-width="2.2" />
<path d="M1361 636.7 L1363 639.7" fill="none" stroke="#fff" stroke-width="2" />
<ellipse cx="1333" cy="695.6" rx="18.6" ry="16.4" transform="rotate(22 1333 695.6)" fill="#fff" stroke="#000" stroke-width="5.6"/>
<ellipse cx="1334" cy="694.4" rx="13.2" ry="11.2" transform="rotate(22 1334 694.4)" fill="none" stroke="#000" stroke-width="2.2"/>
<ellipse cx="1334.5" cy="693.8" rx="9" ry="7.4" transform="rotate(22 1334.5 693.8)" fill="none" stroke="#000" stroke-width="3.4"/>
<path d="M1331 693.6 q4 -3.5 7 0.5 q-1 3 -4 2.5" fill="none" stroke="#000" stroke-width="2.5"/>
<ellipse cx="1292.6" cy="773.6" rx="18.6" ry="15.2" transform="rotate(22 1292.6 773.6)" fill="none" stroke="#000" stroke-width="7"/>
<ellipse cx="1292.6" cy="773.6" rx="18.6" ry="15.2" transform="rotate(22 1292.6 773.6)" fill="none" stroke="#fff" stroke-width="1.7"/>
<ellipse cx="1295.3" cy="767.4" rx="18.6" ry="15.2" transform="rotate(22 1295.3 767.4)" fill="none" stroke="#000" stroke-width="7"/>
<ellipse cx="1295.3" cy="767.4" rx="18.6" ry="15.2" transform="rotate(22 1295.3 767.4)" fill="none" stroke="#fff" stroke-width="1.7"/>
<ellipse cx="1298.1" cy="761.2" rx="18.6" ry="15.2" transform="rotate(22 1298.1 761.2)" fill="none" stroke="#000" stroke-width="7"/>
<ellipse cx="1298.1" cy="761.2" rx="18.6" ry="15.2" transform="rotate(22 1298.1 761.2)" fill="none" stroke="#fff" stroke-width="1.7"/>
<ellipse cx="1300.8" cy="755" rx="18.6" ry="15.2" transform="rotate(22 1300.8 755)" fill="none" stroke="#000" stroke-width="7"/>
<ellipse cx="1300.8" cy="755" rx="18.6" ry="15.2" transform="rotate(22 1300.8 755)" fill="none" stroke="#fff" stroke-width="1.7"/>
<ellipse cx="1303.6" cy="748.8" rx="18.6" ry="15.2" transform="rotate(22 1303.6 748.8)" fill="none" stroke="#000" stroke-width="7"/>
<ellipse cx="1303.6" cy="748.8" rx="18.6" ry="15.2" transform="rotate(22 1303.6 748.8)" fill="none" stroke="#fff" stroke-width="1.7"/>
<ellipse cx="1306.3" cy="742.6" rx="18.6" ry="15.2" transform="rotate(22 1306.3 742.6)" fill="none" stroke="#000" stroke-width="7"/>
<ellipse cx="1306.3" cy="742.6" rx="18.6" ry="15.2" transform="rotate(22 1306.3 742.6)" fill="none" stroke="#fff" stroke-width="1.7"/>
<ellipse cx="1306.3" cy="742.6" rx="16.3" ry="12.9" transform="rotate(22 1306.3 742.6)" fill="#fff" stroke="#fff" stroke-width="0.1"/>
<g transform="translate(1304.8 741.1) rotate(22)"><path d="M-12 0 A12 8.5 0 0 0 12 0" fill="none" stroke="#000" stroke-width="2.8"/></g>
<g transform="translate(1303.3 745.6) rotate(22)"><path d="M-10.5 0 A10.5 7.5 0 0 0 10.5 0" fill="none" stroke="#000" stroke-width="2.8"/></g>
<g transform="translate(1301.8 749.6) rotate(22)"><path d="M-9 0 A9 6.5 0 0 0 9 0" fill="none" stroke="#000" stroke-width="2.8"/></g>
<ellipse cx="1256.3" cy="832.6" rx="19.2" ry="17.4" transform="rotate(20 1256.3 832.6)" fill="#fff" stroke="#000" stroke-width="3.4"/>
<path d="M1245.5 822.5 L1249 816 L1254.5 812.5" fill="none" stroke="#000" stroke-width="2.8" />
<path d="M1272.5 823 L1270 830 L1268 838" fill="none" stroke="#000" stroke-width="2.8" />
<path d="M1246.5 820 L1250 817.5" fill="none" stroke="#000" stroke-width="2.1" />
<path d="M1268.5 828.5 L1267 834" fill="none" stroke="#000" stroke-width="2.1" />
<ellipse cx="1265.2" cy="816.2" rx="10.2" ry="9.2" transform="rotate(20 1265.2 816.2)" fill="#000" stroke="#000" stroke-width="1.4"/>
<ellipse cx="1265.8" cy="816" rx="2.9" ry="2.5" transform="rotate(20 1265.8 816)" fill="#fff" stroke="#fff" stroke-width="1.4"/>
<ellipse cx="1177.6" cy="974.8" rx="28.4" ry="24.4" transform="rotate(22 1177.6 974.8)" fill="#fff" stroke="#000" stroke-width="5.9"/>
<ellipse cx="1179.2" cy="973.4" rx="25.6" ry="21.6" transform="rotate(22 1179.2 973.4)" fill="none" stroke="#000" stroke-width="2"/>
<path d="M1229.6 873.2 L1180.6 956 L1188.6 961 L1237.4 876.6Z" fill="#fff" stroke="#fff" stroke-width="0.1" />
<path d="M1229.6 873.2L1180.6 956" stroke="#000" stroke-width="3.1" fill="none" />
<path d="M1237.4 876.6L1188.6 961" stroke="#000" stroke-width="3.1" fill="none" />
<path d="M1231.5 880.5L1183.6 958.6" stroke="#000" stroke-width="1.7" fill="none" />
<ellipse cx="1233.6" cy="873.6" rx="4.6" ry="3.2" transform="rotate(25 1233.6 873.6)" fill="#fff" stroke="#000" stroke-width="2.8"/>
<circle cx="1231.6" cy="879.6" r="1.3" fill="none" stroke="#000" stroke-width="1.7"/>
<path d="M1180.6 956 L1176.5 961.5 L1174 965" fill="none" stroke="#000" stroke-width="2.5" />
<path d="M1188.6 961 L1187 967.5 L1185.5 972" fill="none" stroke="#000" stroke-width="2.5" />
<path d="M1183.5 959 L1182 964" fill="none" stroke="#000" stroke-width="2" />
<g transform="translate(248.3 641) rotate(-26)">
<path d="M31 8.5 L29.7 8.2 L28.5 7.4 L27.4 6 L26.6 4.2 L26.1 2.2 L25.9 0 L26.1 -2.2 L26.6 -4.3 L27.4 -6 L28.4 -7.4 L29.7 -8.2 L31 -8.5 L55.5 -8.5 L56.8 -8.2 L58 -7.4 L59.1 -6 L59.9 -4.2 L60.4 -2.2 L60.6 0 L60.4 2.2 L59.9 4.2 L59.1 6 L58 7.4 L56.8 8.2 L55.5 8.5Z" fill="#fff" stroke="#000" stroke-width="2.8" />
<path d="M34 -8.5 L35.3 -8.2 L36.5 -7.4 L37.6 -6 L38.4 -4.2 L38.9 -2.2 L39.1 0 L38.9 2.2 L38.4 4.2 L37.6 6 L36.5 7.4 L35.3 8.2 L34 8.5" fill="none" stroke="#000" stroke-width="3.1" />
<path d="M38.8 -8.5 L40.1 -8.2 L41.3 -7.4 L42.4 -6 L43.2 -4.2 L43.7 -2.2 L43.9 0 L43.7 2.2 L43.2 4.2 L42.4 6 L41.3 7.4 L40.1 8.2 L38.8 8.5" fill="none" stroke="#000" stroke-width="3.1" />
<path d="M43.6 -8.5 L44.9 -8.2 L46.1 -7.4 L47.2 -6 L48 -4.2 L48.5 -2.2 L48.7 0 L48.5 2.2 L48 4.2 L47.2 6 L46.1 7.4 L44.9 8.2 L43.6 8.5" fill="none" stroke="#000" stroke-width="3.1" />
<path d="M48.4 -8.5 L49.7 -8.2 L50.9 -7.4 L52 -6 L52.8 -4.2 L53.3 -2.2 L53.5 0 L53.3 2.2 L52.8 4.2 L52 6 L50.9 7.4 L49.7 8.2 L48.4 8.5" fill="none" stroke="#000" stroke-width="3.1" />
<path d="M53.2 -8.5 L54.5 -8.2 L55.7 -7.4 L56.8 -6 L57.6 -4.2 L58.1 -2.2 L58.3 0 L58.1 2.2 L57.6 4.2 L56.8 6 L55.7 7.4 L54.5 8.2 L53.2 8.5" fill="none" stroke="#000" stroke-width="3.1" />
<path d="M3 6.4 L2 6.2 L1.1 5.5 L0.3 4.5 L-0.3 3.2 L-0.7 1.7 L-0.8 0 L-0.7 -1.7 L-0.3 -3.2 L0.3 -4.5 L1.1 -5.5 L2 -6.2 L3 -6.4 L33 -6.4 L34 -6.2 L34.9 -5.5 L35.7 -4.5 L36.3 -3.2 L36.7 -1.7 L36.8 0 L36.7 1.7 L36.3 3.2 L35.7 4.5 L34.9 5.5 L34 6.2 L33 6.4Z" fill="#fff" stroke="#000" stroke-width="2.8" />
<path d="M0 18.5 L-2.9 17.9 L-5.5 16 L-7.8 13.1 L-9.6 9.2 L-10.7 4.8 L-11.1 0 L-10.7 -4.8 L-9.6 -9.3 L-7.8 -13.1 L-5.6 -16 L-2.9 -17.9 L-0 -18.5 L3.2 -18.5 L6.1 -17.9 L8.8 -16 L11 -13.1 L12.8 -9.2 L13.9 -4.8 L14.3 0 L13.9 4.8 L12.8 9.2 L11 13.1 L8.8 16 L6.1 17.9 L3.2 18.5Z" fill="#fff" stroke="#000" stroke-width="3.6" />
<ellipse cx="0" cy="0" rx="11.1" ry="18.5" fill="#fff" stroke="#000" stroke-width="4.2"/>
<path d="M-14.7 -3.2 L-9.4 -12.1 L-1.9 -12.1 L5.3 -8.8 L7.2 3.2 L1.9 12.1 L-5.6 12.1 L-12.8 8.8Z" fill="#fff" stroke="#000" stroke-width="3.4" />
<path d="M-0.3 3.2L7.2 3.2" stroke="#000" stroke-width="2.2" fill="none" />
<path d="M-5.6 12.1L1.9 12.1" stroke="#000" stroke-width="2.2" fill="none" />
<path d="M-2.2 -8.8L5.3 -8.8" stroke="#000" stroke-width="2.2" fill="none" />
<path d="M-0.3 3.2 L-5.6 12.1 L-12.8 8.8 L-14.7 -3.2 L-9.4 -12.1 L-2.2 -8.8Z" fill="#fff" stroke="#000" stroke-width="3.4" />
</g>
<g transform="translate(278.6 808.2) rotate(-26)">
<path d="M31 8.5 L29.7 8.2 L28.5 7.4 L27.4 6 L26.6 4.2 L26.1 2.2 L25.9 0 L26.1 -2.2 L26.6 -4.3 L27.4 -6 L28.4 -7.4 L29.7 -8.2 L31 -8.5 L55.5 -8.5 L56.8 -8.2 L58 -7.4 L59.1 -6 L59.9 -4.2 L60.4 -2.2 L60.6 0 L60.4 2.2 L59.9 4.2 L59.1 6 L58 7.4 L56.8 8.2 L55.5 8.5Z" fill="#fff" stroke="#000" stroke-width="2.8" />
<path d="M34 -8.5 L35.3 -8.2 L36.5 -7.4 L37.6 -6 L38.4 -4.2 L38.9 -2.2 L39.1 0 L38.9 2.2 L38.4 4.2 L37.6 6 L36.5 7.4 L35.3 8.2 L34 8.5" fill="none" stroke="#000" stroke-width="3.1" />
<path d="M38.8 -8.5 L40.1 -8.2 L41.3 -7.4 L42.4 -6 L43.2 -4.2 L43.7 -2.2 L43.9 0 L43.7 2.2 L43.2 4.2 L42.4 6 L41.3 7.4 L40.1 8.2 L38.8 8.5" fill="none" stroke="#000" stroke-width="3.1" />
<path d="M43.6 -8.5 L44.9 -8.2 L46.1 -7.4 L47.2 -6 L48 -4.2 L48.5 -2.2 L48.7 0 L48.5 2.2 L48 4.2 L47.2 6 L46.1 7.4 L44.9 8.2 L43.6 8.5" fill="none" stroke="#000" stroke-width="3.1" />
<path d="M48.4 -8.5 L49.7 -8.2 L50.9 -7.4 L52 -6 L52.8 -4.2 L53.3 -2.2 L53.5 0 L53.3 2.2 L52.8 4.2 L52 6 L50.9 7.4 L49.7 8.2 L48.4 8.5" fill="none" stroke="#000" stroke-width="3.1" />
<path d="M53.2 -8.5 L54.5 -8.2 L55.7 -7.4 L56.8 -6 L57.6 -4.2 L58.1 -2.2 L58.3 0 L58.1 2.2 L57.6 4.2 L56.8 6 L55.7 7.4 L54.5 8.2 L53.2 8.5" fill="none" stroke="#000" stroke-width="3.1" />
<path d="M3 6.4 L2 6.2 L1.1 5.5 L0.3 4.5 L-0.3 3.2 L-0.7 1.7 L-0.8 0 L-0.7 -1.7 L-0.3 -3.2 L0.3 -4.5 L1.1 -5.5 L2 -6.2 L3 -6.4 L33 -6.4 L34 -6.2 L34.9 -5.5 L35.7 -4.5 L36.3 -3.2 L36.7 -1.7 L36.8 0 L36.7 1.7 L36.3 3.2 L35.7 4.5 L34.9 5.5 L34 6.2 L33 6.4Z" fill="#fff" stroke="#000" stroke-width="2.8" />
<path d="M0 18.5 L-2.9 17.9 L-5.5 16 L-7.8 13.1 L-9.6 9.2 L-10.7 4.8 L-11.1 0 L-10.7 -4.8 L-9.6 -9.3 L-7.8 -13.1 L-5.6 -16 L-2.9 -17.9 L-0 -18.5 L3.2 -18.5 L6.1 -17.9 L8.8 -16 L11 -13.1 L12.8 -9.2 L13.9 -4.8 L14.3 0 L13.9 4.8 L12.8 9.2 L11 13.1 L8.8 16 L6.1 17.9 L3.2 18.5Z" fill="#fff" stroke="#000" stroke-width="3.6" />
<ellipse cx="0" cy="0" rx="11.1" ry="18.5" fill="#fff" stroke="#000" stroke-width="4.2"/>
<path d="M-14.7 -3.2 L-9.4 -12.1 L-1.9 -12.1 L5.3 -8.8 L7.2 3.2 L1.9 12.1 L-5.6 12.1 L-12.8 8.8Z" fill="#fff" stroke="#000" stroke-width="3.4" />
<path d="M-0.3 3.2L7.2 3.2" stroke="#000" stroke-width="2.2" fill="none" />
<path d="M-5.6 12.1L1.9 12.1" stroke="#000" stroke-width="2.2" fill="none" />
<path d="M-2.2 -8.8L5.3 -8.8" stroke="#000" stroke-width="2.2" fill="none" />
<path d="M-0.3 3.2 L-5.6 12.1 L-12.8 8.8 L-14.7 -3.2 L-9.4 -12.1 L-2.2 -8.8Z" fill="#fff" stroke="#000" stroke-width="3.4" />
</g>
<g transform="translate(240.8 706.2) rotate(-29)">
<path d="M8 4.6 L7.3 4.4 L6.6 4 L6 3.3 L5.6 2.3 L5.3 1.2 L5.2 0 L5.3 -1.2 L5.6 -2.3 L6 -3.3 L6.6 -4 L7.3 -4.4 L8 -4.6 L17.5 -4.6 L18.2 -4.4 L18.9 -4 L19.5 -3.3 L19.9 -2.3 L20.2 -1.2 L20.3 0 L20.2 1.2 L19.9 2.3 L19.5 3.3 L18.9 4 L18.2 4.4 L17.5 4.6Z" fill="#fff" stroke="#000" stroke-width="2.8" />
<path d="M0 16.5 L-2.6 15.9 L-4.9 14.3 L-7 11.7 L-8.6 8.2 L-9.6 4.3 L-9.9 0 L-9.6 -4.3 L-8.6 -8.3 L-7 -11.7 L-5 -14.3 L-2.6 -15.9 L-0 -16.5 L3 -16.5 L5.6 -15.9 L8 -14.3 L10 -11.7 L11.6 -8.2 L12.6 -4.3 L12.9 0 L12.6 4.3 L11.6 8.2 L10 11.7 L8 14.3 L5.6 15.9 L3 16.5Z" fill="#fff" stroke="#000" stroke-width="3.4" />
<ellipse cx="0" cy="0" rx="9.9" ry="16.5" fill="#fff" stroke="#000" stroke-width="3.9"/>
<path d="M-9.2 -2.3 L-5.4 -8.7 L-1.4 -8.7 L3.8 -6.4 L5.2 2.3 L1.4 8.7 L-2.6 8.7 L-7.8 6.4Z" fill="#fff" stroke="#000" stroke-width="3.9" />
<path d="M1.2 2.3L5.2 2.3" stroke="#000" stroke-width="2.2" fill="none" />
<path d="M-2.6 8.7L1.4 8.7" stroke="#000" stroke-width="2.2" fill="none" />
<path d="M-0.2 -6.4L3.8 -6.4" stroke="#000" stroke-width="2.2" fill="none" />
<path d="M1.2 2.3 L-2.6 8.7 L-7.8 6.4 L-9.2 -2.3 L-5.4 -8.7 L-0.2 -6.4Z" fill="#fff" stroke="#000" stroke-width="3.9" />
<ellipse cx="-4" cy="0" rx="2.6" ry="4.4" fill="none" stroke="#000" stroke-width="3.9"/>
</g>
<g transform="translate(282 1050) rotate(-28.5)">
<path d="M5 5.3 L4.2 5.1 L3.4 4.6 L2.8 3.7 L2.2 2.6 L1.9 1.4 L1.8 0 L1.9 -1.4 L2.2 -2.7 L2.8 -3.7 L3.4 -4.6 L4.2 -5.1 L5 -5.3 L34.5 -5.3 L35.3 -5.1 L36.1 -4.6 L36.7 -3.7 L37.3 -2.6 L37.6 -1.4 L37.7 0 L37.6 1.4 L37.3 2.6 L36.7 3.7 L36.1 4.6 L35.3 5.1 L34.5 5.3Z" fill="#fff" stroke="#000" stroke-width="2.8" />
<path d="M12 -5.3 L12.8 -5.1 L13.6 -4.6 L14.2 -3.7 L14.8 -2.6 L15.1 -1.4 L15.2 0 L15.1 1.4 L14.8 2.6 L14.2 3.7 L13.6 4.6 L12.8 5.1 L12 5.3" fill="none" stroke="#000" stroke-width="3.1" />
<path d="M17 -5.3 L17.8 -5.1 L18.6 -4.6 L19.2 -3.7 L19.8 -2.6 L20.1 -1.4 L20.2 0 L20.1 1.4 L19.8 2.6 L19.2 3.7 L18.6 4.6 L17.8 5.1 L17 5.3" fill="none" stroke="#000" stroke-width="3.1" />
<path d="M22 -5.3 L22.8 -5.1 L23.6 -4.6 L24.2 -3.7 L24.8 -2.6 L25.1 -1.4 L25.2 0 L25.1 1.4 L24.8 2.6 L24.2 3.7 L23.6 4.6 L22.8 5.1 L22 5.3" fill="none" stroke="#000" stroke-width="3.1" />
<path d="M27 -5.3 L27.8 -5.1 L28.6 -4.6 L29.2 -3.7 L29.8 -2.6 L30.1 -1.4 L30.2 0 L30.1 1.4 L29.8 2.6 L29.2 3.7 L28.6 4.6 L27.8 5.1 L27 5.3" fill="none" stroke="#000" stroke-width="3.1" />
<path d="M32 -5.3 L32.8 -5.1 L33.6 -4.6 L34.2 -3.7 L34.8 -2.6 L35.1 -1.4 L35.2 0 L35.1 1.4 L34.8 2.6 L34.2 3.7 L33.6 4.6 L32.8 5.1 L32 5.3" fill="none" stroke="#000" stroke-width="3.1" />
<path d="M0 9.6 L-1.5 9.3 L-2.9 8.3 L-4.1 6.8 L-5 4.8 L-5.6 2.5 L-5.8 0 L-5.6 -2.5 L-5 -4.8 L-4.1 -6.8 L-2.9 -8.3 L-1.5 -9.3 L-0 -9.6 L5 -9.6 L6.5 -9.3 L7.9 -8.3 L9.1 -6.8 L10 -4.8 L10.6 -2.5 L10.8 0 L10.6 2.5 L10 4.8 L9.1 6.8 L7.9 8.3 L6.5 9.3 L5 9.6Z" fill="#fff" stroke="#000" stroke-width="3.4" />
<path d="M2.5 -9.6 L4 -9.3 L5.4 -8.3 L6.6 -6.8 L7.5 -4.8 L8.1 -2.5 L8.3 0 L8.1 2.5 L7.5 4.8 L6.6 6.8 L5.4 8.3 L4 9.3 L2.5 9.6" fill="none" stroke="#000" stroke-width="2.5" />
<path d="M-12.3 0 L-9.4 -8.3 L2.9 -8.3 L5.8 0 L2.9 8.3 L-9.4 8.3Z" fill="#fff" stroke="#000" stroke-width="3.4" />
<path d="M-0.7 0L5.8 0" stroke="#000" stroke-width="2.2" fill="none" />
<path d="M-3.6 8.3L2.9 8.3" stroke="#000" stroke-width="2.2" fill="none" />
<path d="M-3.6 -8.3L2.9 -8.3" stroke="#000" stroke-width="2.2" fill="none" />
<path d="M-0.7 0 L-3.6 8.3 L-9.4 8.3 L-12.3 0 L-9.4 -8.3 L-3.6 -8.3Z" fill="#fff" stroke="#000" stroke-width="3.4" />
</g>
<g transform="translate(831.5 861) rotate(-29.5)">
<path d="M15 5.6 L14.1 5.4 L13.3 4.8 L12.6 4 L12.1 2.8 L11.8 1.4 L11.6 0 L11.8 -1.4 L12.1 -2.8 L12.6 -4 L13.3 -4.8 L14.1 -5.4 L15 -5.6 L28.5 -5.6 L29.4 -5.4 L30.2 -4.8 L30.9 -4 L31.4 -2.8 L31.7 -1.4 L31.9 0 L31.7 1.4 L31.4 2.8 L30.9 4 L30.2 4.8 L29.4 5.4 L28.5 5.6Z" fill="#fff" stroke="#000" stroke-width="2.8" />
<path d="M2 9.4 L0.5 9.1 L-0.8 8.1 L-2 6.6 L-2.9 4.7 L-3.4 2.4 L-3.6 0 L-3.4 -2.4 L-2.9 -4.7 L-2 -6.6 L-0.8 -8.1 L0.5 -9.1 L2 -9.4 L17 -9.4 L18.5 -9.1 L19.8 -8.1 L21 -6.6 L21.9 -4.7 L22.4 -2.4 L22.6 0 L22.4 2.4 L21.9 4.7 L21 6.6 L19.8 8.1 L18.5 9.1 L17 9.4Z" fill="#fff" stroke="#000" stroke-width="2.8" />
<path d="M-14.2 -1.8 L-10.2 -9.9 L-0.2 -9.9 L6 -8 L8.2 1.8 L4.2 9.9 L-5.8 9.9 L-12.1 8Z" fill="#fff" stroke="#000" stroke-width="3.4" />
<path d="M-1.8 1.8L8.2 1.8" stroke="#000" stroke-width="2.2" fill="none" />
<path d="M-5.8 9.9L4.2 9.9" stroke="#000" stroke-width="2.2" fill="none" />
<path d="M-4 -8L6 -8" stroke="#000" stroke-width="2.2" fill="none" />
<path d="M-1.8 1.8 L-5.8 9.9 L-12 8 L-14.2 -1.8 L-10.2 -9.9 L-4 -8Z" fill="#fff" stroke="#000" stroke-width="3.4" />
</g>
<g transform="translate(718 357.2) rotate(-30)">
<path d="M-5 4.6 L-5.7 4.4 L-6.4 4 L-7 3.3 L-7.4 2.3 L-7.7 1.2 L-7.8 0 L-7.7 -1.2 L-7.4 -2.3 L-7 -3.3 L-6.4 -4 L-5.7 -4.4 L-5 -4.6 L5.5 -4.6 L6.2 -4.4 L6.9 -4 L7.5 -3.3 L7.9 -2.3 L8.2 -1.2 L8.3 0 L8.2 1.2 L7.9 2.3 L7.5 3.3 L6.9 4 L6.2 4.4 L5.5 4.6Z" fill="#fff" stroke="#000" stroke-width="2.8" />
<ellipse cx="-5" cy="0" rx="2.8" ry="4.6" fill="#fff" stroke="#000" stroke-width="2.8"/>
<ellipse cx="-5" cy="0" rx="1.4" ry="2.3" fill="none" stroke="#000" stroke-width="1.8"/>
</g>
<g transform="translate(1257 523.6) rotate(-30)">
<path d="M-5 4.6 L-5.7 4.4 L-6.4 4 L-7 3.3 L-7.4 2.3 L-7.7 1.2 L-7.8 0 L-7.7 -1.2 L-7.4 -2.3 L-7 -3.3 L-6.4 -4 L-5.7 -4.4 L-5 -4.6 L5.5 -4.6 L6.2 -4.4 L6.9 -4 L7.5 -3.3 L7.9 -2.3 L8.2 -1.2 L8.3 0 L8.2 1.2 L7.9 2.3 L7.5 3.3 L6.9 4 L6.2 4.4 L5.5 4.6Z" fill="#fff" stroke="#000" stroke-width="2.8" />
<ellipse cx="-5" cy="0" rx="2.8" ry="4.6" fill="#fff" stroke="#000" stroke-width="2.8"/>
<ellipse cx="-5" cy="0" rx="1.4" ry="2.3" fill="none" stroke="#000" stroke-width="1.8"/>
</g>
<path d="M327.2 930.4 L352.5 936.5 L359.3 941.5 L361.7 952 L370.4 992.7 L369.1 1005.1 L364.2 1016.2 L348.8 1026.7 L336.4 1025.4 L330.2 1019.9 L327.8 1008.8 L319.1 1004.4 L296.3 997.7 L292.6 992.7 L288.3 979.1 L287.7 959.4 L290.7 956.9 L310.5 944.6 L311.7 939.6Z" fill="#fff" stroke="#000" stroke-width="3.4" />
<path d="M314.2 939 L326.5 949.5 L336.4 952 L341.4 961.9 L346.3 989 L348.8 1007.5 L351.9 1018.6" fill="none" stroke="#000" stroke-width="2.7" />
<path d="M311.7 977.3 L343.8 987.2" fill="none" stroke="#000" stroke-width="2.8" />
<path d="M327.2 930.4 L314.2 939 L313 945.2" fill="none" stroke="#000" stroke-width="2.2" />
<path d="M352.5 936.5 L336.4 940.9" fill="none" stroke="#000" stroke-width="2" />
<ellipse cx="337.9" cy="943.6" rx="9.4" ry="4.4" transform="rotate(-14 337.9 943.6)" fill="#000" stroke="#000" stroke-width="1.4"/>
<ellipse cx="300.6" cy="973.6" rx="10.8" ry="12.2" transform="rotate(-20 300.6 973.6)" fill="#fff" stroke="#000" stroke-width="5"/>
<ellipse cx="301.2" cy="973.8" rx="6.6" ry="8.2" transform="rotate(-20 301.2 973.8)" fill="none" stroke="#000" stroke-width="2.2"/>
<path d="M297.5 968 L296.7 979.1" fill="none" stroke="#000" stroke-width="2.1" />
<path d="M302.5 967.4 L300.6 978.5" fill="none" stroke="#000" stroke-width="2.1" />
<ellipse cx="319.4" cy="952.6" rx="6.8" ry="10.2" transform="rotate(-22 319.4 952.6)" fill="#fff" stroke="#000" stroke-width="3.6"/>
<ellipse cx="320.2" cy="953.2" rx="3.8" ry="6.8" transform="rotate(-22 320.2 953.2)" fill="none" stroke="#000" stroke-width="2.1"/>
<path d="M314.2 959.4 L319.1 965.6 L325.3 964.3 L327.2 950.7" fill="none" stroke="#000" stroke-width="3.1" />
<ellipse cx="334.6" cy="976" rx="3.4" ry="4.8" transform="rotate(-20 334.6 976)" fill="none" stroke="#000" stroke-width="2.8"/>
<path d="M347.5 970.5 L357.4 966.2 L361.7 968 L364.8 982.8 L353.7 987.2 L350 985.3 L347.5 970.5" fill="none" stroke="#000" stroke-width="3.1" />
<path d="M351.5 974.2 L358.6 971.4 L361.1 981 L354.3 983.8 L351.5 974.2" fill="none" stroke="#000" stroke-width="2" />
<circle cx="355.7" cy="976" r="2.6" fill="none" stroke="#000" stroke-width="2.2"/>
<ellipse cx="354" cy="995.2" rx="9" ry="12" transform="rotate(-12 354 995.2)" fill="#000" stroke="#000" stroke-width="1.4"/>
<ellipse cx="359.3" cy="995.2" rx="6.2" ry="8.6" transform="rotate(-12 359.3 995.2)" fill="#fff" stroke="#000" stroke-width="2.8"/>
<ellipse cx="364.2" cy="995.2" rx="4" ry="5.6" transform="rotate(-12 364.2 995.2)" fill="#fff" stroke="#000" stroke-width="3.1"/>
<path d="M363.3 995.2 L366 994.9" fill="none" stroke="#000" stroke-width="2.5" />
<path d="M348.8 1007.5 L356.2 1005.7 L367.3 1001.4" fill="none" stroke="#000" stroke-width="2.5" />
<ellipse cx="341.1" cy="1015.9" rx="5" ry="8.6" transform="rotate(-30 341.1 1015.9)" fill="#fff" stroke="#000" stroke-width="4.2"/>
<path d="M330.2 1008.8 L331.5 1017.4 L336.4 1023" fill="none" stroke="#000" stroke-width="4.5" />
<path d="M348.8 1026.7 L350.6 1011.2" fill="none" stroke="#000" stroke-width="2.5" />
<path d="M12.8 1145.9 L18.4 1138.5 L42.2 1151.4 L44.1 1144.8 L49.6 1164.2 L31.2 1167.9 L35.6 1160.6Z" fill="#fff" stroke="#000" stroke-width="3.4" />
<path d="M352 750.5L436 718" stroke="#fff" stroke-width="9" fill="none"/>
<path d="M318 663L341 650" stroke="#fff" stroke-width="6" fill="none"/>
<path d="M700 726L768 688" stroke="#fff" stroke-width="8" fill="none"/>
<path d="M700 732.5L775 766" stroke="#fff" stroke-width="8" fill="none"/>
<path d="M376 569.5L416 547" stroke="#fff" stroke-width="7" fill="none"/>
<path d="M464 702L508 676.5" stroke="#fff" stroke-width="6" fill="none"/>
<path d="M309 607.7 L421 544.2" stroke="#000" stroke-width="1.8" fill="none" stroke-dasharray="26 6 6 6"/>
<path d="M496 500 L507.6 493.2" stroke="#000" stroke-width="1.8" fill="none" stroke-dasharray="26 6 6 6"/>
<path d="M567.7 458.7 L709 376" stroke="#000" stroke-width="1.8" fill="none" stroke-dasharray="26 6 6 6"/>
<path d="M262.2 693.3 L340 651" stroke="#000" stroke-width="1.8" fill="none" stroke-dasharray="26 6 6 6"/>
<path d="M337 775 L515.3 672.6" stroke="#000" stroke-width="1.8" fill="none" stroke-dasharray="26 6 6 6"/>
<path d="M610.5 616.8 L657.4 591.2" stroke="#000" stroke-width="1.8" fill="none" stroke-dasharray="26 6 6 6"/>
<path d="M691.9 570.5 L747.1 539.5 L1000 685.8 L1093.2 632.5" stroke="#000" stroke-width="1.8" fill="none" stroke-dasharray="26 6 6 6"/>
<path d="M1169 589.2 L1244.5 545.6" stroke="#000" stroke-width="1.8" fill="none" stroke-dasharray="26 6 6 6"/>
<path d="M865 840.3 L899.5 821.4 L693.6 729.6 L759.7 692.6" stroke="#000" stroke-width="1.8" fill="none" stroke-dasharray="26 6 6 6"/>
<path d="M789 173L789 212" stroke="#000" stroke-width="2.9" fill="none" />
<path d="M716.3 211.8L860.4 211.8" stroke="#000" stroke-width="2.9" fill="none" />
<path d="M717.3 211.8L717.3 246.5" stroke="#000" stroke-width="2.9" fill="none" />
<path d="M717.3 280.8L717.3 350" stroke="#000" stroke-width="2.9" fill="none" />
<path d="M859.4 211.8L859.4 256" stroke="#000" stroke-width="2.9" fill="none" />
<path d="M979 335.2L1024.5 335.2" stroke="#000" stroke-width="2.9" fill="none" />
<path d="M980 400.7L1028.3 400.7" stroke="#000" stroke-width="2.9" fill="none" />
<path d="M1003.5 451.2L1046.3 451.2" stroke="#000" stroke-width="2.9" fill="none" />
<path d="M1024.2 524.1L1063.4 524.1" stroke="#000" stroke-width="2.9" fill="none" />
<path d="M1047.7 610.5L1091.3 610.5" stroke="#000" stroke-width="2.9" fill="none" />
<path d="M1337.2 331.8L1337.2 368.7" stroke="#000" stroke-width="2.9" fill="none" />
<path d="M1254.8 367.7L1420.4 367.7" stroke="#000" stroke-width="2.9" fill="none" />
<path d="M1255.8 367.7L1255.8 410.5" stroke="#000" stroke-width="2.9" fill="none" />
<path d="M1255.8 443L1255.8 516.5" stroke="#000" stroke-width="2.9" fill="none" />
<path d="M1419.4 367.7L1419.4 394" stroke="#000" stroke-width="2.9" fill="none" />
<path d="M1436 559.5L1487.5 559.5" stroke="#000" stroke-width="2.9" fill="none" />
<path d="M1371.7 645.6L1418.9 645.6" stroke="#000" stroke-width="2.9" fill="none" />
<path d="M1351.8 701.6L1399.3 701.6" stroke="#000" stroke-width="2.9" fill="none" />
<path d="M1314.5 769.2L1369.2 769.2" stroke="#000" stroke-width="2.9" fill="none" />
<path d="M1274.5 841.6L1327.5 841.6" stroke="#000" stroke-width="2.9" fill="none" />
<path d="M1073.8 755.8L1118 755.8" stroke="#000" stroke-width="2.9" fill="none" />
<path d="M1209 931.9L1264.3 931.9" stroke="#000" stroke-width="2.9" fill="none" />
<path d="M459.3 367.5L459.3 430.2" stroke="#000" stroke-width="2.9" fill="none" />
<path d="M556.1 420.9L556.1 573.2" stroke="#000" stroke-width="2.9" fill="none" />
<path d="M313.3 482.7L372.6 482.7" stroke="#000" stroke-width="2.9" fill="none" />
<path d="M178.9 640.6L234.6 640.6" stroke="#000" stroke-width="2.9" fill="none" />
<path d="M179.4 707.1L229.1 707.1" stroke="#000" stroke-width="2.9" fill="none" />
<path d="M219.4 808.5L264.4 808.5" stroke="#000" stroke-width="2.9" fill="none" />
<path d="M242.3 973.8L288.4 973.8" stroke="#000" stroke-width="2.9" fill="none" />
<path d="M227.7 1051.9L269.1 1051.9" stroke="#000" stroke-width="2.9" fill="none" />
<path d="M409.9 1011.9L409.9 1064.3" stroke="#000" stroke-width="2.9" fill="none" />
<path d="M509.5 1082L509.5 1132.3" stroke="#000" stroke-width="2.9" fill="none" />
<path d="M691.9 973.2L691.9 1035.9" stroke="#000" stroke-width="2.9" fill="none" />
<path d="M833 872.2L833 924.1" stroke="#000" stroke-width="2.9" fill="none" />
<g font-family="'Liberation Sans', Arial, sans-serif">
<rect x="1024" y="321" width="105.7" height="26.8" fill="#ff8a8a"/>
<text transform="translate(1030.2 344.5) scale(1.1 1)" font-size="24.2" letter-spacing="1.93" fill="#8c1515">03172</text>
<rect x="1487" y="545.4" width="105.8" height="27" fill="#ff8a8a"/>
<text transform="translate(1493 569) scale(1.1 1)" font-size="24.6" letter-spacing="1.81" fill="#8c1515">03172</text>
<text transform="translate(746.6 166.4) scale(1.1 1)" font-size="23" letter-spacing="2.91" fill="#000">03109</text>
<text transform="translate(675.7 273.4) scale(1.1 1)" font-size="23.3" letter-spacing="2.65" fill="#000">03195</text>
<text transform="translate(1034.2 410) scale(1.1 1)" font-size="23.5" letter-spacing="2.48" fill="#000">03450</text>
<text transform="translate(1051.6 461) scale(1.1 1)" font-size="23.3" letter-spacing="2.65" fill="#000">03405</text>
<text transform="translate(1069.6 533.2) scale(1.1 1)" font-size="23.8" letter-spacing="2.22" fill="#000">03413</text>
<text transform="translate(1097.7 620.1) scale(1.1 1)" font-size="23.6" letter-spacing="2.38" fill="#000">03490</text>
<text transform="translate(1214.5 435.2) scale(1.1 1)" font-size="23.8" letter-spacing="2.22" fill="#000">03195</text>
<text transform="translate(1296.2 324.6) scale(1.1 1)" font-size="23.6" letter-spacing="2.25" fill="#000">03108</text>
<text transform="translate(1424.8 655.2) scale(1.1 1)" font-size="23.6" letter-spacing="2.32" fill="#000">03450</text>
<text transform="translate(1406 710.4) scale(1.1 1)" font-size="23.8" letter-spacing="2.22" fill="#000">03405</text>
<text transform="translate(1375.6 778.9) scale(1.1 1)" font-size="23.8" letter-spacing="2.11" fill="#000">03414</text>
<text transform="translate(1333.7 850.3) scale(1.1 1)" font-size="23.5" letter-spacing="2.42" fill="#000">03480</text>
<text transform="translate(1124.7 764.9) scale(1.1 1)" font-size="23.8" letter-spacing="2.24" fill="#000">03420</text>
<text transform="translate(1271 940.2) scale(1.1 1)" font-size="23.8" letter-spacing="2.11" fill="#000">03410</text>
<text transform="translate(418 359.3) scale(1.1 1)" font-size="23.6" letter-spacing="2.50" fill="#000">03120</text>
<text transform="translate(514.3 413.3) scale(1.1 1)" font-size="23.5" letter-spacing="2.31" fill="#000">03171</text>
<text transform="translate(208.8 491.8) scale(1.1 1)" font-size="23.8" letter-spacing="1.44" fill="#000">03171P</text>
<text transform="translate(73.5 650) scale(1.1 1)" font-size="23.8" letter-spacing="1.65" fill="#000">03289U</text>
<text transform="translate(75.5 716) scale(1.1 1)" font-size="23.8" letter-spacing="1.29" fill="#000">03289S</text>
<text transform="translate(130.9 817.8) scale(1.1 1)" font-size="23.8" letter-spacing="2.42" fill="#000">03289</text>
<text transform="translate(153.6 982.9) scale(1.1 1)" font-size="23.8" letter-spacing="2.40" fill="#000">03176</text>
<text transform="translate(122.7 1061.6) scale(1.1 1)" font-size="24.1" letter-spacing="1.18" fill="#000">03289T</text>
<text transform="translate(368.9 1090.5) scale(1.1 1)" font-size="24.1" letter-spacing="1.89" fill="#000">03142</text>
<text transform="translate(468.2 1158.5) scale(1.1 1)" font-size="23.9" letter-spacing="2.21" fill="#000">03039</text>
<text transform="translate(650.9 1061.6) scale(1.1 1)" font-size="23.8" letter-spacing="1.98" fill="#000">03141</text>
<text transform="translate(784.1 951.4) scale(1.1 1)" font-size="23.8" letter-spacing="1.67" fill="#000">03289Q</text>
<text transform="translate(15.1 1134.9) scale(1.1 1)" font-size="22.1" letter-spacing="1.78" fill="#000">FR</text>
<text transform="translate(1785.6 1178) scale(1.1 1)" font-size="16.8" letter-spacing="2.42" fill="#000">F00138</text>
</g>
</svg>
</body></html>
